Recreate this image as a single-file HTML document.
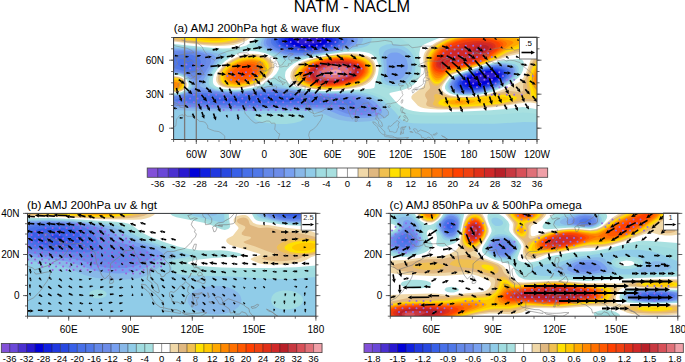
<!DOCTYPE html>
<html><head><meta charset="utf-8"><style>
html,body{margin:0;padding:0;background:#fff;}
svg{display:block;font-family:"Liberation Sans", sans-serif;}
</style></head><body>
<svg width="685" height="362" viewBox="0 0 685 362">
<text x="352" y="11.5" font-size="16.3" text-anchor="middle">NATM - NACLM</text><text x="173.7" y="32" font-size="11.7">(a) AMJ 200hPa hgt &amp; wave flux</text><text x="27" y="208.5" font-size="11.7">(b) AMJ 200hPa uv &amp; hgt</text><text x="389.5" y="208.5" font-size="11.7">(c) AMJ 850hPa uv &amp; 500hPa omega</text><clipPath id="clipa"><rect x="173.6" y="37.5" width="363.4" height="102.0"/></clipPath><g clip-path="url(#clipa)"><rect x="173.6" y="37.5" width="363.4" height="102.0" fill="#8250d8"/><path d="M536.9,139.5L173.6,139.5L173.6,37.5L536.9,37.5L536.9,139.5Z" fill="#6a48d8" fill-rule="evenodd"/><path d="M536.9,139.5L173.6,139.5L173.6,37.5L536.9,37.5L536.9,139.5Z" fill="#4a30d0" fill-rule="evenodd"/><path d="M536.9,139.5L173.6,139.5L173.6,37.5L536.9,37.5L536.9,139.5Z" fill="#2818d0" fill-rule="evenodd"/><path d="M536.9,139.5L173.6,139.5L173.6,37.5L296.5,37.5L294.9,38.8L294.4,40.2L295,41.5L296.2,42.5L301,44.2L307.6,44.8L314.6,44.1L318.2,43.2L320.3,42.2L321.5,41.2L322,39.8L321.3,38.5L320,37.5L536.9,37.5L536.9,139.5ZM476.3,82.5L485.9,80.9L490.9,79.3L494.7,76.8L495.6,75.5L495.5,74.2L493.9,72.9L491.3,72.3L487.6,72.4L483.6,73L478.6,74.5L474.6,76.2L471.4,78.2L470.1,79.8L470,81.2L471.1,82.2L473.3,82.6L476.3,82.5Z" fill="#0000d8" fill-rule="evenodd"/><path d="M536.9,139.5L173.6,139.5L173.6,37.5L289.5,37.5L288.3,39.2L288.1,40.8L289.1,42.5L290.9,43.8L294,45.2L298,46.2L307.3,47L316.7,46.2L321.2,45.2L324.8,43.8L327,42.5L328.3,40.8L328.4,39.2L327.2,37.5L536.9,37.5L536.9,139.5ZM476.3,86.2L485.3,84.2L493.4,80.8L496.3,79L498.3,77.1L499.3,75.2L499.1,73.5L497.2,71.8L493.6,70.9L489.3,70.9L483.7,71.8L476.7,73.8L471.1,76.2L467.4,78.5L465.2,81.2L465.1,83.5L465.8,84.5L467.3,85.5L471.3,86.3L476.3,86.2Z" fill="#1020e0" fill-rule="evenodd"/><path d="M536.9,139.5L173.6,139.5L173.6,37.5L285.3,37.5L284.2,39.5L284.3,41.5L285.4,43.2L287.8,44.8L291.6,46.4L296.3,47.5L306.6,48.4L317.9,47.4L323.6,46.2L327.6,44.8L330.7,43.2L332.2,41.5L332.7,39.5L331.7,37.5L536.9,37.5L536.9,139.5ZM475.4,87.8L480.9,86.9L485.9,85.5L491.2,83.5L495.2,81.5L498.7,79.2L500.9,76.8L501.8,74.8L501.5,72.8L499.3,71L495.3,70L490.3,69.9L484.5,70.8L476.1,73.2L469.5,75.8L465.1,78.5L462.5,81.5L462,83.2L462.2,84.5L463.2,85.8L464.7,86.8L469.3,87.9L475.4,87.8Z" fill="#2038e0" fill-rule="evenodd"/><path d="M536.9,139.5L173.6,139.5L173.6,37.5L282.1,37.5L280.9,39.8L281.1,41.8L282.6,43.8L285.6,45.8L289.6,47.3L294.6,48.5L299.9,49.2L305.9,49.5L312.6,49.2L318.9,48.4L324.9,47.2L330.2,45.5L333.4,43.8L335.5,41.8L336.1,39.8L335.2,37.5L536.9,37.5L536.9,139.5ZM472,89.2L477.9,88.5L483.9,87.2L489.9,85.2L495,82.8L499.4,80.2L502.3,77.5L503.8,74.8L503.6,72.5L501.5,70.5L497.3,69.2L492.3,69L486.3,69.8L478.2,71.8L469.8,74.8L464.7,77.5L461.2,80.5L460.2,82.2L459.8,83.8L460.3,85.5L461.4,86.8L463,87.8L465.6,88.7L472,89.2Z" fill="#2848e0" fill-rule="evenodd"/><path d="M536.9,139.5L173.6,139.5L173.6,37.5L279.3,37.5L278.2,39.8L278.4,42.2L279.9,44.3L282.9,46.3L287.3,48L292.6,49.3L298.6,50.2L304.9,50.5L312,50.2L319.9,49.2L326.5,47.8L332.3,46.1L336.2,44.2L338.4,42.2L339.2,39.8L338.4,37.5L536.9,37.5L536.9,139.5ZM474.8,89.8L480.7,88.8L486.7,87.2L492.9,84.8L498.1,82.2L501.9,79.5L504.5,76.8L505.6,74.2L505.2,71.8L504.3,70.7L502.6,69.7L497.9,68.4L491.9,68.4L484.9,69.5L475.3,72.2L466.8,75.5L461.3,78.8L458.6,82.2L458.1,84.2L458.4,85.8L459.3,87.2L461.3,88.5L463.9,89.4L466.9,89.9L474.8,89.8Z" fill="#3860e8" fill-rule="evenodd"/><path d="M536.9,139.5L173.6,139.5L173.6,37.5L276.8,37.5L275.6,40.2L275.9,42.5L277.7,44.8L280.7,46.8L285.6,48.8L291.3,50.2L297.6,51.1L303.9,51.4L311.6,51L319.9,50L327.9,48.4L334.6,46.5L338.8,44.5L341.1,42.5L342,40.2L341.3,37.5L536.9,37.5L536.9,139.5ZM471.7,90.8L477.9,90.1L484.8,88.5L491.6,86.2L497.9,83.2L502.5,80.2L505.7,77.2L507.2,74.2L506.9,71.5L505.8,70.2L504.2,69.2L499.6,67.8L493.9,67.6L487.1,68.5L476.8,71.2L467.5,74.5L461.2,77.8L457.7,81.2L456.7,83.2L456.5,85.2L457.3,87L458.8,88.5L461.3,89.7L464.3,90.5L471.7,90.8ZM262.8,102.8L291.9,101.8L299.8,100.8L302.2,100.2L302.6,99.5L299.4,98.2L290.2,96.5L279.4,95.5L267.3,95.1L255.4,95.5L230.9,98.3L212.6,98.4L209,98.8L209.8,99.5L213,100.2L229.2,101.8L244.6,102.7L262.8,102.8Z" fill="#4870e8" fill-rule="evenodd"/><path d="M536.9,139.5L173.6,139.5L173.6,37.5L274.4,37.5L273.3,40.2L273.5,42.8L275.3,45.2L278.3,47.2L283.3,49.3L289.3,50.9L295.6,51.9L302.6,52.3L310.9,51.9L320.3,50.7L330,48.8L337,46.8L341.2,44.8L343.9,42.5L344.8,40.2L344.2,37.5L536.9,37.5L536.9,139.5ZM189.7,68.5L192.6,66.8L194.2,64.2L194,61.5L192,59.2L188.6,57.8L184.3,57.6L180.9,58.5L178.5,60.5L177.8,62.2L177.8,63.8L178.3,65.2L179.7,66.5L181.6,67.5L184.9,68.5L187.6,68.8L189.7,68.5ZM471.9,91.5L478.9,90.6L485.9,88.8L493.3,86.2L499.4,83.2L504.3,79.8L507.5,76.5L508.8,73.5L508.3,70.8L507.1,69.5L505.4,68.5L500.3,67.1L494.3,67L486.9,68L475.3,71.2L465.4,74.8L459.5,78.2L457.5,79.8L455.9,81.8L455.1,83.8L455.1,85.8L456.2,87.8L457.9,89.3L460.6,90.5L463.6,91.2L471.9,91.5ZM278.4,104.5L314.8,102.8L326.6,101.7L329.2,101.2L330.3,100.5L328.5,99.5L323.4,98.5L295.8,94.8L283.3,93.7L269.6,93.2L257.9,93.5L230.9,95.8L222.9,95.7L206.9,94.8L198.3,94.9L190.6,96.2L186.9,97.8L185.6,99.2L186,99.8L187.4,100.5L192.1,101.5L213.9,103.5L244.9,104.7L278.4,104.5Z" fill="#5078e8" fill-rule="evenodd"/><path d="M536.9,139.5L173.6,139.5L173.6,67.9L188.9,72.5L192.9,72.8L195.9,71.4L198.8,68.8L200.5,65.8L201.1,62.8L200.5,60.2L198.7,57.8L195.9,56.2L191.6,54.8L186.3,54.2L180.9,54.4L176.6,55.4L173.6,57.1L173.6,37.5L272.2,37.5L270.9,40.5L271.2,43.2L272.9,45.5L275.8,47.5L281.3,49.9L287.6,51.7L294.3,52.8L301.3,53.1L309.9,52.7L320.3,51.4L331.3,49.3L339.2,47.2L343.7,45.2L346.5,42.8L347.7,40.2L347.1,37.5L536.9,37.5L536.9,139.5ZM471.2,92.2L478.3,91.3L485.8,89.5L493.3,86.8L500.2,83.5L505.2,80.2L508.9,76.5L510.3,73.2L509.8,70.5L508.7,69.2L506.9,68L501.9,66.5L495.9,66.3L488.6,67.2L476.1,70.5L464.9,74.5L458.7,77.8L454.9,81.5L453.8,83.8L453.7,85.8L454.6,87.8L456.3,89.5L459,90.8L462.6,91.8L471.2,92.2ZM277.3,105.8L327.9,104.4L337.9,104.7L351.9,105.6L354.5,105.2L355.2,104.2L354.3,102.5L351.2,100.5L347.4,99.2L342.3,98.1L314.6,95.6L289.6,92.8L273.9,92L260.3,92.2L240.3,94.1L231.3,94.6L222.6,94.4L205.3,93L195.9,93.1L190.4,94.2L181.9,97.3L175.7,99.2L174.3,100.2L177,101.5L184,102.8L207.8,104.8L241.3,106L277.3,105.8Z" fill="#6488e8" fill-rule="evenodd"/><path d="M536.9,139.5L173.6,139.5L173.6,103.5L198.6,105.7L234.6,107.1L259.9,107.2L316.6,106.2L329.3,106.3L340.6,107.6L352.9,111.7L359.3,112.6L362.9,112.5L366.3,111.8L368.3,110.7L369.1,109.2L368.8,107.8L367.5,105.8L363.5,102.2L358.3,99.4L351.6,97.4L342.3,96.2L314.9,94.6L281.9,91.1L263.9,90.9L240.3,93.2L230.6,93.6L221.6,93.3L203.9,91.5L196.6,91.4L191.9,92.2L180.9,96.3L173.6,97.3L173.6,70.2L182.6,72L192.6,76.1L195.6,76.2L199.3,74.2L202.7,70.5L205.4,65.8L206.3,61.8L205.7,59.2L204.1,57.2L201.3,55.3L197.1,53.8L190.9,52.6L184.6,52.1L178.6,52.3L173.6,53.2L173.6,37.5L270,37.5L268.7,40.5L268.7,43.2L270.1,45.5L273.3,47.8L279.3,50.5L285.9,52.5L292.3,53.6L299.3,54L308.3,53.6L319.6,52.1L332.5,49.8L341.6,47.5L346.3,45.5L349.3,43.2L350.6,40.5L350.2,37.5L536.9,37.5L536.9,139.5ZM468.8,92.8L476.3,92.2L484.3,90.5L492.4,87.8L499.7,84.5L505.6,80.8L509.9,76.8L511.8,73.2L511.8,71.5L511.4,70.2L510.4,68.8L508.6,67.6L503.6,66L497.6,65.6L490.6,66.4L479.1,69.2L466.1,73.5L459,76.8L454.4,80.5L452.8,83.2L452.4,85.5L452.9,87.5L454.6,89.5L456.9,90.9L460.3,92L464.3,92.7L468.8,92.8Z" fill="#6c8ce8" fill-rule="evenodd"/><path d="M536.9,139.5L173.6,139.5L173.6,105.4L199.9,107.2L232.6,108.2L255.9,108.3L312.3,107.6L324.6,107.8L330.9,108.4L335.9,109.4L345.7,113.2L349.9,114.4L359.3,115.5L365.9,115.2L371.3,114.1L374.8,112.5L375.7,111.5L376.1,110.2L375.7,108.5L374.4,106.5L369.4,101.8L363.3,98.6L356.3,96.4L346.6,95.2L314.9,93.7L281.3,90L265.6,89.8L241.6,92.4L230.6,92.9L220.9,92.3L202.6,89.9L196.6,89.5L192.9,90.4L185.9,93.7L181.6,95.3L177.6,96.1L173.6,96.3L173.6,71.4L178.6,72L182.9,73.1L187.6,75.3L194.3,79.7L195.9,80.2L197.3,80L200.9,77.5L205.3,72.2L209.7,64.8L210.8,62.2L211.1,60.2L210.6,58L208.9,56.2L205.9,54.5L200.7,52.8L194,51.5L186.9,50.7L179.9,50.5L173.6,50.9L173.6,37.5L267.9,37.5L266.3,40.8L266.2,43.5L267.6,45.8L270.3,47.8L276.8,50.8L284.3,53.4L290.6,54.7L297.3,55L306.6,54.5L319.2,52.8L334.4,50.2L344.1,47.8L349.2,45.8L352.4,43.5L354,40.5L353.6,37.5L536.9,37.5L536.9,139.5ZM395.1,63.2L395.4,62.5L394.9,61.8L394.5,62.2L394.4,62.8L394.6,63.2L395.1,63.2ZM472.8,93.2L480.3,92L488.3,89.9L495.9,87L502.8,83.5L508.2,79.8L511.8,76.2L513.4,72.5L513.4,70.8L512.9,69.5L511.6,68L509.8,66.8L503.9,65.2L497.3,65L489.3,66.2L475.6,69.8L462.5,74.5L455.7,78.2L453.5,80.2L451.9,82.5L451.1,85.2L451.5,87.5L453,89.5L455.4,91.2L458.9,92.4L462.9,93.1L472.8,93.2Z" fill="#78a0f0" fill-rule="evenodd"/><path d="M536.9,139.5L173.6,139.5L173.6,107.3L198.6,108.7L229.9,109.6L299.3,109L318.9,109.3L324.9,109.8L329.9,110.8L339.9,115L345.3,116.6L351.6,117.6L358.6,118.1L367.9,117.7L375.6,116.3L378.5,115.2L380.6,113.9L381.8,112.5L382,111.2L381.5,109.2L379.3,106.2L376,102.8L372.8,100.5L364.9,96.8L355.6,94.7L348.3,94.1L327.9,93.7L316.6,93.1L284.3,89.1L274.3,88.4L264.9,88.8L240.6,91.8L227.6,92.1L215.3,90.7L203,87.8L200.3,86.5L199.8,85.8L199.8,84.8L203.9,78.9L214.3,62.2L215.8,58.8L215.6,56.8L213.9,55.2L210.9,53.8L200.2,51.2L186.9,49.5L173.6,49.2L173.6,37.5L265.7,37.5L264,40.8L263.5,43.5L264.3,45.5L266.5,47.5L273.3,50.8L283.3,54.6L288.6,55.8L294.3,56.2L303.3,55.6L316.9,53.8L336.4,50.5L348.1,47.8L353.2,45.8L356.4,43.5L357.8,40.8L357.6,37.5L536.9,37.5L536.9,139.5ZM395.1,80.5L400,79.2L402.3,77.7L404.2,75.8L406.9,70.8L407.6,68.2L407.8,65.2L406.8,60.2L405.6,58L403.9,56.1L399.6,53.3L396.9,52.6L394.3,52.4L391.6,52.8L389.6,53.6L387.9,55L386.9,56.8L386.4,59.8L386.8,67.2L386.7,73.8L387.2,76.8L388.6,78.8L391.3,80.2L395.1,80.5ZM470.9,93.8L478.9,92.8L487.6,90.7L495.9,87.6L503.6,83.8L509.5,79.8L513.4,75.8L515,72.2L515,70.5L514.4,68.8L513.3,67.4L511.3,66.1L505.6,64.5L498.9,64.2L490.9,65.3L476.5,69.2L462.1,74.2L455,77.8L452.7,79.8L451.2,81.8L450,84.5L450.1,87.2L451.3,89.3L453.6,91.2L456.6,92.5L460.9,93.5L465.6,93.9L470.9,93.8ZM175.3,95.5L173.6,95.5L173.6,72.3L180.3,73.1L186.3,75.6L188.9,77.5L191.3,79.8L194.1,83.5L195.1,85.5L194.6,86.8L193.3,88.2L186.6,92.5L180.9,94.7L175.3,95.5Z" fill="#88b8e8" fill-rule="evenodd"/><path d="M536.9,139.5L173.6,139.5L173.6,110L196.6,111.1L224.6,111.6L282.3,110.5L310.6,111.1L317.3,111.8L321.6,112.8L331.6,117.6L338.6,119.8L347.6,121.3L357.3,121.9L369.3,121.3L379.6,119.3L383.6,117.9L386.3,116.4L387.9,114.5L388.3,112.8L387.6,110.5L385.7,107.8L381.2,103.2L377.4,100.2L373.6,98L368.9,96.1L364.3,94.7L359.3,93.7L351.6,93.1L329.3,93L315.9,92.4L304.3,91.1L281.3,87.4L274.9,86.8L267.6,87.2L245.6,90.7L234.9,91.5L221.9,90.9L215.6,89.8L210.6,88.5L207.5,87.2L206,85.8L205.4,84.2L205.9,81.8L207.8,76.8L210.9,71.2L220.4,57.8L221,56.2L220.7,55.2L219.3,54L215.9,52.9L201.9,50.2L187.6,48.4L173.6,47.8L173.6,37.5L263.5,37.5L261.6,40.8L260.7,43.5L260.9,45.5L262.4,47.2L266.8,49.5L283.3,56.3L286.9,57.4L290.9,57.8L297.9,57.3L312.3,55.1L342.2,50.2L353.1,47.8L357.9,46.1L361.2,43.8L362.9,40.8L363,37.5L536.9,37.5L536.9,139.5ZM397.7,83.5L401.3,82.6L404.3,81.1L406.9,79L409.3,76.2L410.9,73L412,69.5L412.3,65.8L411.9,62.2L410.9,58.8L409.3,55.8L407.3,53.4L404.6,51.3L401.3,49.6L397.9,48.6L394.3,48.2L390.6,48.6L387.7,49.5L385.4,50.8L383.9,52.5L383.1,54.5L382.9,57.8L384,67.2L383.8,77.8L385,80.5L387.9,82.6L392.6,83.7L397.7,83.5ZM473,94.2L481.5,92.8L489.9,90.5L498.3,87.3L506.1,83.2L511.6,79.2L515.3,75.2L516.3,73.2L516.8,71.2L516.7,69.5L516,67.8L514.6,66.3L512.6,65.2L506.3,63.6L499.3,63.5L490.6,64.9L473.3,69.8L459.2,74.8L453.3,78.2L451.3,80.2L449.5,82.8L448.7,85.8L449.1,88.2L450.9,90.5L453.6,92.2L457.3,93.4L461.9,94.2L467.3,94.4L473,94.2ZM175.9,94.8L173.6,94.8L173.6,73.1L179.9,73.8L185.6,76.2L187.9,77.9L190,80.2L191.4,82.5L192.1,84.8L192,86.5L191.3,87.8L187.5,91.2L181.9,93.8L175.9,94.8Z" fill="#90cce8" fill-rule="evenodd"/><path d="M494.6,123.8L420.9,123.6L413.3,123.3L407.3,122.4L403.9,121.3L401.3,119.7L395,111.8L385.3,102.4L381.6,99.5L377.5,97.2L372.3,95L366.9,93.4L361.9,92.5L353.6,92.1L327.9,92.4L312.6,91.4L293.8,88.5L286.7,86.8L278.3,84L275.9,83.6L272.9,84L256.3,88.3L241.6,90.5L234.6,90.9L227.9,90.8L221.6,90.1L215.9,88.9L211.3,87.2L209.1,85.2L208.6,82.5L209.3,78.5L211.2,73.8L214.2,68.8L218.6,63.3L225.9,55.8L226.7,54.5L226.6,53.5L225.1,52.5L222.2,51.8L200.5,48.8L186.9,47.3L173.6,46.5L173.6,37.5L261.2,37.5L257.3,44.2L257.1,45.8L258,47.2L261,48.8L274.5,54.2L284.6,59.6L287.9,60.3L291.3,59.9L316.6,55L353.9,49.2L362.6,47.4L366.9,45.9L369.5,44.2L371.2,41.5L372.2,37.5L536.9,37.5L536.9,122.2L524.3,121.9L494.6,123.8ZM396.7,86.2L401.6,85.3L405.9,83.5L409.6,80.8L412.3,77.5L414.3,73.5L415.3,69.2L415.3,64.5L414.4,59.2L413,55.2L410.9,51.9L407.9,49L404.3,46.7L399.9,44.9L395.6,44.1L390.9,43.9L386.6,44.6L383.3,45.7L380.9,47L379.5,48.5L378.8,50.5L379,53.5L381.2,61.8L381.9,66.2L381.9,70.2L381.1,77.5L381.3,80.2L382.8,82.8L386,84.8L390.9,86L396.7,86.2ZM470.5,94.8L479.6,93.7L488.9,91.5L498.3,88L506.6,83.7L512.7,79.5L516.9,75.2L518.2,72.8L518.7,70.8L518.8,68.8L518.1,66.8L516.6,65.2L514.8,64.2L508.6,62.7L501.3,62.6L492.9,63.9L475.2,68.8L458.7,74.5L452.6,77.8L450.6,79.7L448.8,82.2L447.6,85.2L447.5,87.5L448.8,89.8L451.3,91.9L454.6,93.4L458.9,94.4L464.6,94.9L470.5,94.8ZM177.3,94.2L173.6,94.2L173.6,73.8L179.6,74.3L184.8,76.5L187,78.2L188.8,80.2L190,82.2L190.6,84.2L190.7,85.8L190.1,87.5L187.6,90.2L182.6,92.9L177.3,94.2ZM286.3,123.9L274.9,123.9L264.3,122.6L260,121.5L256.8,120.2L254.7,118.5L254.3,117.2L254.9,116.2L256,115.5L260.8,114.2L269.9,113.2L279.9,112.8L290.3,113.1L297.6,113.8L302.5,115.2L304.5,116.8L304.6,118L303.9,119.2L300.6,121.2L294.3,122.9L286.3,123.9Z" fill="#a0dce0" fill-rule="evenodd"/><path d="M447.6,115.5L424.6,115.5L416.9,115L410.3,113.9L404.9,112.3L400.3,110.2L395.3,106.7L388.2,100.2L384.9,97.7L379.6,95L372.6,92.6L367.3,91.5L362.3,91L327.6,91.8L315.9,91.1L304.9,89.8L295.2,87.8L288.1,85.5L284.9,83.5L280.6,78.4L278.9,77.6L275.9,78.4L268.1,83.2L263.9,85.2L257.9,87.1L250.9,88.6L241.6,89.9L232.9,90.3L224.9,89.8L218,88.5L213.3,86.5L211.4,84.2L210.9,82.5L211,80.2L212.5,74.8L215.2,69.8L219.3,64.6L224.6,59.7L233.4,53.2L234.4,51.8L234.2,51.2L230.9,50.4L214.6,49.4L189.6,46.6L173.6,45.3L173.6,37.5L258.8,37.5L252.1,45.8L251.6,46.8L252,47.8L254.2,48.8L266.3,52.2L273.3,55.2L278,58.2L282.9,63.9L284.9,64.9L287.3,64.4L294.6,61.1L300.9,59L321.9,54.7L337.9,52.2L351.9,50.6L363.3,50L369.6,50.5L372.6,51.7L375.3,54L377.6,57.7L379.4,62.2L380.3,68.5L380,72.2L378.5,80.2L378.6,82.2L379.3,83.9L381.2,85.8L384.6,87.3L388.9,88.4L393.6,88.7L398.3,88.4L402.9,87.4L406.9,85.9L410.3,83.9L413.2,81.2L415.6,77.8L417.3,74.2L418.1,70.5L418.1,65.8L416.8,57.2L415.8,52.8L414.6,49.9L412.6,47.1L409.6,44.3L399.5,37.5L536.9,37.5L536.9,113.9L527.6,112.7L522.9,112.6L494.3,114.8L447.6,115.5ZM472.4,95.2L482.3,93.7L491.9,91.1L501.3,87.3L510.2,82.5L515.9,78.2L519.5,73.8L520.5,71.5L521,69.2L521,66.8L520.3,64.8L518.9,63.4L516.9,62.4L509.3,61.3L501.3,61.7L491.6,63.7L470.8,69.8L455.7,75.2L452.9,76.6L450.6,78.5L448.6,81L446.9,83.8L446.2,86.5L446.6,88.8L448.5,91.2L451.7,93.2L455.6,94.4L460.6,95.2L466.3,95.4L472.4,95.2ZM178.3,93.5L173.6,93.7L173.6,74.4L178.9,74.8L183.9,76.7L187.6,79.8L189.4,83.5L189.6,85.2L189.3,86.8L187.4,89.5L183.3,92.1L178.3,93.5Z" fill="#a8e0e0" fill-rule="evenodd"/><path d="M231.6,48.2L222.6,48.4L213.6,48.1L173.6,44.1L173.6,37.5L256.3,37.5L251.6,42.3L246.3,45.4L239.9,47.3L231.6,48.2ZM441.9,112.5L430.3,112.5L420.6,112L413.3,111.1L407.6,109.6L403.1,107.5L398.6,104.4L394.7,100.5L389.4,94.2L389.6,93.2L390.6,92.7L401.9,90.3L408.9,87.8L413.9,84.5L417.6,80.3L419.7,76.5L420.7,72.8L420.8,69.2L419.4,59.2L419.3,53.2L420.2,48.5L421,46.8L422.3,45.5L425.6,43.7L440.4,37.5L536.9,37.5L536.9,109.3L527.6,107.4L522.6,107.1L503.3,109.3L490.9,110.3L441.9,112.5ZM239.6,89.5L230.3,89.6L222.3,88.7L216.6,86.8L214.7,85.5L213.6,84.2L212.9,82.2L212.9,79.5L213.4,76.5L214.6,73.5L218.7,67.2L224.6,61.4L230.6,57.3L237.9,53.6L243.9,51.6L249.6,50.9L257.6,51.4L265.6,53.3L272.3,56.3L276.6,59.8L277.8,61.8L278.7,64.5L279,67.2L278.6,69.8L276.3,73.8L270.6,79.2L264.6,83.3L258.3,86.1L249.6,88.2L239.6,89.5ZM335.3,91.2L323.3,91.1L311.9,90.1L301.6,88.4L293.6,86.2L289.3,83.8L286.4,80.5L285.4,78.2L285,75.8L285.5,71.8L287.1,69.2L290.2,66.2L293.9,63.5L298.3,61.2L308.3,58L323.9,54.9L344.6,52.1L359.3,51.6L364.6,52.1L368.9,53.1L371.9,54.5L374.6,56.9L376.4,59.5L377.8,62.5L378.5,65.5L378.8,68.8L378,74.2L375.3,82.8L374.5,87.2L373.9,88L370.7,88.8L335.3,91.2ZM469,95.8L480.6,94.5L492.3,91.7L502.6,87.6L512.9,82L518.6,77.5L522,72.8L523.1,69.8L523.8,66.2L523.8,62.8L523.1,60.8L521.6,59.6L519.3,59.1L507.9,59.7L499.6,61.1L486.3,64.8L465.4,71.2L454.2,75.2L451.8,76.5L449.9,78.1L446,83.5L444.9,86.5L445.1,88.8L446.8,91.2L449.6,93.2L453.1,94.5L457.3,95.3L469,95.8ZM176.6,93.2L173.6,93.1L173.6,75L178.6,75.3L183.4,77.2L186.9,80.2L188.6,83.8L188.6,85.5L188.2,87.2L185.9,89.8L181.6,92.1L176.6,93.2Z" fill="#ffffff" fill-rule="evenodd"/><path d="M228.6,46.8L219.9,47.2L210.6,46.8L173.6,42.9L173.6,37.5L253.6,37.5L249.5,41.2L244.3,43.8L237.6,45.7L228.6,46.8ZM449.9,110.8L429.3,110.6L421.6,109.9L415.6,108.8L410.8,107.2L406.8,104.8L402.9,101.5L400.8,98.5L400.5,96.5L401.6,94.8L415.3,87.5L419.3,83.9L421.9,80.2L422.9,77.1L423.3,72.8L421.6,60.5L421.6,55.5L423,50.8L426.1,47.2L433.6,42.3L443.9,37.5L536.9,37.5L536.9,105.9L529.7,104.5L524.6,104.3L503.6,107.3L490.6,108.6L469.6,110.1L449.9,110.8ZM240.6,88.8L231.9,89.1L224.3,88.3L218.9,86.6L217.1,85.5L215.8,84.2L214.9,82.5L214.5,80.2L214.7,77.5L215.5,74.8L218.6,69.2L223.6,63.7L229.3,59.5L235.9,56L242.6,53.7L249.3,52.6L256.3,52.6L263.3,53.9L269.6,56.4L273.7,59.5L275.1,61.5L275.9,63.5L276.3,65.8L276,68.5L275.2,70.8L273.9,73.2L269.2,78.2L263.4,82.5L257.3,85.4L249.6,87.6L240.6,88.8ZM337.6,90.5L326.3,90.6L315.3,89.9L305.3,88.5L297.3,86.3L292.4,83.8L289.6,80.8L288,76.8L288,74.5L288.5,72.5L290.1,69.5L292.9,66.5L296.3,63.8L300.3,61.6L310.3,58.2L325.3,55.2L343.3,52.9L350.6,52.5L357.3,52.7L362.9,53.3L367.3,54.4L370.9,56.1L373.6,58.4L375.3,60.8L376.6,63.8L377.3,67.2L377.3,70.5L376.5,74.2L374.9,78.1L372.9,81.6L370.6,84.3L366.9,86.4L360.9,88L349.6,89.6L337.6,90.5ZM471.4,96.2L483.6,94.5L495.6,91.4L506.9,86.6L516.9,81L521.3,77.2L524.3,72.2L527.6,61.2L527.8,58.8L527.3,57.1L525.3,55.8L522.3,55.6L506.9,58.1L455.9,73.8L452.3,75.3L449.6,77.3L446.3,81.5L443.8,85.8L443.4,88.2L444.4,90.5L446.6,92.6L449.9,94.4L453.6,95.4L458.6,96.1L471.4,96.2ZM177.9,92.5L173.6,92.6L173.6,75.6L178.3,75.8L182.6,77.4L185.7,79.8L187.6,83.2L187.6,86.2L185.9,88.9L182.6,91.2L177.9,92.5Z" fill="#ffffff" fill-rule="evenodd"/><path d="M224.3,45.8L215.9,46L206.9,45.5L173.6,41.6L173.6,37.5L250.7,37.5L246.6,40.6L240.9,43.1L233.3,44.9L224.3,45.8ZM460.6,109.5L438.6,109.6L430.6,109.1L424.3,108.2L420.7,107.2L418,105.8L411.6,98.7L411.3,96.8L412.5,94.8L422.9,86.8L424.5,85.2L425.3,83.8L425.6,81.2L425.3,74.8L423.4,61.2L423.3,57.5L423.8,54.8L424.7,52.5L428,48.2L431.3,45.5L435.9,42.6L446.7,37.5L536.9,37.5L536.9,103.4L530.3,102.6L525.6,102.6L495.3,107.1L479.6,108.4L460.6,109.5ZM473.3,96.5L485.6,94.7L497.9,91.6L511.9,86L519.3,82.1L522.9,78.3L525.9,72.9L531.5,57.8L531.9,55.5L531.4,53.8L529.3,52.7L525.6,52.7L509.6,55.7L488.4,63.2L453.6,74L450.9,75.3L448.4,77.5L443.4,84.2L441.8,87.2L441.8,89.5L443.1,91.5L445.9,93.7L449.6,95.3L453.9,96.1L459.9,96.7L473.3,96.5ZM338.9,89.8L327.9,90.1L317.3,89.6L307.3,88.2L299.8,86.2L295.1,83.8L291.8,80.5L290.8,78.5L290.3,76.5L290.8,72.5L292.5,69.5L294.8,66.8L298.2,64.2L302.3,61.8L312.3,58.4L327.3,55.4L343.6,53.5L350.6,53.3L356.6,53.6L361.9,54.4L366.6,55.7L369.9,57.3L372.6,59.6L374.2,61.8L375.4,64.5L376,67.5L375.9,70.5L375.3,73.5L373.9,76.8L372.2,79.5L369.9,82L365.6,84.8L359.3,87L349.9,88.8L338.9,89.8ZM235.3,88.5L227.9,88.1L222.2,86.8L218.5,84.8L216.5,81.8L216.1,79.8L216.2,77.5L217.9,72.5L221.6,67.2L226.6,62.6L232.3,59L238.3,56.4L244.9,54.5L251.3,53.7L257.9,54L263.9,55.3L268.7,57.5L272.2,60.5L273.4,62.5L274,64.8L274.1,67.2L273.5,69.8L272.4,72.2L270.5,74.8L265.1,79.8L259.3,83.5L252.6,86.1L244.3,87.8L235.3,88.5ZM176.3,92.2L173.6,92.1L173.6,76.2L178.3,76.4L182.3,77.9L185.3,80.5L186.9,83.8L186.5,86.8L184.3,89.5L180.6,91.4L176.3,92.2Z" fill="#f0d8a8" fill-rule="evenodd"/><path d="M219.9,44.8L203.9,44.2L177.9,41L173.6,40.2L173.6,37.5L247.4,37.5L242.9,40.4L236.9,42.6L228.9,44.1L219.9,44.8ZM463.6,108.5L448.9,108.7L436.9,108.2L429.3,106.8L427.3,106L426.3,105L426.1,103.8L427.4,100.2L425.2,96.2L425.1,94.2L426.1,92.2L429.6,88.7L430.2,87.2L427,76.5L425.1,62.5L425,58.2L425.4,55.5L426.3,53.2L427.8,50.8L429.9,48.5L433.5,45.5L437.9,42.7L443.3,39.9L449.1,37.5L536.9,37.5L536.9,45.6L534.3,48L531.3,49L508.6,54.4L486.9,63.2L452.3,73.7L449.9,75.1L447.7,77.2L440.1,86.5L438.9,88.8L439.4,90.5L440.9,92.2L443.3,93.9L445.9,95.2L451.6,96.6L460.9,97.2L469.9,97.2L478.3,96.5L507.3,91.1L510.3,91L518.3,91.9L521.9,91.5L523.3,90.2L522.9,86.2L523.4,83.5L530.2,66.5L533.6,59.7L536.9,55.4L536.9,101.6L529.9,100.9L525.6,101L508.3,104.3L496.9,105.9L482.3,107.3L463.6,108.5ZM334.3,89.5L324.6,89.5L315.3,88.8L307.3,87.5L300.8,85.5L296.5,83.2L293.5,79.8L292.3,76.2L292.9,72.2L294.7,69.2L297.6,66.2L301.3,63.6L305.3,61.5L315.9,58.1L331.3,55.3L345.9,54.1L352.3,54.2L357.9,54.8L362.9,55.8L366.9,57.2L369.9,59L372.4,61.5L373.7,63.8L374.5,66.5L374.7,69.2L374.4,71.8L373.4,74.8L371.9,77.4L369.9,79.8L367.6,81.8L362.3,84.7L354.6,87.1L344.9,88.7L334.3,89.5ZM236.9,87.8L229.9,87.6L224.3,86.5L220.3,84.5L218.3,81.8L217.7,77.8L219,73.2L221.9,68.5L226.3,64.2L231.3,60.7L237.3,57.8L243.6,55.9L249.9,54.9L256.3,54.9L262.3,56L267.2,58.2L270.3,60.8L271.5,62.8L272.1,64.8L272.2,67.2L271.7,69.5L269.2,74.2L264.5,78.8L258.9,82.6L252.6,85.3L245.3,87L236.9,87.8ZM177.6,91.5L173.6,91.6L173.6,76.8L177.6,76.9L181.3,78.2L184.3,80.4L185.9,83.2L185.9,86.1L184.4,88.5L181.3,90.5L177.6,91.5Z" fill="#e0b880" fill-rule="evenodd"/><path d="M222.3,43.5L210.3,43.6L195.5,42.2L176.3,39.2L173.6,38.6L173.6,37.5L243.7,37.5L239.9,39.7L234.9,41.5L228.9,42.8L222.3,43.5ZM436.9,85.9L434.6,85.7L432.6,84.4L430.6,82L429,78.8L427.9,74.8L427,68.5L426.4,61.8L426.5,57.8L428,53.2L431.1,49.2L436.4,44.8L443.3,40.9L451.5,37.5L533.3,37.5L533.9,38.5L534.4,40.5L533.9,42.8L532.3,44.8L529.6,46.5L523.3,48.9L507.3,53.4L493.2,60.2L483.6,63.8L466.6,69.2L451.6,73.2L448.2,75.5L440.9,83.6L438.9,85.1L436.9,85.9ZM336.6,88.8L326.9,89L317.6,88.5L309.3,87.2L302.9,85.4L298.3,82.8L295.4,79.8L294.1,76.2L294.1,74.2L294.7,72.2L296.5,69.2L299.1,66.5L302.6,64L306.7,61.8L317.3,58.4L331.6,55.8L345.6,54.7L356.9,55.5L361.9,56.6L365.9,58.1L368.9,59.9L371.2,62.2L372.4,64.2L373.2,66.5L373.4,68.8L373.2,71.5L372.3,74.2L371,76.5L367.2,80.5L361.9,83.6L354.9,86.1L346.3,87.8L336.6,88.8ZM236.6,87.2L230.3,86.9L225.3,85.8L221.8,83.8L219.8,81.2L219.2,77.5L220.4,73.2L223.3,68.6L227.5,64.5L232.3,61.3L237.9,58.6L243.9,56.8L249.9,55.9L255.9,56L261.3,57L265.6,58.8L268.7,61.5L269.9,63.5L270.4,65.5L270.4,67.5L269.9,69.8L267.5,74.2L263.1,78.5L257.6,82.2L251.3,84.8L244.2,86.5L236.6,87.2ZM457.3,107.8L442.3,107.3L437,106.5L434.1,105.5L433.2,104.8L432.8,103.8L434.8,99.2L434.1,96.2L434.3,95L435.3,94.2L436.6,94.1L443.3,96.3L447.3,97L466.9,97.8L477.6,97.1L501.9,93.6L508.9,93.6L521.3,94.8L525.3,94.3L527.1,93.2L528,91.5L526.8,83.2L527.4,79.5L528.8,74.5L532.7,64.8L534.8,61.5L536.9,59.2L536.9,100L528.9,99L525.6,99L510,102.8L497.6,104.9L477.3,106.8L457.3,107.8ZM178.3,90.8L173.6,91L173.6,77.5L177.3,77.6L180.6,78.6L183.3,80.5L185,83.2L185.2,85.5L184.1,87.8L181.6,89.7L178.3,90.8Z" fill="#f0c050" fill-rule="evenodd"/><path d="M221.9,42.2L212.9,42.4L202.9,41.8L186.3,39.5L176.9,37.5L239.5,37.5L236.2,39.2L232.1,40.5L221.9,42.2ZM436.6,83.8L434.6,83.4L432.5,81.8L430.8,79.5L429.5,76.5L428.5,72.2L427.8,66.5L427.6,61.5L428,57.5L429.8,52.8L433.1,48.8L438.3,44.7L444.9,41L453.9,37.5L528.9,37.5L530.2,39.2L530.4,40.8L529.6,42.8L527.9,44.5L525.1,46.2L520.6,47.9L506.9,52.1L492.9,59.5L484.1,63.2L466.2,68.8L451.3,72.5L447.9,74.7L440.9,82.1L438.6,83.5L436.6,83.8ZM331.6,88.5L322.9,88.4L314.6,87.5L307.9,86.1L302.6,84.2L298.7,81.5L296.4,78.5L295.7,75.2L296.6,71.5L298.4,68.8L301.3,66.1L304.9,63.7L309.3,61.6L320.3,58.3L334.3,56L347.3,55.4L357.9,56.6L362.3,57.7L365.9,59.3L368.6,61.2L370.6,63.5L371.6,65.5L372.1,67.8L372.1,70.2L371.5,72.8L368.9,77.2L364.6,80.9L358.3,84L350.6,86.3L341.6,87.8L331.6,88.5ZM240.9,86.2L234.6,86.4L229.3,85.8L225.3,84.5L222.3,82.2L220.8,78.8L221.1,75.2L223,70.8L226.4,66.8L230.6,63.4L235.9,60.5L241.6,58.4L247.6,57.2L253.6,56.9L258.9,57.6L263.4,59.2L266.6,61.5L268.5,64.8L268.6,68.5L267,72.5L263.7,76.5L259,80.2L253.3,83.2L247.3,85.1L240.9,86.2ZM536.9,98.3L532.9,97.3L531.1,95.8L531.1,91.5L529.5,85.8L529.1,82.2L529.8,76.8L531.7,70.5L534.1,65.5L536.9,61.9L536.9,98.3ZM175.9,90.5L173.6,90.4L173.6,78.2L177.3,78.3L180.6,79.4L183.1,81.5L184.3,83.8L184,86.5L182.3,88.5L179.6,89.9L175.9,90.5ZM461.6,106.8L451.9,106.8L443.9,106L439.6,104.8L438.5,103.8L438.3,102.8L439.2,101.2L440.8,99.8L444.9,98.5L473.6,98.1L497.9,95.1L504.3,95L510.6,95.5L515.1,96.5L516.6,97.2L517,97.8L515.9,99.2L512,100.8L499.9,103.5L485.8,105.2L461.6,106.8Z" fill="#ffe000" fill-rule="evenodd"/><path d="M219.3,40.8L212.6,41L205.1,40.5L185.7,37.5L234.2,37.5L227.6,39.7L219.3,40.8ZM438.6,81.9L436.3,82.1L434.3,81.3L432.4,79.5L430.9,76.8L429.6,72.8L428.8,68.2L428.6,63.5L429,59.2L430.6,54.2L433.7,49.8L438.8,45.5L445.6,41.6L456.5,37.5L523.5,37.5L525.1,38.5L526,39.5L526.3,40.8L525.8,42.2L522.8,44.8L519.1,46.5L506.6,50.9L493.2,58.5L487.7,61.2L479.8,64.2L469.2,67.5L460.6,69.8L452.6,71.3L450.3,72.1L447.4,74.2L441.6,80.1L438.6,81.9ZM334.6,87.8L325.9,87.9L317.9,87.4L310.9,86.2L305.3,84.3L301,81.8L298.3,78.8L297.3,75.5L298,71.8L299.7,69.2L302.4,66.5L305.8,64.2L309.8,62.2L320.3,58.9L333.3,56.7L345.6,56L356.3,57.1L360.9,58.3L364.6,59.8L367.3,61.6L369.3,63.8L370.3,65.8L370.8,67.8L370.4,72.2L368.2,76.2L364.3,79.8L358.6,82.9L351.6,85.3L343.6,86.9L334.6,87.8ZM239.6,85.5L233.9,85.5L229.3,84.7L225.7,83.2L223.4,80.8L222.4,77.8L222.9,74.2L224.7,70.5L228,66.8L231.9,63.8L236.8,61.2L242.3,59.3L247.6,58.2L252.9,57.9L257.9,58.6L261.9,60L264.9,62.2L266.7,65.2L266.9,68.8L265.1,72.8L262,76.5L257.3,80L251.6,82.8L245.9,84.6L239.6,85.5ZM536.9,95.9L534.9,94.3L532.2,87.8L531.2,84.5L530.9,81.2L531.3,76.8L532.7,71.8L534.6,67.7L536.9,64.4L536.9,95.9ZM175.9,89.8L173.6,89.7L173.6,79.1L176.6,79.1L179.6,79.9L181.9,81.6L183.2,83.8L183.1,85.8L181.8,87.8L179.3,89.2L175.9,89.8ZM460.9,105.8L453.9,105.8L448.2,105.2L444.6,104.1L443.7,103.5L443.2,102.5L444.1,101.2L446.1,100.2L452.9,99.1L474.3,98.9L491.8,96.8L497.9,96.5L505.6,97L507.9,97.7L508.7,98.5L507.9,99.5L505.6,100.5L496.8,102.5L460.9,105.8Z" fill="#ffc800" fill-rule="evenodd"/><path d="M218.9,38.9L209.6,38.9L198.9,37.5L226.5,37.5L218.9,38.9ZM438.6,80.3L436.6,80.4L434.6,79.5L432.9,77.8L431.5,75.2L430.3,71.5L429.6,67.5L429.5,63.5L430,59.5L431.9,54.2L435.2,49.8L440,45.8L446.6,42L452.6,39.5L459.3,37.5L500.2,37.5L506.6,38.2L516.9,38.5L519.6,39.2L521.1,40.5L521,42.2L518.7,44.2L506.3,49.7L488.4,60.2L480.2,63.5L468.8,67.2L460.9,69.2L450.6,71.1L447.6,72.9L441.3,78.8L438.6,80.3ZM335.9,87.2L327.6,87.4L319.6,87L312.6,85.8L307.2,84.2L302.9,81.8L300,78.8L298.8,75.5L299.4,72.2L301,69.5L303.3,67.1L306.4,64.8L310.6,62.6L320.3,59.5L332.6,57.3L344.6,56.6L354.9,57.6L359.3,58.7L363,60.2L365.9,62L368,64.2L369.5,67.8L369.2,71.8L367.3,75.5L363.6,79L358.3,82L351.6,84.5L344.3,86.2L335.9,87.2ZM240.6,84.5L235.3,84.6L230.9,83.9L227.5,82.5L225.3,80.5L224.2,77.8L224.4,74.5L226.1,70.8L229,67.5L232.8,64.5L237.1,62.2L241.9,60.4L246.9,59.4L251.9,59L256.6,59.6L260.3,60.8L263.2,62.8L264.9,65.5L265.1,68.8L263.6,72.5L260.9,75.8L256.6,79.2L251.6,81.8L246.3,83.5L240.6,84.5ZM536.9,91.6L533.6,86.4L532.8,83.5L532.5,80.5L532.8,76.8L533.7,73.2L535.2,69.5L536.9,66.9L536.9,91.6ZM177.3,88.9L173.6,88.8L173.6,80.2L176.3,80.1L178.6,80.7L180.4,81.8L181.7,83.5L182,85.2L181.2,86.8L179.5,88.2L177.3,88.9ZM462.3,104.5L456.9,104.6L452.3,104.2L449.3,103.4L448.5,102.8L448.2,102.2L449.1,101.2L450.9,100.5L457.3,99.7L470.3,100.2L473.9,100.6L475.4,101.2L473.6,102.2L470.5,103.2L462.3,104.5Z" fill="#ffa800" fill-rule="evenodd"/><path d="M438.9,78.2L436.9,78.3L435.1,77.5L433.5,75.8L432,73.2L431,70.2L430.5,66.8L430.4,63.5L430.9,60.2L432.9,54.9L436.3,50.3L441.1,46.2L447.5,42.5L454.9,39.5L462.8,37.5L493.9,37.5L510,40.5L512.2,41.2L513.4,42.2L513.1,43.2L511.1,44.8L494,56.2L486.8,60.2L478.7,63.5L468.1,66.8L460.9,68.6L450.6,70.2L447.9,71.7L441.6,76.9L438.9,78.2ZM331.6,86.8L324.3,86.8L317.3,86L311.3,84.7L306.6,82.9L303.1,80.5L301,77.8L300.3,74.8L301.2,71.5L303,68.8L305.6,66.5L308.9,64.4L312.8,62.5L322.6,59.5L334.3,57.6L345.6,57.3L355.3,58.5L359.3,59.7L362.7,61.2L365.3,62.9L367.2,65.2L368.3,68.8L367.5,72.8L364.9,76.5L360.6,79.8L354.9,82.5L347.9,84.7L340.2,86.2L331.6,86.8ZM239.6,83.5L234.9,83.4L231.3,82.6L228.6,81.2L226.8,79.2L226.1,76.5L226.6,73.5L228.2,70.5L230.9,67.5L234.5,64.8L238.4,62.8L242.6,61.4L247.3,60.5L251.6,60.3L255.8,60.8L259.3,62.1L261.6,63.9L263,66.5L262.9,69.8L261.3,73.2L258.6,76.1L254.8,78.8L249.9,81.2L244.6,82.8L239.6,83.5ZM536.9,88.2L534.8,84.5L534.1,79.8L534.8,74.5L536.9,69.7L536.9,88.2ZM175.6,87.8L173.6,87.6L173.6,82L175.6,81.9L177.6,82.4L179,83.2L179.9,84.5L179.8,85.8L178.9,86.8L177.6,87.5L175.6,87.8ZM460.3,102.8L456.3,102.7L455.3,102.4L454.9,101.8L456.6,101.2L459.6,101L462.3,101.2L463.6,101.8L462.3,102.5L460.3,102.8Z" fill="#ff8800" fill-rule="evenodd"/><path d="M439.3,75.8L437.3,75.8L435.6,75.1L433.9,73.6L432.6,71.4L431.7,68.8L431.3,66.2L431.9,60.5L434.2,55.2L437.7,50.5L442.4,46.5L448.1,43.2L455.6,40.2L463.5,38.2L467.7,37.5L477.6,37.5L487.7,37.5L494.9,38.6L503.5,40.8L505.6,41.8L506.9,43.2L506.9,44.2L506.2,45.5L501.8,49.5L492.9,55.8L485.2,60.2L477,63.5L467.2,66.5L460.6,68L450.6,69.2L448.3,70.4L442.6,74.6L439.3,75.8ZM333.6,86.2L326.3,86.3L319.3,85.7L313.3,84.5L308.6,82.8L304.9,80.5L302.6,77.8L301.8,74.8L302.5,71.8L304,69.5L306.3,67.2L309.6,64.9L313.3,63.1L322.6,60.1L333.9,58.2L344.9,57.9L354.3,59.1L358.3,60.3L361.6,61.7L364.1,63.5L365.8,65.5L366.9,68.8L366.3,72.5L364,75.8L360.3,78.9L354.9,81.7L348.6,83.8L341.3,85.4L333.6,86.2ZM239.3,82.2L235.6,81.9L232.6,81.1L230.3,79.8L228.8,77.8L228.4,75.5L229,72.8L230.6,70.2L232.9,67.8L236.1,65.5L239.5,63.8L243.6,62.5L247.5,61.8L251.3,61.7L254.6,62.2L257.6,63.4L259.6,65L260.8,67.5L260.6,70.2L259.1,73.2L256.6,75.8L252.7,78.5L248.6,80.3L243.9,81.7L239.3,82.2ZM536.9,84.7L536,82.2L535.7,79.2L536,76.2L536.9,73.1L536.9,84.7Z" fill="#ff7000" fill-rule="evenodd"/><path d="M441.3,73.5L439.3,73.7L436.9,73.1L435.3,72.3L433.9,71L432.9,69.2L432.3,66.8L432.2,64.2L432.6,61.5L434.8,56.5L438.8,51.2L443.3,47.2L449,43.8L455.5,41.2L462.3,39.3L469.4,38.2L476.9,37.7L485.9,38.2L494.3,39.5L500.3,41.3L502.3,42.5L503.2,43.5L503.4,44.8L502.9,46.2L499.5,49.8L491.7,55.5L484.1,59.8L476.1,63.2L467.3,65.8L460.6,67.2L450.6,68.2L448.3,69.4L443.6,72.6L441.3,73.5ZM334.6,85.5L327.3,85.7L320.6,85.2L314.9,84.1L310.1,82.5L306.6,80.4L304.2,77.8L303.3,74.8L303.9,71.8L305.4,69.5L307.6,67.4L310.6,65.3L314.2,63.5L323.3,60.6L333.9,58.8L344.3,58.5L353.3,59.7L360.3,62.2L362.7,63.8L364.5,65.8L365.5,68.8L365,72.2L362.8,75.5L359.3,78.4L354.3,81.1L348.3,83.2L341.6,84.7L334.6,85.5ZM241.9,80.2L238.9,80.3L236,79.8L233.7,78.8L232.3,77.5L231.5,75.5L231.7,73.5L232.6,71.4L234.5,69.2L239.4,65.8L242.6,64.6L245.9,63.8L249.3,63.6L252.3,63.9L254.9,64.8L256.6,66.1L257.6,67.8L257.7,70.2L256.9,72.2L255,74.5L252.5,76.5L249.3,78.2L245.7,79.5L241.9,80.2Z" fill="#ff5800" fill-rule="evenodd"/><path d="M442.3,71.9L440.3,72L437.9,71.5L435.9,70.7L434.6,69.5L433.7,67.8L433.2,65.8L433.7,61.5L435.9,57L441,50.8L445.4,47.2L450.6,44.2L456.7,41.8L463,40.2L469.9,39.1L477.6,38.7L485.6,39.1L492.9,40.2L498.3,42.1L500.5,44.2L500.6,45.5L500.1,46.8L496.8,50.5L489.9,55.5L482.2,59.8L473.8,63.2L465.6,65.5L459.9,66.5L450.6,67.2L442.3,71.9ZM334.9,84.8L328.3,85.1L321.9,84.7L316.3,83.7L311.6,82.1L307.9,80L305.7,77.5L304.8,74.8L305.4,71.8L307,69.5L309.1,67.5L315.4,63.8L323.6,61.1L333.6,59.5L343.6,59.2L352.3,60.3L356.3,61.5L359.2,62.8L361.6,64.5L363.1,66.2L364.1,69.2L363.5,72.2L361.5,75.2L358.3,77.9L353.5,80.5L348,82.5L341.6,84L334.9,84.8ZM242.6,76.5L239.6,75.9L238.2,74.5L238.3,72.2L240.2,69.8L243,68.2L246.3,67.4L249.3,67.5L251.5,68.8L252,69.8L251.9,71.2L249.9,73.8L246.3,75.8L242.6,76.5Z" fill="#ff4000" fill-rule="evenodd"/><path d="M442.3,70.5L440.6,70.6L438.5,70.2L436.6,69.3L435.3,68.2L434.2,65.2L434.8,61.5L436.9,57.8L443.2,50.8L446.9,47.8L451.7,45.2L457.6,42.8L464.1,41.2L470.6,40.2L477.6,39.8L484.9,40L491.3,41L495.6,42.5L497.9,44.5L498.2,45.8L497.7,47.2L494.5,50.8L488,55.5L480.6,59.5L473.1,62.5L465.9,64.5L459.9,65.5L450.3,66L448.3,66.9L444.3,69.8L442.3,70.5ZM334.9,84.2L328.6,84.4L322.6,84L317.3,83.1L312.6,81.5L309.3,79.5L307.2,77.2L306.4,74.5L307,71.8L308.3,69.8L310.3,67.8L316.6,64.2L324.6,61.6L333.6,60.1L342.9,59.8L351.3,60.9L357.6,63.2L360.1,64.8L361.6,66.5L362.5,69.2L362,72.2L360.2,74.8L356.9,77.6L352.6,80L347.3,81.9L341.3,83.4L334.9,84.2Z" fill="#f04010" fill-rule="evenodd"/><path d="M442.3,69.2L438.9,68.8L436.3,67L435.5,64.2L436.2,61.2L438.3,58.4L446.6,50.5L449.8,48.2L453.7,46.2L459,44.2L465.5,42.5L471.7,41.5L478.3,41L484.6,41.2L489.9,42L493.6,43.4L495.4,45.2L495.6,46.5L495.1,47.8L492.1,51.2L486.3,55.1L479.2,58.8L472.4,61.5L464.9,63.5L459.6,64.2L450.3,64.3L448.3,65.2L444.3,68.4L442.3,69.2ZM334.6,83.5L328.6,83.7L322.9,83.3L317.9,82.3L313.9,81L310.9,79.2L308.7,76.8L308,74.5L308.6,71.8L309.9,69.8L311.6,68.2L317.3,64.8L324.9,62.2L333.6,60.8L342.3,60.5L349.9,61.5L356.3,63.7L358.4,65.2L360,66.8L360.9,69.5L360.4,72.2L358.5,74.8L355.6,77.2L351.5,79.5L346.3,81.4L340.6,82.7L334.6,83.5Z" fill="#e03018" fill-rule="evenodd"/><path d="M442.6,67.6L439.9,67.5L437.6,66L437,63.8L437.9,61.2L440.3,59L445.5,56.5L450.2,51.8L454.9,49.1L468.4,44.5L477.9,42.7L483.3,42.6L487.9,43.2L490.9,44.2L492.6,45.8L492.8,46.8L492.4,48.2L489.9,50.8L485.5,53.8L478.8,57.2L470.8,60.2L463.7,61.8L458.6,62.2L451.6,61.5L449.6,61.6L447.9,62.6L444.5,66.5L442.6,67.6ZM333.3,82.8L327.9,82.9L322.9,82.4L318.4,81.5L314.9,80.2L312.2,78.5L310.5,76.5L309.8,74.2L310.3,71.8L311.7,69.8L313.5,68.2L318.6,65.2L325.7,62.8L333.9,61.5L342.3,61.3L349.6,62.4L355.1,64.5L357,65.8L358.4,67.5L359.1,69.8L358.5,72.5L356.4,75.2L353.3,77.5L349.1,79.5L344.3,81.1L338.9,82.2L333.3,82.8Z" fill="#d02828" fill-rule="evenodd"/><path d="M477.6,54.2L474.3,54.3L473.3,53.8L472.8,52.8L473.2,49.5L474,48.2L475.4,46.8L478.4,45.5L482.6,44.8L486.3,45.2L488.6,46.5L488.9,47.5L488.6,48.4L486.6,50.5L482.3,52.8L477.6,54.2ZM441.6,65.5L439.8,64.8L439.5,63.2L440.6,61.8L442.6,61.5L443.6,62.2L443.8,63.5L443,64.8L441.6,65.5ZM335.3,81.9L325.3,81.8L320.9,81.1L317,79.8L314.3,78.3L312.5,76.5L311.8,74.5L312.1,72.2L313,70.5L314.7,68.8L319.6,65.8L325.9,63.7L333.3,62.4L340.9,62.1L347.6,63L353,64.8L356.3,67.5L357.1,69.5L356.9,71.8L355.4,74.2L352.6,76.5L348.9,78.5L344.9,80L340.2,81.2L335.3,81.9Z" fill="#b82028" fill-rule="evenodd"/><path d="M335.9,80.9L326.6,80.9L322.3,80.2L318.9,79.2L316.4,77.8L314.7,76.2L313.9,74.2L314.2,72.2L316.6,69.2L320.9,66.5L326.6,64.5L333.3,63.3L339.9,63.1L346.2,63.8L351.1,65.5L354.1,67.8L354.9,69.8L354.7,71.8L353.5,73.8L351.2,75.8L348.3,77.5L344.3,79.1L335.9,80.9Z" fill="#c83840" fill-rule="evenodd"/><path d="M334.6,79.8L326.9,79.7L320.7,78.2L318.4,76.8L317,75.2L316.6,73.5L317,71.8L318.9,69.5L322.8,67.2L327.6,65.5L333.6,64.4L339.3,64.2L344.6,64.9L348.9,66.4L351.6,68.5L352.3,70.2L352.1,71.8L350.8,73.8L348.8,75.5L345.8,77.2L342.6,78.3L334.6,79.8Z" fill="#d85058" fill-rule="evenodd"/><path d="M335.9,78.2L329.3,78.3L323.9,77.2L322,76.2L320.6,74.8L320.2,73.5L320.4,72.2L321.9,70.2L325.1,68.2L328.9,66.8L333.6,66L338.3,65.8L342.6,66.3L346,67.5L348.2,69.2L348.7,70.5L348.6,71.8L347.9,73.2L346.5,74.5L341.9,76.8L335.9,78.2Z" fill="#e07078" fill-rule="evenodd"/><path d="M336.3,74.9L333.3,75.1L330.6,74.7L328.8,73.8L328.4,72.5L329,71.5L330.5,70.5L334.3,69.5L338.3,69.6L340.9,70.8L341.3,71.8L340.4,73.2L338.7,74.2L336.3,74.9Z" fill="#f0a0a8" fill-rule="evenodd"/></g><clipPath id="clipb"><rect x="27.5" y="213.4" width="288.4" height="102.79999999999998"/></clipPath><g clip-path="url(#clipb)"><rect x="27.5" y="213.4" width="288.4" height="102.79999999999998" fill="#8250d8"/><path d="M315.8,316.1L27.5,316.1L27.5,213.4L315.8,213.4L315.8,316.1Z" fill="#6a48d8" fill-rule="evenodd"/><path d="M315.8,316.1L27.5,316.1L27.5,213.4L315.8,213.4L315.8,316.1Z" fill="#4a30d0" fill-rule="evenodd"/><path d="M315.8,316.1L27.5,316.1L27.5,213.4L315.8,213.4L315.8,316.1Z" fill="#2818d0" fill-rule="evenodd"/><path d="M315.8,316.1L27.5,316.1L27.5,213.4L315.8,213.4L315.8,316.1Z" fill="#0000d8" fill-rule="evenodd"/><path d="M315.8,316.1L27.5,316.1L27.5,213.4L315.8,213.4L315.8,316.1Z" fill="#1020e0" fill-rule="evenodd"/><path d="M315.8,316.1L27.5,316.1L27.5,213.4L315.8,213.4L315.8,316.1Z" fill="#2038e0" fill-rule="evenodd"/><path d="M315.8,316.1L27.5,316.1L27.5,213.4L315.8,213.4L315.8,316.1Z" fill="#2848e0" fill-rule="evenodd"/><path d="M315.8,316.1L27.5,316.1L27.5,213.4L315.8,213.4L315.8,316.1ZM60.6,238.7L62.5,237.8L62.8,236.7L61.8,235.7L59.5,234.7L56.8,234.4L53.8,234.5L51.7,235.1L50.6,236.1L51.1,237.4L53.5,238.5L57.2,239L60.6,238.7Z" fill="#3860e8" fill-rule="evenodd"/><path d="M315.8,316.1L27.5,316.1L27.5,213.4L280,213.4L282.1,214.7L285,215.7L291.8,216.6L298.2,215.7L300.4,214.7L301.9,213.4L315.8,213.4L315.8,316.1ZM65.9,246.1L74.5,244.7L77.5,243.6L79.7,242.1L81,240.1L81.3,238.1L80.7,235.7L79.3,233.7L75.6,231.1L69.9,229.1L61.8,227.8L52.5,227.5L44.5,228.1L37.8,229.5L33.4,231.7L31.9,233.1L30.9,234.7L30.8,237.1L32.5,239.6L35.5,241.7L39.8,243.6L45.5,245L51.8,245.9L58.8,246.2L65.9,246.1Z" fill="#4870e8" fill-rule="evenodd"/><path d="M315.8,316.1L27.5,316.1L27.5,242.5L34.4,245.7L43.8,248L55.2,249.2L68.5,249.4L78.5,248.6L85,247.1L87.2,245.9L88.8,244.4L89.6,242.7L89.9,240.7L89.5,238.1L88.6,235.7L87.3,233.7L85.3,231.7L82.8,230.1L79.8,228.8L72.5,226.9L59.5,225.6L45.2,225.7L34.8,227.1L30.8,228.2L27.5,229.7L27.5,213.4L275.5,213.4L278.2,215.3L281.8,216.7L286.8,217.8L292.5,218.1L297.8,217.8L301.8,216.8L304.6,215.4L306.3,213.4L315.8,213.4L315.8,316.1Z" fill="#5078e8" fill-rule="evenodd"/><path d="M315.8,316.1L27.5,316.1L27.5,246.5L35.5,249.1L45.2,250.8L56.8,251.8L72.5,252.3L86.5,252.4L94.3,251.7L96.8,251.1L98.5,250.3L99.5,249.1L99.7,247.7L98.4,242.7L95,235.4L92,231.7L88,229.1L83.2,227.3L76.8,225.8L68.8,224.8L60.5,224.2L50.5,224L41.2,224.4L33.5,225.2L27.5,226.5L27.5,213.4L272,213.4L275.1,215.7L280.2,217.7L286.2,218.8L293.2,219.3L299.5,218.9L304.6,217.7L308.2,215.8L309.9,213.4L315.8,213.4L315.8,316.1Z" fill="#6488e8" fill-rule="evenodd"/><path d="M315.8,316.1L27.5,316.1L27.5,249.7L35.2,251.6L44.2,253.1L81.5,256.4L88.8,257.8L103.8,261.6L112.8,262.8L121.5,262.7L129.8,261.3L136.7,258.7L138.2,257.4L138.7,256.1L137.5,254.1L133.8,252L116.2,247L109.8,244.2L105.5,240.7L100.1,233.7L97.5,231.1L93.9,228.7L88.6,226.7L76.7,224.4L59.8,223.1L42.2,223.1L27.5,224.5L27.5,213.4L268.8,213.4L272.3,216.1L278.5,218.4L285.8,219.8L293.8,220.3L300.8,219.9L306.6,218.7L309.2,217.7L311.2,216.4L312.5,215.1L313.3,213.4L315.8,213.4L315.8,316.1Z" fill="#6c8ce8" fill-rule="evenodd"/><path d="M315.8,316.1L27.5,316.1L27.5,252.7L41.2,255.2L72.9,258.7L80.8,260.6L100.2,266.5L107.5,267.8L115.2,268.4L126.8,267.8L132.6,266.7L137.8,265.3L142.3,263.4L149.8,259.1L151.8,257.4L152.4,255.7L151.8,254.1L150.3,252.4L147.9,250.7L144.3,249.1L137.2,246.8L121.5,243.1L115.1,240.7L110.6,237.7L103.2,230.4L100.5,228.7L96.6,227.1L90.4,225.4L83.5,224.1L66.2,222.4L45.5,222L27.5,223L27.5,213.4L265.6,213.4L269.7,216.4L276.2,218.8L284.5,220.5L293.8,221.1L301.8,220.8L308.6,219.7L313,218.1L315.8,215.6L315.8,316.1Z" fill="#78a0f0" fill-rule="evenodd"/><path d="M315.8,316.1L27.5,316.1L27.5,256L38.2,257.9L66.2,261.3L74.4,263.4L89.5,268.8L97.8,271.2L107.8,272.9L118.2,273.4L125.5,273L132.2,272L138.2,270.5L144.8,268.1L149.7,265.7L154.9,261.4L161.9,257.4L163,256.4L163.4,255.1L162.9,253.7L161.7,252.4L156.8,249.4L145.6,245.1L122.2,238.2L117.5,235.7L109.3,229.4L103,226.7L96.3,225.1L88.6,223.7L69.5,221.8L48.2,221.1L27.5,221.8L27.5,213.4L262,213.4L265.6,216.1L271.1,218.4L278.2,220.3L285.8,221.5L294.2,222L303,221.7L310.8,220.8L315.8,219.3L315.8,316.1Z" fill="#88b8e8" fill-rule="evenodd"/><path d="M315.8,316.1L27.5,316.1L27.5,261L52,264.1L60.8,265.7L68.2,268.1L84.5,274.9L95.5,277.8L108.8,279.6L123.2,279.8L136.5,278.5L141.8,277.2L146.2,275.6L149.8,273.6L158.8,267.4L159.9,266.1L160.9,263.1L162.6,261.4L166.2,259.6L174,256.7L175.7,255.4L175.2,254.4L173.7,253.4L166.6,250.1L129.9,236.4L124.8,233.8L117.1,228.7L111.2,226.4L94.4,223.4L71.8,221.1L49.8,220.3L27.5,220.7L27.5,213.4L199.4,213.4L206.1,215.1L212.8,215.8L216.4,215.1L216.9,214.4L216.7,213.4L258.4,213.4L260.9,215.7L266.3,218.1L274.4,220.4L282.5,221.9L289.8,222.7L297.5,222.9L307.2,222.5L315.8,221.7L315.8,316.1ZM217.5,314.4L224.2,313.7L229.8,312.2L234.8,309.8L238.6,306.7L240.9,303.1L241.5,299.4L240.4,295.7L237.8,292.4L233.2,289.3L227.2,287.1L219.8,286L211.8,285.9L204.5,286.9L197.8,288.9L192.6,291.7L188.9,295.4L187.5,298.7L187.8,302.4L189.8,305.7L193.2,308.7L198.2,311.3L204.2,313.2L210.8,314.2L217.5,314.4Z" fill="#90cce8" fill-rule="evenodd"/><path d="M289.5,279.1L275.5,279.1L229.5,276.5L191.2,275.5L183.2,274.9L177.5,273.9L174.2,272.8L172.3,271.4L171.9,270.4L172.1,267.7L169,264.4L168.6,263.4L169,262.4L170.8,261.1L174.5,259.6L189.1,256.4L190.5,255.7L190.1,255.1L167.8,247.9L141.8,238.4L132.6,234.1L122.2,227.3L116.8,225.3L104.4,223.4L71.5,220.3L50.5,219.6L27.5,219.8L27.5,213.4L186.1,213.4L192.2,215.4L222.5,222.7L223.8,222.3L224.5,221.1L224.1,213.4L255.8,213.4L257.5,216.1L260.2,217.7L270.2,220.4L279.2,222.3L292.8,223.7L315.8,223.6L315.8,277L289.5,279.1ZM99.2,298.4L94.8,298.2L91.2,296.8L89.2,294.7L89.5,292.7L90.8,291.4L92.5,290.5L97.5,289.6L102.8,290.3L104.8,291.2L106.2,292.4L106.8,294.4L105.5,296.4L102.8,297.7L99.2,298.4ZM288.2,309.4L283.5,309.4L279.4,308.7L275.8,307.4L273.2,305.4L271.6,302.7L271.1,299.7L271.8,296.7L273.5,294.3L275.8,292.6L279.2,291.3L282.8,290.6L287.2,290.4L291.5,291L295.3,292.1L298.8,293.7L301.2,295.7L302.6,297.7L303.1,300.1L302.5,302.4L301.1,304.4L298.8,306.2L295.8,307.7L292.2,308.8L288.2,309.4Z" fill="#a0dce0" fill-rule="evenodd"/><path d="M268.2,270.4L242.8,270.2L213.5,269.2L195.2,267.9L183.2,266.1L178.3,264.4L177.2,263.4L177.3,262.4L178.7,261.4L181.4,260.4L191.2,258.5L209.5,256.3L226.7,255.4L230.2,254.7L229.1,254.1L225.2,253.6L209.8,253.8L198.8,253L188.2,251.3L177.5,248.7L160.9,243.4L145.3,237.4L136.7,233.1L126.6,226.1L123.5,224.7L119.7,223.7L112,222.7L68.8,219.5L49.8,218.8L27.5,218.8L27.5,213.4L177.5,213.4L183.5,215.8L206.5,221L221.5,226.1L224.2,226.6L226.5,225.8L227.5,224.1L226.5,213.4L253.8,213.4L255.2,216.3L256.5,218L258.2,219L260.5,219.6L277.8,223L285.8,224.1L315.8,225.5L315.8,267.9L292.2,269.6L268.2,270.4Z" fill="#a8e0e0" fill-rule="evenodd"/><path d="M270.5,268.1L245.5,268.1L221.2,267.5L202.5,266.3L191.2,264.7L188.3,263.7L187.7,263.1L187.9,262.4L191.2,261L199.2,259.5L212.8,258.1L234.8,256.8L240.8,255.7L242.4,254.7L241,253.7L237.8,252.8L227.2,250.7L220.5,250.2L206.8,250.6L198.5,250.2L188.2,248.8L177.9,246.4L164,242.1L150.2,236.7L141.9,232.4L132.4,225.4L128.8,223.8L124.5,222.7L116.2,221.7L67.5,218.7L50.2,218.1L27.5,218L27.5,213.4L169.8,213.4L172.5,215.7L176.5,217.3L203.6,222.7L211,225.1L221.2,229.3L224.8,229.9L228.2,229L229.6,227.7L230.2,226.4L229,218.1L228.8,213.4L251.8,213.4L253.5,217.1L254.8,219L256.5,220.3L258.5,221L284.8,225L308.2,226.3L315.8,227.4L315.8,265.5L295.8,267.2L270.5,268.1Z" fill="#ffffff" fill-rule="evenodd"/><path d="M269.5,266.7L248.8,266.7L229.8,266.2L216.1,265.4L206.8,264.1L205.3,263.4L205.4,262.7L208.3,261.7L213.5,260.9L237.8,258.6L247.5,256.4L250.1,255.4L250.7,254.7L249.2,253.6L243.5,251.8L220.2,246.3L214.5,245.8L203.2,246.3L195.9,246.1L186.8,244.8L178.3,242.7L165.9,238.7L155.2,234.4L149,230.7L142.8,225.1L139.9,223.7L136.3,222.7L128.4,221.4L119.5,220.6L98.5,220L61.8,217.8L27.5,217.1L27.5,213.4L162.5,213.4L162.3,218.7L163.3,220.1L165.5,221.2L171.5,222.3L189,223.7L197.8,225.1L205.9,227.4L217.5,232.7L220.8,233.5L224.2,233.7L227.2,233.4L229.2,232.6L232.1,230.1L233.6,228.1L233.6,226.4L231.9,222.7L231.3,220.4L231.3,217.7L232.2,213.4L249.2,213.4L253.7,220.4L255.2,221.6L257.2,222.4L267.5,223.4L285.8,226.3L307.5,227.9L315.8,229.7L315.8,258.9L313.8,261.7L312.2,262.7L309.2,263.7L301.2,265.1L287.5,266.2L269.5,266.7Z" fill="#ffffff" fill-rule="evenodd"/><path d="M141.2,219.4L133.5,219.7L101.8,219.3L62.8,217.1L27.5,216.2L27.5,213.4L155.5,213.4L153.2,215.6L149.8,217.3L145.8,218.6L141.2,219.4ZM282.2,264.4L266.5,264.4L262.2,264L258.8,263.2L251.8,260.2L250.8,259.4L250.7,258.7L252.9,257.4L260.1,255.1L260.5,254.7L260.1,254.1L250.5,250.9L233.4,246.1L229.4,244.4L227.1,242.7L226.1,241.1L226.5,239.4L227.8,238.3L232.8,235.7L238.5,228.4L238.2,227.1L235,223.7L233.8,221.7L233.6,219.4L234.8,217.4L236.5,216.2L239.2,215.4L242.5,214.9L245.2,215L247.2,215.7L248.8,217L253.2,222.7L256.5,224.2L259.5,224.7L268.2,225.1L285.2,227.8L304.8,229.7L310.8,231.1L315.8,233.1L315.8,255.7L311.3,257.1L306.3,260.1L300.8,261.9L292.5,263.5L282.2,264.4Z" fill="#f0d8a8" fill-rule="evenodd"/><path d="M115.5,218.4L98.2,218.4L62.8,216.4L27.5,215.3L27.5,213.4L148.9,213.4L144.2,215.7L137.5,217.3L129.8,218L115.5,218.4ZM285.2,261.1L278.2,261.2L271.5,260.8L265.2,259.8L262.2,258.7L262.2,258.1L263.8,257.4L276.5,255.5L277.7,255.1L277.8,254.7L266.1,250.7L253.8,245.9L245.7,243.4L243.8,242.4L243.7,241.7L244,241.4L249.5,239.2L250.6,238.4L251.1,237.4L250.1,236.7L244.2,235.8L241.8,234.4L241.7,232.7L245,228.7L245.4,227.1L244.5,226.1L239.9,224.1L237.8,222.7L236.9,221.1L237.4,219.4L239,218.4L241.5,217.7L243.8,217.6L246,218.1L247.2,218.7L248.4,220.1L249.7,224.1L250.5,225L258.2,227.7L260.2,227.9L266.2,227.4L269.9,227.7L284.8,231L302.5,233.7L315.8,236.9L315.8,254.3L303.4,256.7L298.9,258.7L295.5,259.8L285.2,261.1Z" fill="#e0b880" fill-rule="evenodd"/><path d="M116.2,217.4L104.5,217.7L94.2,217.4L63.8,215.6L27.5,214.3L27.5,213.4L142.4,213.4L138.2,215L132.8,216.1L116.2,217.4ZM301.5,254.7L291.8,254.3L283.1,252.4L279.9,251.1L277.9,249.7L277,248.4L276.9,246.7L278.4,244.7L281.5,242.7L286.2,240.9L291.8,239.5L298.2,238.5L304.2,238.2L310.2,238.4L315.8,239.2L315.8,252.9L309.2,254.1L301.5,254.7Z" fill="#f0c050" fill-rule="evenodd"/><path d="M109.5,216.7L94.5,216.7L64.8,214.9L29.9,213.4L135.8,213.4L131.5,214.6L126.2,215.5L109.5,216.7ZM305.2,253.1L296.8,253L289.8,251.7L285.7,249.7L284.7,248.4L284.6,247.1L285.9,245.4L288.5,243.8L292.1,242.4L296.5,241.4L306.8,240.4L315.8,241.2L315.8,251.2L310.9,252.4L305.2,253.1Z" fill="#ffe000" fill-rule="evenodd"/><path d="M111.2,215.7L94.5,215.9L53,213.4L129,213.4L121.8,214.7L111.2,215.7ZM305.2,251.1L299.8,251.1L295.5,250.4L292.5,248.8L292,248.1L292,247.1L293.2,245.7L295.8,244.4L302.8,242.8L310.5,242.7L313.8,243.4L315.8,244.2L315.8,247.3L314.8,248.1L310.6,250.1L305.2,251.1Z" fill="#ffc800" fill-rule="evenodd"/><path d="M105.2,215.1L92.5,214.9L71.9,213.4L121.5,213.4L114.2,214.5L105.2,215.1Z" fill="#ffa800" fill-rule="evenodd"/><path d="M104.5,214.1L95.5,214.1L85.1,213.4L112.8,213.4L104.5,214.1Z" fill="#ff8800" fill-rule="evenodd"/></g><clipPath id="clipc"><rect x="390.3" y="213.4" width="287.49999999999994" height="102.79999999999998"/></clipPath><g clip-path="url(#clipc)"><rect x="390.3" y="213.4" width="287.49999999999994" height="102.79999999999998" fill="#8250d8"/><path d="M677.6,316.1L390.3,316.1L390.3,213.4L677.6,213.4L677.6,316.1Z" fill="#6a48d8" fill-rule="evenodd"/><path d="M677.6,316.1L390.3,316.1L390.3,213.4L677.6,213.4L677.6,316.1Z" fill="#4a30d0" fill-rule="evenodd"/><path d="M677.6,316.1L390.3,316.1L390.3,213.4L677.6,213.4L677.6,316.1Z" fill="#2818d0" fill-rule="evenodd"/><path d="M677.6,316.1L390.3,316.1L390.3,213.4L677.6,213.4L677.6,316.1Z" fill="#0000d8" fill-rule="evenodd"/><path d="M677.6,316.1L390.3,316.1L390.3,213.4L677.6,213.4L677.6,316.1Z" fill="#1020e0" fill-rule="evenodd"/><path d="M677.6,316.1L390.3,316.1L390.3,213.4L677.6,213.4L677.6,316.1Z" fill="#2038e0" fill-rule="evenodd"/><path d="M677.6,316.1L390.3,316.1L390.3,213.4L677.6,213.4L677.6,316.1Z" fill="#2848e0" fill-rule="evenodd"/><path d="M677.6,316.1L390.3,316.1L390.3,213.4L677.6,213.4L677.6,316.1Z" fill="#3860e8" fill-rule="evenodd"/><path d="M677.6,316.1L390.3,316.1L390.3,213.4L677.6,213.4L677.6,316.1ZM450.3,229.4L451.6,229.1L452.6,228.2L453.3,226.9L453.4,225.4L452.3,223.1L451,222.3L449.6,222.2L447.4,223.4L446.6,225.7L447,227.1L447.9,228.4L450.3,229.4ZM660.2,298.4L665.5,297.4L666.8,296.7L667.1,296.1L665.7,295.1L663,294.4L654.3,293.8L646.3,294.4L643.9,295.1L642.7,296.1L643.1,296.7L644.4,297.4L648,298.2L654,298.6L660.2,298.4Z" fill="#4870e8" fill-rule="evenodd"/><path d="M677.6,316.1L390.3,316.1L390.3,213.4L677.6,213.4L677.6,316.1ZM451,231.4L453,230.6L454.2,229.1L455,227.1L455.1,224.7L454.5,222.7L453.3,221.3L451.6,220.4L449.6,220.3L447.6,220.9L446,222.2L444.9,223.7L444.6,225.7L445.4,228.1L447,230L449,231.2L451,231.4ZM586.7,221.7L586.3,221.1L584.7,221.4L585.3,222L586.7,221.7ZM406.6,242.4L408,241.5L408.5,240.4L408.4,239.1L407.4,237.7L406,237.1L404.6,237L402.1,238.4L401.4,240.1L402,241.4L404.3,242.5L406.6,242.4ZM661.1,299.4L669.3,298.1L671.4,297.1L671.9,296.1L670.4,294.7L666.7,293.7L661.1,293.1L654.3,292.8L647.5,293.1L642.4,293.7L639.2,294.7L638,296.1L638.6,297.1L639.8,297.7L645.3,299L653,299.6L661.1,299.4Z" fill="#5078e8" fill-rule="evenodd"/><path d="M677.6,316.1L390.3,316.1L390.3,213.4L677.6,213.4L677.6,316.1ZM587.6,224.1L590.3,223.3L591.6,221.7L591,220.1L589,218.9L586.3,218.4L583.3,218.6L580.5,219.7L579.2,221.1L579.4,222.4L581.1,223.4L584.2,224.1L587.6,224.1ZM450.9,233.1L453.3,232.2L455,230.4L456.1,227.7L456.4,224.4L455.8,222.1L454.3,220.1L452.3,219L450,218.7L447.6,219.3L445.2,221.1L443.5,223.4L443.1,225.7L443.9,228.4L446,231.1L448.3,232.7L450.9,233.1ZM406.5,247.1L409.3,246.1L411.3,244.7L412.6,242.7L413.1,240.4L412.4,237.7L410.7,235.4L408.3,233.8L406,233.4L402.4,234.4L398.6,236.7L396.7,239.1L396.2,241.4L397.2,244.1L399.5,246.1L403,247.2L406.5,247.1ZM504.6,249.7L506.3,248.4L506.3,247.4L505.6,246.5L503,245.5L501.6,245.6L500.6,246.2L500.3,247.5L501.3,249.1L502.7,249.7L504.6,249.7ZM662.5,300.1L668.3,299.4L672.5,298.4L675,297.1L675.4,295.7L673.3,294.3L668.4,293.1L661.6,292.4L653,292.1L645.6,292.4L639.6,293.2L636,294.4L635,295.1L634.5,296.1L635,297.1L636.6,298.1L643,299.6L652.3,300.3L662.5,300.1Z" fill="#6488e8" fill-rule="evenodd"/><path d="M677.6,316.1L390.3,316.1L390.3,213.4L677.6,213.4L677.6,294.7L674,293.3L667.6,292.2L659,291.7L649.3,291.6L642,292.1L636.1,293.1L632.8,294.4L631.6,296.1L632.7,297.7L636.6,299.3L643,300.3L650.6,300.9L660,300.8L668,300.2L674.1,299.1L677.6,297.6L677.6,316.1ZM588.2,225.1L592.3,223.9L593.4,223.1L594.1,221.7L594,220.6L593.2,219.4L590,217.5L586,216.9L581.6,217.4L577.5,219.1L575.5,221.1L575.5,222.1L576,222.7L578.6,224.1L583.6,225L588.2,225.1ZM451.9,234.4L454.3,233.1L456.1,230.7L457.2,227.1L457.4,223.4L456.7,220.7L455,218.7L452.6,217.5L450,217.2L447,218.3L444,220.7L442.2,223.4L441.7,226.1L443.3,229.7L446,232.9L449,234.4L451.9,234.4ZM407.2,249.1L410.6,247.9L413.3,246.1L415,243.7L415.7,240.7L414.9,237.4L412.9,234.1L410.3,231.7L407.3,230.7L403.6,231.7L396.5,236.1L394.3,238.4L393.5,241.4L393.8,243.4L394.6,245L397.8,247.7L402.3,249.2L407.2,249.1ZM505.6,253.4L508.9,251.7L511.4,249.1L511.6,246.7L510.1,244.4L506.6,242.4L502.6,241.7L498.6,242.1L495.7,243.7L494.6,245.4L494.4,247.4L495,249.4L496.3,251L498.3,252.4L500.6,253.3L503.3,253.6L505.6,253.4ZM588.5,269.4L591.8,268.4L592.5,267.7L592.4,266.7L590,265.4L586,264.9L582.3,265.6L580.3,267.1L580.5,268.1L582.3,269.1L585.3,269.6L588.5,269.4Z" fill="#6c8ce8" fill-rule="evenodd"/><path d="M677.6,316.1L390.3,316.1L390.3,213.4L677.6,213.4L677.6,293.3L672,292.1L664.3,291.4L654,291.1L644.3,291.3L637.6,291.9L633,293L630,294.4L629.1,296.1L629.3,297.1L630.3,298L633.5,299.4L638.6,300.5L646,301.2L655.3,301.5L664.6,301.1L672,300.4L677.6,299.1L677.6,316.1ZM452.3,235.7L455,234.1L456.8,231.4L458.1,227.1L458.3,222.4L457.5,219.4L455.7,217.4L453,216L450,215.8L447,216.9L443.4,220.1L440.9,223.4L440.4,226.1L442.3,230.5L445.6,234.4L449,235.9L452.3,235.7ZM589.7,225.7L592.3,225.1L594.3,224.1L595.7,222.7L596.2,221.4L595.8,219.7L594.6,218.3L592.6,217L590,216L585,215.6L579.3,216.5L574.1,218.7L572.4,220.1L571.6,221.4L571.8,222.4L572.9,223.4L576.8,224.7L584,225.8L589.7,225.7ZM407,250.7L411.3,249.5L414.7,247.4L416.9,244.7L417.8,241.4L417.1,237.4L414.6,232.5L411.3,228.6L409.6,227.5L408.3,227.1L406,227.7L400.7,231.7L394,236.1L392,238.4L391.3,241.1L391.5,243.4L392.4,245.4L394,247.3L395.9,248.7L398.3,249.9L401,250.6L407,250.7ZM505.6,255.4L507.6,254.8L509.4,253.7L513.6,249.4L514.2,248.1L514.2,246.7L512.5,243.7L508.9,241.1L503.6,239.7L498,240L495.6,240.9L493.8,242.1L492.3,244.1L491.5,246.7L491.9,249.1L493.4,251.4L495.9,253.4L498.9,254.7L502.3,255.4L505.6,255.4ZM589.8,272.1L595,271.3L598.9,270.1L600.7,268.7L600.7,267.1L599,265.1L595.9,263.4L592,262.4L587,262L582.3,262.5L578,263.7L574.8,265.4L573.4,267.4L573.4,268.4L574.1,269.4L577.6,271.2L583.3,272.1L589.8,272.1Z" fill="#78a0f0" fill-rule="evenodd"/><path d="M677.6,316.1L390.3,316.1L390.3,245.6L392.9,248.7L397,251.1L402,252.2L407.3,252.1L412.3,250.8L416.3,248.4L418.9,245.1L419.8,241.4L418.9,236.7L413.9,224.4L411.3,221.4L408,220.1L405.6,220.2L403.8,221.1L403.2,222.4L402.9,226.7L401.4,229.4L398.3,232L392.1,235.7L390.3,237.6L390.3,213.4L677.6,213.4L677.6,292.4L670.9,291.4L661.3,290.8L650.3,290.6L641,291L634.6,291.7L630.5,292.7L628,294.1L626.8,296.1L627,297.1L627.8,298.1L630.3,299.4L635.3,300.6L642.3,301.5L652,301.9L662.3,301.8L671,301.2L677.6,300.1L677.6,316.1ZM451.4,237.4L454.6,236L457,233.1L458.6,228.2L459.3,222.4L458.7,219.1L457.3,216.7L454.3,214.9L451,214.2L448,214.9L445.3,217L440.4,222.4L439.4,224.1L439,225.7L439.4,227.4L440.7,230.1L444.6,235.4L447.6,237.2L451.4,237.4ZM590.2,226.4L593.3,225.7L595.9,224.4L597.5,222.7L598.1,220.7L597.4,218.7L595.7,217.1L593.3,215.7L590.3,214.8L584.3,214.3L577.6,215.5L570.1,218.4L567.6,220.1L566.6,221.4L566.6,222.4L567.7,223.4L571.8,224.7L583.2,226.4L590.2,226.4ZM507.3,256.7L509,256L511,254.5L514.2,251.1L515.7,248.7L516.1,247.4L515.9,246.1L513.6,242.4L511.6,240.7L509.3,239.4L506.6,238.5L503.3,238L497,238.4L494.3,239.4L492.3,240.9L490.2,243.7L489.4,246.7L489.7,249.4L491.4,252.1L494.4,254.4L498.6,256.1L503.3,257L507.3,256.7ZM589.3,274.1L596.6,273.3L603.3,271.9L606.6,270.4L607.2,269.7L607.2,268.7L606.3,267.1L604.3,264.7L600.5,261.7L596.3,260.3L590.3,259.7L582.3,260.3L575.6,261.9L570.1,264.7L568.2,266.4L567.2,268.1L567.3,269.4L568.5,270.7L573.4,272.7L581,274L589.3,274.1Z" fill="#88b8e8" fill-rule="evenodd"/><path d="M677.6,316.1L390.3,316.1L390.3,248.7L394,251.4L398.6,253L404.3,253.6L410,252.9L414.6,251.4L418.5,248.7L421,245.4L421.8,241.7L421.4,238.7L419.3,231.4L418.7,226.4L418.1,224.7L416.4,222.4L413,219L411,217.6L408.6,216.7L406,216.5L403,216.8L400.6,217.5L399,218.6L398.4,220.4L400.7,225.7L400.3,228.4L397.4,231.4L390.3,235.3L390.3,213.4L447.9,213.4L445.6,215.3L439.3,222.4L437.9,224.4L437.6,226.1L438.7,229.1L443.5,236.4L446,238.3L449.3,239.1L453,238.4L455.6,236.7L457.6,233.8L459.1,229.1L460.1,222.7L459.9,218.4L458.3,215.4L455.2,213.4L580.8,213.4L573,215.2L563.8,218.4L560.6,220.5L559.9,221.7L560,222.7L561.5,224.1L565,225L587.6,227.2L592,226.8L595.6,225.6L598.4,223.7L599.9,221.1L599.6,218.7L597.6,216.4L594.3,214.5L590.4,213.4L677.6,213.4L677.6,291.6L669.2,290.7L658.3,290.2L646.6,290.2L637.3,290.7L631.9,291.4L628,292.6L625.5,294.4L624.8,296.4L625.8,298.4L628.3,299.8L633,301L639.6,301.8L649.6,302.3L660.3,302.3L670,301.8L677.6,300.9L677.6,316.1ZM507.1,258.4L509.3,257.8L511,256.7L516.7,249.7L517.4,248.1L517.5,246.7L515.9,243.1L513.8,240.7L511.3,238.8L508.6,237.4L505.6,236.6L502,236.2L498.3,236.4L495.3,237.1L492.6,238.5L489.8,241.4L487.8,245.4L487.5,248.7L488.8,251.7L491.7,254.4L496.4,256.7L502,258.1L507.1,258.4ZM591.6,275.7L600.3,274.8L609.9,273.1L614.3,271.8L615.2,270.7L608.9,265.1L605.6,259.9L604.4,258.7L601.3,257.6L596.3,257.2L584.3,257.9L575,259.8L568.2,262.4L554.9,268.7L553.1,270.1L553.5,270.7L556.2,271.7L572.3,275L582,275.9L591.6,275.7ZM654,272.1L661.6,271.2L667.3,269.9L670.6,268.2L671.3,267.4L671.4,266.4L669.3,264.4L664.6,262.5L658.6,261.2L654,261.2L650.3,262.4L645,266.2L637.6,270.7L637.6,271.1L638.6,271.6L642,272.1L654,272.1Z" fill="#90cce8" fill-rule="evenodd"/><path d="M677.6,316.1L390.3,316.1L390.3,251.1L394.3,253.3L399.6,254.5L406,254.7L412,253.7L417,251.9L420.6,249.4L423.1,246.1L424,242.4L421.8,232.7L422.1,227.1L421.8,225.7L412.6,216.1L411,214.8L409.3,214.1L405.6,213.7L400.6,214.3L396.6,215.6L394,217.4L393.3,218.7L393.6,219.7L398.2,224.4L399,226.1L399,227.7L398.1,229.4L396.3,231L390.3,233.8L390.3,213.4L445.9,213.4L442.2,218.1L436.8,224.1L435.9,226.4L436.5,228.1L442.8,238.4L445.3,240.2L448.6,240.8L452,240.4L454.6,239.2L456.8,237.1L458.4,234.1L460.1,227.4L461.1,219.7L460.7,216.1L459,213.4L573,213.4L563,215.9L558,217.9L554.4,220.7L553.7,222.4L553.8,223.7L555.6,225.3L559,226L572,226.5L588,227.7L592.4,227.4L596.3,226.2L599.2,224.4L601.4,221.7L601.9,219.4L601.3,217.4L599,215.1L595.8,213.4L677.6,213.4L677.6,261.3L660.3,253.9L652.3,251.5L639.3,249.8L625.3,249.7L619,250.4L600.3,253.8L575.3,257.2L557.6,262.7L542,265L537.1,266.1L532.3,268.2L531,269.4L530.6,270.7L531.3,272.4L533.2,273.7L536.3,274.9L540.3,275.7L584,277.8L594.6,277.3L619.6,274.6L644,274.6L658.3,274L669.6,272.8L677.6,271.1L677.6,291L668,290.2L655.6,289.8L643.6,289.8L634.6,290.3L629.6,291.1L626,292.3L623.8,294.1L622.9,296.4L623.6,298.5L626,300.1L630,301.2L636.3,302.1L646.3,302.7L658,302.8L669,302.5L677.6,301.7L677.6,316.1ZM498.9,226.1L501.3,225.4L502.9,224.1L503.1,222.4L502.2,220.7L500,219L497,217.7L494.3,217.5L492.3,218.2L491.5,219.4L491.4,220.7L491.8,222.4L492.9,224.1L495.6,225.9L498.9,226.1ZM509.7,259.7L511.3,259.1L512.3,258.1L516.6,252L518.5,248.7L518.8,246.1L516.9,242.4L514.6,239.9L512,237.6L509,235.9L506,234.8L502.3,234.2L498.3,234.3L495.3,235.1L492.6,236.5L489,240.3L486.2,245.4L485.7,249.1L486.9,252.1L490.6,255.3L496.3,257.9L504,259.7L509.7,259.7ZM630,269.1L622.6,269.1L616.3,267.5L613.8,266.1L612.1,264.4L611.3,262.7L611.5,261.1L613.3,259.1L616.3,257.6L620.3,256.8L625.6,256.4L631.3,256.6L637,257.6L640.6,259L642.8,260.7L643.1,261.7L643,263.1L642.1,264.4L640.5,265.7L635.6,267.9L630,269.1Z" fill="#a0dce0" fill-rule="evenodd"/><path d="M390.6,214.8L390.3,215L390.3,213.4L393.2,213.4L390.6,214.8ZM677.6,316.1L614,316.1L614.7,314.7L613.3,313.3L610,312.1L606.3,311.8L602.6,312.3L600.3,313.4L599.9,314.7L601.1,316.1L390.3,316.1L390.3,253.4L394.3,254.9L399.3,255.7L405,255.9L410.6,255.3L416,254L420.5,252.1L423.7,249.7L425.7,247.1L426.5,245.1L426.7,242.7L424.5,235.4L424.1,232.7L424.4,230.7L425.6,227.4L425.5,226.4L417.7,219.7L412.7,213.4L444.5,213.4L441,218.5L434.3,225.1L433.6,226.7L437.7,232.7L441.4,240.7L443.6,242.4L447,243L450.6,242.6L454,241.3L456.3,239.6L458,237.1L459.7,232.1L461.8,221.7L462.3,216.7L461.9,213.4L562.5,213.4L556.6,215.4L551.8,218.7L548.7,222.7L548.3,224.4L549,225.9L550.6,226.9L553.6,227.4L571.3,227.1L588.6,228.3L593,227.9L596.6,226.9L599.8,225.1L602.5,222.4L604,219.7L604,217.4L602.8,215.4L600.3,213.4L677.6,213.4L677.6,250.4L668.6,247.8L656.3,246L639.6,244.9L629.3,245.3L623,246.4L597.3,252.1L570.6,254.9L537,262.9L525.6,265L523.6,265.7L522.4,266.7L521.6,268.4L521.3,270.1L521.6,271.7L522.6,273.4L526.2,276.1L531.6,277.8L539,278.5L560.6,278.5L587.6,279.6L618.3,277L658.3,275.7L677.6,274.4L677.6,290.4L652,289.3L640,289.4L631.6,289.9L627.1,290.7L624.1,292.1L622,294.1L621.1,296.7L621.9,299.1L624,300.6L627.6,301.7L633,302.4L643.3,303.1L655.3,303.3L667.4,303.1L677.6,302.4L677.6,316.1ZM512.7,261.7L514.2,260.7L515.3,257.1L519.6,249.1L520.1,246.7L519.5,244.7L517.6,241.6L514.6,238.4L504.1,230.4L504.2,229.4L506.5,226.1L506.9,224.4L506.4,222.4L504.7,220.1L501.6,217.5L498,215.7L494.3,214.9L491.3,215.3L490.2,216.1L489.4,217.4L489.2,219.1L489.5,221.1L491,224.7L494.9,229.7L495.3,231.1L489.6,237.5L485.8,243.4L484,248.1L483.9,249.7L484.3,251.4L485.7,253.4L487.7,255.1L494.4,258.4L505,261.2L509.6,261.8L512.7,261.7ZM390.6,232.4L390.3,232.5L390.3,221.5L395.6,224L397,225.4L397.5,227.1L397,228.7L395.8,230.1L393.6,231.4L390.6,232.4ZM630,267.4L624.3,267.6L619.3,266.6L615.9,264.7L615.2,263.7L615.2,262.4L616.2,261.1L618.6,259.9L622,259.1L626,258.8L630.3,259L634,259.7L636.8,260.7L638.4,262.1L638.4,263.7L636.7,265.4L633.6,266.7L630,267.4Z" fill="#a8e0e0" fill-rule="evenodd"/><path d="M430.3,225.1L428.3,225L426.3,224.3L421,221.3L417.2,217.7L414.7,213.4L443.5,213.4L441.3,217.1L438,220.6L433.6,223.8L430.3,225.1ZM677.6,316.1L620,316.1L619.9,315.1L619.1,314.1L615.3,311.8L610.6,310.5L605.3,310L600,310.5L596,311.7L594.5,312.7L593.9,313.7L593.8,315.1L594.4,316.1L390.3,316.1L390.3,255.6L394.6,256.5L399.3,257L409.3,256.7L420,254.3L424.9,252.4L428,250.7L431.1,248.1L432.7,245.4L432.4,244.1L428.1,238.1L426.8,234.7L426.8,233.1L427.3,231.3L428.4,230.1L430,229.4L431.6,229.5L433.4,230.4L435.1,232.1L436.3,234.1L437.1,238.1L436.1,244.1L437.3,245.7L440,246.6L443,246.7L447.6,245.8L452.6,244.1L455,242.9L456.6,241.4L458.9,237.4L460.3,232.4L464.3,213.4L488.3,213.4L487.4,215.7L487.6,219.1L488.6,222.6L491.4,229.1L491.6,231.4L490.7,233.7L482.7,247.1L482,250.1L482.6,252.4L485.1,255.1L490,257.8L495.6,259.9L508.2,263.7L511.9,265.4L513.7,267.4L515.2,271.7L516.6,274.2L518.6,276.4L521.1,278.1L524.8,279.4L530.3,280L559.3,279.7L587.6,281.1L637.6,277.9L677.6,276.5L677.6,289.8L648,288.9L636.3,288.9L629.1,289.4L625,290.3L622.3,291.7L620.2,294.1L619.4,297.1L619.9,299.4L621.6,301L624.6,302.1L629.3,302.8L652.6,303.8L677.6,303.1L677.6,316.1ZM530.3,262.4L526,262.6L522,262.1L519.3,261.1L517.8,259.7L517.5,257.4L521.2,247.7L521.3,246.4L520.8,244.7L518,240.4L511.4,233.7L509.6,231.4L509,229.4L509.4,224.4L508.1,221.4L503.6,216.9L498.3,213.4L554.2,213.4L547.6,219.4L544.3,223.1L542.8,225.4L542.5,227.1L543.3,228.4L545,229L547.6,229.2L568.6,227.7L575.3,227.8L588.3,228.8L592,228.7L595.2,228.1L598,227.1L600.8,225.4L603.1,223.4L605.3,220.7L606.7,218.4L607.2,216.4L606.8,214.7L605.7,213.4L677.6,213.4L677.6,243L648.6,240.7L638.6,241L631.2,242.4L610,247.9L600,250L590.3,251.2L575,251.7L551.5,256.1L548,257.1L539,260.7L530.3,262.4ZM391.3,231.1L390.3,231.3L390.3,223.6L394.1,224.7L395.3,225.8L395.9,227.1L395.6,228.4L394.8,229.4L391.3,231.1ZM628,266.1L624.6,266L621.5,265.4L619.7,264.4L619.1,263.1L619.9,262.1L621.3,261.4L626.3,260.6L631.3,261.1L633,261.7L634.2,262.7L634.2,263.7L633.2,264.7L631,265.6L628,266.1ZM420.4,288.4L425.3,287.7L429,286.5L431,285.1L431.2,283.4L429.6,282L426.1,280.7L421,280L414.6,279.7L409.1,280.1L405,280.9L402.1,282.1L400.7,283.7L400.9,284.7L402,285.9L406.3,287.6L413,288.5L420.4,288.4ZM454,292.4L458.1,291.1L458.9,290.1L458.7,289.1L456,287.4L451.3,286.8L446.6,287.6L445.3,288.4L444.6,289.4L445.1,290.7L447.3,291.9L450.6,292.5L454,292.4Z" fill="#ffffff" fill-rule="evenodd"/><path d="M431.6,223.4L429.6,223.7L427.3,223.4L422.3,221.2L418.4,217.7L416.1,213.4L442.5,213.4L440.7,216.7L438,219.7L434.6,222.2L431.6,223.4ZM677.6,316.1L627.5,316.1L621,312.4L615,309.9L609.6,308.6L603.6,308.2L593,308.9L583.9,310.4L576.8,312.7L570.6,316.1L502.1,316.1L495.6,315.2L489.3,314.9L482.3,315.2L475.3,316.1L390.3,316.1L390.3,290.1L400.6,291.1L411,291.5L435,290.9L446.3,293.4L453,293.8L458.5,293.1L464.7,291.1L468.9,288.7L469.8,287.7L470.1,286.7L469,284.8L466,282.6L463.3,281.4L460,280.8L419,277.6L406,277.5L390.3,278.2L390.3,257.8L399.3,258.5L407.3,258.2L414,257.2L427.3,254.5L439.6,253.6L444.1,252.4L455.3,245.5L458,242.5L459.8,237.4L463.5,220.7L466.5,213.4L484.8,213.4L486.6,220.1L489.6,228.1L490,231.4L488.5,235.4L480.4,248.7L479.8,251.1L480.2,253.1L482,255.1L486.1,257.4L502.4,263.4L506.9,265.7L508.9,267.7L511.3,272.4L513.4,275.4L516.1,278.4L518.4,280.1L521.3,281.1L525,281.4L558,280.5L590.3,282.2L616,281.4L633.6,279.5L648.3,278.5L677.6,278.1L677.6,289.2L641.3,288.3L626.6,288.7L623,289.7L620.3,291.5L618.2,294.7L617.6,298.1L618,300.1L619.3,301.7L622,302.8L626,303.4L650,304.2L677.6,303.8L677.6,316.1ZM530.6,261.1L527,261.2L524,260.8L521.6,259.8L520.5,258.7L520.3,256.7L522.5,247.1L522.1,244.7L519.9,241.1L513.8,234.7L511.9,232.1L511.2,229.4L511.4,224.4L510.5,222.1L508.3,219.4L502.2,213.4L549.9,213.4L544,220.1L534.4,227.7L533.8,229.4L534,231.4L534.6,232.5L536.3,232.9L553,229.9L565.6,228.4L574.3,228.2L589,229.4L595.3,228.7L599.5,227.1L603.4,224.4L607.1,220.7L613.4,213.4L677.6,213.4L677.6,237.9L665.6,238.1L649.6,236.2L645.3,236.4L641,237.4L619.3,244.2L606.3,247.5L595,249.3L581.3,249.6L574.3,250.4L548.7,255.1L538,259.5L530.6,261.1ZM391,229.8L390.3,229.9L390.3,225.3L393,226.1L393.9,227.4L393.2,228.7L391,229.8Z" fill="#ffffff" fill-rule="evenodd"/><path d="M432,222.4L427.6,222.5L423,220.7L419.2,217.4L417.9,215.4L417.2,213.4L441.6,213.4L440.4,216.1L438,218.9L435,221.2L432,222.4ZM470.3,316.1L390.3,316.1L390.3,295.1L403.3,294.3L432.3,293.6L438,293.8L448.3,294.9L454,294.9L466.6,293.2L482.3,292.1L486.3,290.6L489.2,288.1L490.4,286.1L490.9,284.1L490.7,282.4L489.6,281L478.4,276.1L473,274.6L466.3,274.3L445.6,275.8L432.3,276L404.6,274.8L390.3,273L390.3,260.4L404.6,260L426,256.9L442.3,256.2L449,254.3L455.3,250.7L457.6,248.5L458.9,246.1L463.6,222.7L465.9,217.1L468.7,213.4L482.2,213.4L484.6,217.7L488.6,228.4L488.8,231.4L487.8,234.7L484.1,241.1L477.5,250.4L476.8,252.4L477.2,254.1L479,255.7L482.2,257.4L497.8,263.1L502.6,265.4L505.1,267.7L507.5,272.1L509.6,274.7L514.9,280.4L517.8,282.1L524,282.6L545.6,281.3L558.3,281.1L568.3,281.5L587,283.1L604.3,283.1L617.3,283.6L621,283.3L633.3,280.8L645.3,279.6L661.6,279L677.6,279.3L677.6,288.5L628.3,287.3L622.6,287.9L620,289.5L617.6,292.4L616.1,296.1L615.5,300.1L615.8,302.1L616.6,303.3L618.2,304.1L620.6,304.4L677.6,304.6L677.6,314.4L657.3,315.4L637.6,314.8L632,314L627.3,312.8L615,307.4L612.3,306.7L608,306.3L589.6,306.3L561.6,308.3L534,308.1L530,308.8L522,312.4L515.6,313.8L509.3,314.2L496.3,313.5L489.6,313.5L480,314.4L470.3,316.1ZM532,259.4L526.6,259.4L524.8,258.7L523.8,257.7L522.8,252.1L523.8,246.7L523.2,244.1L521.1,240.7L515.6,235.3L513.6,232.7L512.7,230.1L513,224.7L512.5,222.7L504.7,213.4L546.8,213.4L544.8,216.7L541.6,219.9L538,222.4L532.5,225.1L531,226.4L530.5,228.4L530.7,234.4L531.3,235.7L532.6,236.3L534.6,236L542.3,233.3L548.3,231.6L562.3,229.2L573.3,228.6L590,229.9L596,229.2L599.3,227.9L602.3,226.2L612.6,217.5L619,213.4L672.9,213.4L670.1,217.1L664.3,222.4L663.6,224.1L664.3,224.7L665.4,225.1L677.6,226.7L677.4,234.7L671.6,235.5L665.3,235.5L659.3,234.7L652.3,232.8L648.6,232.9L643.6,234.3L624.3,241.6L609,245.9L597.3,247.8L584.3,248L578,248.7L560.6,252.2L547.3,254.2L536.6,258.2L532,259.4Z" fill="#f0d8a8" fill-rule="evenodd"/><path d="M431.3,221.8L427.3,221.6L423,219.8L419.7,216.7L418.3,213.4L440.7,213.4L439.5,216.1L437.2,218.7L434.3,220.7L431.3,221.8ZM469.6,252.5L467.3,252.3L465,250.9L463,248.5L461.7,245.4L461.3,242.1L461.3,238.1L463.2,226.1L465.8,219.1L467.3,216.7L469.3,214.7L471.4,213.4L479.4,213.4L481,214.5L482.6,216.4L485.7,222.4L487.7,228.4L487.5,232.7L484.8,238.7L480,245.2L474.3,250.3L471.6,251.8L469.6,252.5ZM533.6,256.8L530.6,257L528.6,256.7L527,255.7L525.3,253.7L524.3,251.1L525.4,246.1L524.5,242.7L523.2,240.7L517.3,235.7L514.8,232.7L513.8,229.7L514.5,224.7L514.1,222.7L508.5,216.1L506.8,213.4L544.4,213.4L542.9,216.4L540,219.3L536.3,221.6L530.3,224.1L528.8,225.4L528.4,226.7L528.8,231.4L528.5,236.7L529,238.1L530.6,238.8L533.3,238.3L541,234.9L546.6,232.9L553.3,231.2L561,229.9L573,229.1L590.3,230.5L596.6,229.6L602.4,227.1L614,218.2L622.6,213.4L669.4,213.4L665.9,217.7L653,228.6L633,237.3L621.3,241.6L613,244L605,245.7L597.6,246.6L587.3,246.6L582,247.2L560.6,251.5L546.6,253.4L533.6,256.8ZM670.6,233.1L667,233.2L663.6,232.7L661.1,231.7L660.3,230.4L660.8,229.7L662.3,229L667.6,228.4L672.6,228.9L674.3,229.6L675.3,230.4L675.3,231.4L674.4,232.1L670.6,233.1ZM467,316.1L390.3,316.1L390.3,301.8L409,297.7L416.3,296.7L434.6,295.8L451.6,296.2L465.6,294.8L480,294.4L485.3,293.7L490.3,291.7L492.2,290.1L493.6,288.1L494.7,285.1L495.3,281.4L494.9,279.1L493.8,277.7L477,272.4L470.3,271.2L459,271.4L442.3,273L433.3,273.4L421.3,273.2L410,272.3L402.3,271.1L396.5,269.4L393.3,267.4L392.9,266.4L393.1,265.7L394.4,264.7L397.6,263.7L418.9,260.1L427.6,259.2L442.3,259.1L456.3,255.7L467.6,254.6L492.2,262.4L498.6,265.1L501.7,267.7L503.5,272.1L504.8,273.7L509.3,277.3L514,282L517.1,283.4L523,283.6L548.6,281.8L563.3,281.8L586,283.8L608.3,284.7L615,286L616.5,286.7L617.2,287.7L616.9,289.4L612.4,301.1L610.6,302.9L607.3,304L601.6,304.6L586.1,305.1L561.3,307.3L530.3,306.8L526.3,307.5L518.3,310.5L513.3,311.6L508,312L496,311.8L489.3,312.1L477.3,313.8L467,316.1ZM677.6,287.9L658.6,287.7L640.7,287.1L631.5,286.1L629.3,285.4L628.6,284.7L629.4,283.7L633,282.4L643.6,280.7L659,279.9L674.3,280.2L677.6,280.5L677.6,287.9ZM666,313.4L649.6,313.6L635.6,312.7L627.3,310.7L623.8,309.1L622.8,307.7L623.3,306.9L625.3,306.2L633.3,305.5L677.6,305.5L677.6,312.4L666,313.4Z" fill="#e0b880" fill-rule="evenodd"/><path d="M430.6,221.1L427,220.8L423.3,219.1L420.5,216.4L419.3,213.4L439.9,213.4L438.6,216.1L436.3,218.6L433.6,220.3L430.6,221.1ZM524.6,238.2L523,238.2L520.6,237.1L518,235.2L516.1,233.1L515.2,231.4L514.9,229.7L516,224.7L515.9,223.1L514.9,221.4L510,216.1L508.5,213.4L542.4,213.4L541,216.4L538.2,219.1L534.6,221L528.3,223.3L526.8,224.4L526.5,225.7L527.4,230.1L527.3,232.7L526.2,236.4L524.6,238.2ZM536.6,254.4L530.3,254.2L528.3,253.5L526.7,252.1L526,249.7L527.2,246.4L527.8,243.1L529,241.9L539,236.7L547,233.5L557.3,231L567.6,229.7L575.6,229.6L590,231L596.6,230.3L602.3,228L615,218.8L625.4,213.4L666.9,213.4L665.4,215.7L662.7,218.4L649,228.4L633.6,236L620.3,241L612.6,243.1L605.3,244.6L599.3,245.3L585.3,245.8L561.3,250.8L546.3,252.7L536.6,254.4ZM472.6,248.8L470.3,249L468,248.6L466,247.6L464.1,245.7L463,243.7L462.4,241.4L462.3,234.7L464,225.4L466.6,219.1L468.6,216.7L470.6,215.2L473.3,214.1L476,213.9L479.6,215.1L482.7,218.4L486.2,225.7L486.9,228.4L487,231.1L485.5,236.1L481.4,242.4L477,246.6L472.6,248.8ZM493.3,273.7L486.6,272.9L476.6,269.2L472.6,268.2L459.3,266.9L453.9,266.1L450.6,265.1L449.9,264.4L449.9,263.7L451.2,262.1L453.6,260.4L456.6,259.4L460,259L468.3,259.4L485.6,262.1L494.1,264.7L496.5,266.1L498.2,267.7L498.8,270.1L498,272.3L496.3,273.3L493.3,273.7ZM432.6,269.7L425.6,269.9L419,269.2L414.5,268.1L413.3,267.4L412.7,266.4L413.8,265.1L417.5,263.7L422.3,262.9L427.3,262.5L433,262.7L438.3,263.4L443.6,264.7L444.8,265.7L443.6,267.1L440.6,268.4L432.6,269.7ZM464,316.1L390.3,316.1L390.3,303.2L410.3,300.7L436.3,299.6L463.3,296.4L481,296L486.6,295.3L491.3,293.5L494.6,290.8L496.5,287.4L499.2,278.7L500.6,277.1L502.3,276.6L504.3,276.8L506.6,277.8L509,279.4L513,283.2L514.7,284.1L517,284.6L522.3,284.5L547,282.4L564.3,282.4L585.3,284.4L606.3,285.8L612.1,287.4L613.4,288.4L613.9,289.7L613,294.1L610.6,299.4L608,301.6L603.6,302.9L561.3,306.5L551.6,306.6L533.3,305.8L527.3,305.9L523.3,306.6L516.6,308.8L512.6,309.8L507.6,310.2L496,310.2L489.6,310.6L476,313.1L464,316.1ZM677.6,287.1L663.3,287.3L646.3,286.7L637.9,285.7L635.9,285.1L635.3,284.4L636.3,283.5L638.4,282.7L647.3,281.3L659,280.7L671,280.9L677.6,281.6L677.6,287.1ZM665,312.1L652.6,312.4L640.8,311.7L633,310.4L630.4,309.4L629.5,308.4L630.5,307.4L633,306.8L642.3,306L665,306L677.6,306.8L677.6,310.4L672.3,311.4L665,312.1Z" fill="#f0c050" fill-rule="evenodd"/><path d="M431.6,220.1L428,220.2L424.3,218.8L421.6,216.4L420.3,213.4L438.9,213.4L438,215.6L436.3,217.6L434,219.3L431.6,220.1ZM523.6,236.1L522,236.3L520.3,235.7L518.3,234.3L516.7,232.4L516.1,230.7L516,229.1L517.9,224.4L517.9,223.1L517,221.7L511.9,216.7L510.1,213.4L540.5,213.4L539.5,216.1L536.5,218.7L533,220.5L526,222.7L524.4,223.7L524.2,224.7L525.9,228.7L526.2,231.4L525.4,234.4L523.6,236.1ZM540,252.8L535,253L531,252.4L528.6,251.1L528.1,250.1L528.2,249.1L530.8,243.7L533.3,241.4L540.3,237L548.6,233.6L558.3,231.3L568.3,230.1L576,230.1L590.3,231.6L597,231L602.6,228.6L615.6,219.6L627.9,213.4L664.8,213.4L663.3,215.7L660.6,218.4L646.3,228.5L633,235.3L620,240.2L606.6,243.4L601,244.1L587.6,244.5L561.3,250.2L540,252.8ZM473.3,247.1L471,247.4L468.6,247L466.6,246L465,244.4L463.9,242.7L463.2,240.4L462.9,234.4L464.3,226.1L465.5,222.7L467,219.9L468.8,217.7L471,216.1L473.3,215.2L475.6,215L479.3,216.2L481,217.6L482.6,219.7L485.6,226.1L486.2,228.7L486.2,231.1L484.7,236.1L481.3,241.4L477.3,245.2L473.3,247.1ZM492,270.4L488.6,270.4L485.3,269.4L482.2,267.4L481.3,265.7L482.6,264.8L485,264.6L488.3,265L491.3,266L493.1,267.1L493.9,268.4L493.4,269.7L492,270.4ZM461.3,316.1L390.3,316.1L390.3,304.2L400.6,302.7L411,301.8L444.9,301.1L465.6,297.8L481.6,297.8L486.3,297.3L491.3,295.5L495.7,292.4L498,289.1L500.8,281.4L502.3,279.9L504,279.4L507,280.2L512.3,284.4L516,285.5L521,285.4L546,282.9L564,282.9L603.6,286.7L609.3,288.4L610.6,289.4L611.2,290.7L611.3,292.4L610.7,294.7L608.4,298.7L605.4,300.7L600.6,302L561.3,305.9L551,306L532,305L525.3,305.1L510.3,308.4L495,308.5L489,309.2L475.3,312.3L461.3,316.1ZM668,286.7L648.6,286.2L643.3,285.4L641.4,284.4L642.6,283.4L645,282.7L656,281.6L668.3,281.7L677.6,282.9L677.6,286L668,286.7ZM659,311.1L650.9,311.1L643.6,310.5L638.6,309.5L637.6,309.1L637.3,308.4L638.5,307.7L642.8,307.1L655,306.7L667.2,307.1L671.5,307.7L672.9,308.4L671.9,309.4L669.4,310.1L659,311.1Z" fill="#ffe000" fill-rule="evenodd"/><path d="M430.6,219.4L427.6,219.2L424.6,218L422.3,215.7L421.4,213.4L437.9,213.4L437,215.4L435.2,217.4L433,218.8L430.6,219.4ZM523.3,221.8L520.3,221.7L516.6,219.7L513.1,216.4L511.6,213.4L538.8,213.4L537.7,216.1L534.6,218.6L530.6,220.2L523.3,221.8ZM542.6,251.4L536,251.6L533.3,251.1L531.9,250.4L531.3,249.1L532.9,244.4L534.9,241.7L538.8,238.7L543.9,236.1L549.6,233.9L559.3,231.6L569.3,230.5L577,230.7L590,232.3L596,232L599.3,231L602.6,229.5L616.6,220.1L630.3,213.4L662.9,213.4L661.5,215.7L659.1,218.1L644.2,228.4L632,234.7L620,239.4L613,241.3L606.6,242.4L601.6,242.9L593.3,242.9L588.3,243.4L568,248.4L559.6,250L542.6,251.4ZM472.3,246.1L470,246L468,245.3L466.3,244.1L465,242.4L463.6,238.1L463.7,231.7L465.3,224.7L468,219.7L469.6,218.1L471.6,216.8L473.6,216.2L476,216.1L478,216.7L479.6,217.7L482.6,221.1L485.1,226.7L485.5,231.4L483.8,236.4L480.4,241.4L476.3,244.8L472.3,246.1ZM522.3,234.8L520.6,234.5L519.2,233.7L517.9,232.4L517.1,230.7L517.1,229.1L517.6,227.7L519,226.1L520.3,225.5L521.6,225.6L523,226.4L524.3,228.1L524.9,229.7L525,231.4L524.5,233.1L523.6,234.2L522.3,234.8ZM459,316.1L390.3,316.1L390.3,305.1L400.3,303.5L412,302.5L448.3,302.1L468,299.4L474,299.4L484.3,300.1L487.6,299.8L491,298.2L497.3,293.1L499.7,289.7L502.3,283.7L503.3,282.6L504.6,282.1L506.6,282.6L511.6,285.6L516,286.4L547.3,283.3L558.3,283.1L569.3,283.8L601.3,287.4L606.4,289.1L608,290.3L608.6,291.7L608.6,293.4L608,295.4L605.9,298.4L602.6,300.2L597.3,301.5L562.3,305.3L550,305.4L527,304.2L521,304.7L508.6,307.1L492.6,306.8L484.6,308.6L459,316.1ZM670,285.7L663,286L655.3,285.8L650,285.2L647.9,284.4L648.5,283.7L651.2,283.1L661,282.4L670.5,283.1L673.3,283.7L674.3,284.4L673.6,285.1L670,285.7ZM658.6,309.1L653.6,309.3L650.2,308.7L651,308.4L655,308.1L659,308.4L659.8,308.7L658.6,309.1Z" fill="#ffc800" fill-rule="evenodd"/><path d="M430.6,218.4L428,218.3L425.6,217.4L423.6,215.6L422.6,213.4L436.7,213.4L436,215.1L434.4,216.7L432.6,217.8L430.6,218.4ZM523.6,220.4L520.3,220.1L517,218.6L514.3,216.1L513.1,213.4L537.1,213.4L536.8,214.7L536,216.1L533.4,218.1L529.3,219.5L523.6,220.4ZM549,250.4L540,250.4L536.3,249.7L535.4,249.1L534.9,248.1L534.7,245.4L535.1,243.7L538,240.4L543.6,236.9L551,234.1L559.3,232.1L565.6,231.2L571.6,230.9L577.6,231.2L591,233.1L595,233L598.6,232.2L604.3,229.6L618.5,220.1L632.7,213.4L661.1,213.4L659.7,215.7L657.3,218L642.7,228.1L632.1,233.7L621.2,238.1L614.1,240.1L608,241.2L603.3,241.5L595.3,241.5L591.3,241.9L564.3,248.6L556.3,249.9L549,250.4ZM474,244.8L471.6,245.1L469.6,244.7L468,244L466.3,242.6L464.5,239.1L464.1,233.7L465.2,226.7L467.6,221.4L469.3,219.4L471,218.1L473,217.3L475.3,217L478.6,218.1L481.7,221.1L484.2,226.1L484.9,230.7L483.8,235.1L481,239.7L477.6,243L474,244.8ZM522.3,233.1L521.3,233.3L520,232.8L518.5,231.1L518.5,229.1L520,227.5L522,227.7L523.5,229.4L523.6,231.7L522.3,233.1ZM510.6,305.4L505.6,305.6L500.5,305.1L495.8,303.7L494.3,302.4L494.5,299.7L495.5,297.4L500.1,292.1L503.6,286.7L505.3,285.5L507,285.6L512,287L516,287.2L545,283.9L555.3,283.6L565.6,284L592,286.8L598.3,287.8L603.8,289.7L605.3,291.1L606,292.7L605.8,294.4L605.2,296.1L602.9,298.4L599,300.1L592.3,301.4L570,304.1L562,304.8L549.3,304.9L526,303.5L520,303.9L510.6,305.4ZM456.3,316.1L390.3,316.1L390.3,305.9L399.6,304.3L410.3,303.3L421.6,303L448,303.1L470,301.1L475.3,301.3L480.9,302.1L485.3,303.3L486.7,304.4L485.8,305.7L481.6,307.7L456.3,316.1Z" fill="#ffa800" fill-rule="evenodd"/><path d="M431.3,216.8L429.3,217.1L427,216.5L425.1,215.1L424.2,213.4L435.1,213.4L433.6,215.5L431.3,216.8ZM526.6,219.1L522.3,219.3L518.9,218.4L515.8,216.1L515,214.7L514.7,213.4L535.4,213.4L534.8,215.4L533,217L530.3,218.3L526.6,219.1ZM551.3,249.7L543.6,249.6L539.2,248.7L537.7,247.7L536.9,246.4L536.6,244.7L536.9,243.4L538.1,241.7L539.8,240.1L545.5,236.7L552.9,234.1L561,232.3L567,231.5L572.6,231.4L578.3,231.9L591.6,234L595.6,234L599,233.3L604.6,230.6L614.3,223.7L619.3,220.7L635.1,213.4L659.2,213.4L658.2,215.4L655.8,217.7L641.2,227.7L632,232.7L622.3,236.7L615.4,238.7L609.6,239.8L605,240.1L597.3,239.8L593.6,240.2L567,247.5L558.6,249.1L551.3,249.7ZM472.6,244.1L470.6,244L469,243.4L467.3,242.2L466.1,240.7L464.8,236.7L464.8,231.4L466.1,225.7L468.4,221.4L471.6,218.7L473.6,218L475.6,218L479,219.3L481.8,222.4L483.9,227.1L484.2,231.4L482.8,235.7L479.9,240.1L476.3,242.9L472.6,244.1ZM558.3,304.4L547.6,304.3L526,302.8L520,303L510.3,304.1L506,304L502.6,303.4L500,302.2L498.4,300.4L498,298.4L498.5,296.7L499.9,294.7L504,289.8L506.3,288.1L517.3,287.9L536.6,285.2L547.3,284.3L556.3,284.1L565.1,284.4L592.3,287.5L596.7,288.4L600.3,289.6L602.4,291.1L603.3,292.7L603.1,295.1L601.8,297.1L599.3,298.7L596,299.9L570.6,303.5L558.3,304.4ZM454,316.1L390.3,316.1L390.3,306.8L403,304.6L418.3,303.7L448.6,304L470.3,302.7L476.4,303.4L478.4,304.1L479.5,305.1L478.8,306.4L476.4,307.7L454,316.1Z" fill="#ff8800" fill-rule="evenodd"/><path d="M429.6,213.7L427.8,213.4L431.2,213.4L429.6,213.7ZM526.6,218.1L522.6,218.2L519.5,217.4L517.2,215.7L516.4,213.4L533.6,213.4L533.1,215.1L531.7,216.4L529.6,217.4L526.6,218.1ZM552.6,249.1L546,248.9L541.3,248L539.7,247.1L538.8,246.1L538.3,244.7L538.5,243.4L539.6,241.7L541.3,240.1L547.1,236.7L554.9,234.1L564,232.3L570.3,231.9L576.3,232.2L596,236.3L597.6,236.3L604.6,232.2L614.3,225.1L619.1,222.1L624.9,219.1L637.8,213.4L657.2,213.4L656.3,215.4L654.2,217.4L639.5,227.4L631.7,231.7L623,235.4L616,237.4L609.3,238.4L604.6,238.2L597,236.8L585.8,241.4L573.2,245.4L562,248L552.6,249.1ZM473.3,243.1L471.3,243.1L469.6,242.6L467,240.5L465.5,237.1L465.3,232.1L466.4,226.4L468.6,222.2L471.6,219.6L473.3,219L475.3,218.8L478.6,220.1L481.3,222.9L483.2,227.1L483.6,231.1L482.4,235.1L479.9,239.1L476.6,241.9L473.3,243.1ZM562,303.7L548.6,303.8L526,302.2L508,302.7L504.6,302L502.3,300.7L500.9,299.1L500.6,297.4L501.4,295.4L504,292.2L506,290.5L508,289.6L518.3,288.6L538,285.6L548.6,284.7L557,284.5L565.3,284.9L590.3,287.9L597.5,289.7L599.7,291.1L600.8,292.7L600.8,294.7L599.7,296.7L597.6,298.2L594.5,299.4L589.3,300.4L572,302.8L562,303.7ZM451.6,316.1L390.3,316.1L390.3,307.7L402.3,305.3L417.3,304.3L449.3,304.9L467,304.5L470.6,304.9L472.5,305.7L472.5,306.4L471.4,307.4L465.7,310.4L459.9,313.1L451.6,316.1Z" fill="#ff7000" fill-rule="evenodd"/><path d="M526.3,217.1L523,217.1L520.5,216.4L518.8,215.1L518.3,213.4L531.5,213.4L531.2,214.7L530.2,215.7L526.3,217.1ZM614.3,236.1L611,236.3L608.6,235.9L607.1,235.1L606.9,234.1L608.3,232.1L612,228.7L616.4,225.4L620.6,222.7L640.8,213.4L654.8,213.4L654.4,215.1L652.4,217.1L634,229.1L623.8,233.7L618.6,235.3L614.3,236.1ZM474,242.1L470.6,242L469,241.2L467.7,240.1L466.2,237.1L465.8,232.7L466.7,227.4L468.6,223.3L471.6,220.5L475,219.7L478,220.6L480.5,223.1L482.4,226.7L482.9,230.4L482.2,234.1L480,238L477.1,240.7L474,242.1ZM553.3,248.4L547.3,248.3L543,247.3L541.3,246.4L540.5,245.4L540.1,244.4L540.3,243.1L541.4,241.4L543.3,239.7L548.8,236.7L555.8,234.4L564,232.9L571,232.5L577.7,233.1L585.8,235.1L588.3,236.1L589.5,237.1L588.9,238.4L586.2,240.1L575.5,244.1L563.9,247.1L553.3,248.4ZM563.6,303.1L551,303.3L527.6,301.6L510,301.5L507.3,301L505,300.1L503.4,298.7L502.9,297.1L503.7,295.1L505.4,293.1L507.3,291.6L509.6,290.7L536.1,286.4L549.6,285.2L565,285.4L589.3,288.4L596,290.3L597.7,291.4L598.7,293.1L598.7,294.7L597.8,296.4L596,297.7L593,298.9L587.3,300.1L563.6,303.1ZM449,316.1L390.3,316.1L390.3,308.7L395.6,307.2L402.3,306L418.6,304.9L458,306.1L462.3,306.5L464.3,307.4L464.3,308.1L463.6,309.1L459.8,311.7L454.7,314.1L449,316.1Z" fill="#ff5800" fill-rule="evenodd"/><path d="M525.6,215.8L523.6,215.7L522,215.2L521.1,214.4L521,213.4L528.8,213.4L528.3,214.8L525.6,215.8ZM620,232.4L616,232.4L615.1,231.7L615,231.1L617.2,228.1L622.1,224.4L644.2,213.7L645.2,213.4L648.3,213.4L651.1,213.4L651.4,213.7L651.3,215.1L649.6,216.7L641.3,221.3L632.7,227.4L625.9,230.7L620,232.4ZM473,241.4L470,240.8L467.8,238.7L466.6,235.4L466.6,231.1L467.6,226.6L469.6,223.1L472.3,221.1L475.3,220.6L478,221.6L480.4,224.1L481.9,227.4L482.2,231.1L481.2,234.7L479,238.2L476,240.6L473,241.4ZM557.3,247.4L550.6,247.7L545.6,247L542.7,245.4L542.1,244.4L542.1,243.1L542.8,241.7L544.5,240.1L549,237.4L555.7,235.1L563.3,233.5L570.3,233.1L576.6,233.7L583,235.4L585,236.4L585.9,237.4L585.7,238.4L584.1,239.7L577.3,242.7L567,245.7L557.3,247.4ZM559.6,302.7L549,302.7L528.3,301L511.6,300.5L509,299.9L506.9,299.1L505.5,297.7L505.3,296.4L506.1,294.7L507.6,293.2L509.6,292.1L512.3,291.3L536,287.1L551,285.7L565.3,286L588,288.9L591.9,289.7L594.4,290.7L596.1,292.1L596.7,293.4L596.6,295.1L595.6,296.4L593.5,297.7L590.6,298.7L569.3,301.9L559.6,302.7ZM446.6,316.1L390.3,316.1L390.3,309.9L395.5,308.1L402,306.8L410,305.9L419,305.5L432.3,305.7L449.9,306.7L456,307.5L458.5,308.7L458.4,310.1L456.1,312.1L446.6,316.1Z" fill="#ff4000" fill-rule="evenodd"/><path d="M474,240.4L471.3,240.3L468.9,238.7L467.5,236.1L467.1,232.1L467.9,227.7L469.6,224.3L472,222.2L475,221.5L477.5,222.4L479.6,224.4L481.2,227.4L481.6,230.7L480.8,234.1L479,237.1L476.6,239.3L474,240.4ZM556,246.8L550.6,246.7L546.6,245.9L544.5,244.4L544.2,243.4L544.4,242.4L546.8,239.7L551.1,237.4L557.2,235.4L563.6,234.2L569.6,233.9L575.2,234.4L580.7,236.1L582,236.8L582.6,237.7L582.3,238.7L580.7,240.1L573.7,243.1L565,245.4L556,246.8ZM560.3,302.1L548.6,302.1L529.3,300.3L514,299.6L509.3,298.4L508.1,297.4L507.8,296.1L508.5,294.7L510.3,293.4L516.3,291.5L538.3,287.4L551.6,286.3L565,286.7L586.7,289.4L592.5,291.1L593.9,292.1L594.7,293.4L594.6,295.1L593.4,296.4L589,298.3L568,301.4L560.3,302.1ZM443.6,316.1L393,316.1L390.4,314.1L390.3,312.2L391.3,311.1L393,310.1L398.3,308.3L406,307L415.6,306.2L428,306.2L442.8,307.1L451,308.2L453,308.8L454.1,309.7L453.9,311.1L451.8,312.7L443.6,316.1Z" fill="#f04010" fill-rule="evenodd"/><path d="M474.3,239.4L471.6,239.4L469.5,238.1L468.3,235.7L467.8,232.4L468.5,228.4L470,225.2L472,223.3L474.6,222.5L477,223.2L479,224.9L480.3,227.4L480.8,230.4L480.2,233.4L478.8,236.1L476.6,238.3L474.3,239.4ZM559.3,245.4L554,245.7L550,245.2L547.5,244.1L547,242.4L548.8,240.1L552.2,238.1L556.9,236.4L562.3,235.3L568,234.9L573,235.3L576.9,236.4L578.1,237.1L578.9,238.1L578.6,239.1L577.5,240.1L573.3,242.1L566.7,244.1L559.3,245.4ZM559,301.4L548,301.3L530.3,299.6L516.6,298.8L512,297.7L511.1,297.1L510.7,296.1L511.5,294.7L513.1,293.7L519.7,291.7L539.8,288.1L552,287L564.3,287.4L585.8,290.1L590.6,291.5L591.9,292.4L592.7,293.7L592.4,295.1L591.5,296.1L587.3,297.8L566.8,300.7L559,301.4ZM440,316.1L395.7,316.1L393.6,314.4L393,313.1L393.4,312.1L394.4,311.1L399.3,309.1L406,307.7L415,306.9L427,306.9L439.6,307.7L446.6,308.7L448.7,309.4L449.9,310.4L449.6,311.7L447.9,313.1L440,316.1Z" fill="#e03018" fill-rule="evenodd"/><path d="M474,238.5L472,238.4L470,237.1L469,234.9L468.7,232.1L469.2,228.7L470.5,226.1L472.3,224.3L474.6,223.7L476.9,224.4L478.6,226.1L479.6,228.2L479.9,230.7L479.3,233.4L478,235.8L476,237.7L474,238.5ZM559.3,243.7L555.6,243.8L553,243.4L551.6,242.6L551.5,241.4L552.6,240.1L554.9,238.7L558.9,237.4L562.3,236.8L566.3,236.6L569.6,236.9L572.2,237.7L573.2,238.7L572.3,240.1L569.6,241.4L565.2,242.7L559.3,243.7ZM560,300.4L548.5,300.4L520.3,298L515.6,297.1L514.6,296.4L514.5,295.7L515.3,294.7L517.3,293.7L523.7,292.1L540.5,289.1L552.6,288L563,288.3L584,290.8L588.3,291.9L589.6,292.7L590.2,293.7L590.1,294.7L589.2,295.7L585.6,297.1L560,300.4ZM436,316.1L398.2,316.1L396.4,314.4L396.1,313.1L396.6,312.1L397.9,311.1L402,309.5L408,308.4L416.1,307.7L426.6,307.7L436.5,308.4L443,309.5L444.6,310.2L445.5,311.1L445.2,312.1L443.4,313.4L436,316.1Z" fill="#d02828" fill-rule="evenodd"/><path d="M474.3,237.2L472.3,237.1L471,236.2L470,234.4L469.7,232.1L470.1,229.4L471.2,227.1L472.6,225.7L474.6,225.1L476.3,225.6L477.6,226.8L478.6,228.7L478.9,230.7L478.5,232.7L477.5,234.7L476,236.4L474.3,237.2ZM557.3,299.1L548,299L525.6,297L521.6,296.4L520.7,296.1L520.3,295.4L522.7,294.1L528.8,292.7L544.3,290.4L553.3,289.8L560.6,290L572.3,291.5L582.6,292L585.6,292.7L586.6,293.4L586.9,294.1L586,295.2L583.2,296.1L573,296.9L564,298.4L557.3,299.1ZM429,316.1L400.5,316.1L399.4,315.1L398.9,313.7L399.9,312.1L403,310.6L407.6,309.5L414,308.9L422.9,308.7L431,309.1L437.1,310.1L439.8,311.4L439.6,312.4L437.5,313.7L433.6,315.1L429,316.1Z" fill="#b82028" fill-rule="evenodd"/><path d="M474.3,235.5L473,235.4L472,234.8L471.3,233.4L471.2,232.1L471.6,230.1L472.3,228.6L473.3,227.7L474.6,227.3L475.6,227.6L476.6,228.4L477.4,231.1L476.3,234.1L474.3,235.5ZM418.6,316.1L402.8,316.1L401.8,315.1L401.6,314.1L402.3,312.9L404,311.9L410,310.7L418.3,310.8L424,311.4L426.3,312.1L426,312.7L418.6,316.1Z" fill="#c83840" fill-rule="evenodd"/><path d="M413.6,316.1L405.5,316.1L404.6,315.4L404.4,314.4L405.3,313.4L407,312.8L411.6,312.6L413.6,313.2L414.7,314.1L414.9,315.1L413.6,316.1Z" fill="#d85058" fill-rule="evenodd"/></g><g clip-path="url(#clipb)"><path d="M27.5,265.8L29.6,266.9L32.6,267.9L34.3,269.7L35.7,269.7L37.8,268.9L44.0,266.9L50.2,264.8L52.2,262.7L58.4,259.7L62.5,257.0L65.6,253.5L68.3,249.4L66.0,247.1L62.5,246.3L61.1,241.8L60.5,244.7L56.3,246.3L52.2,246.3L51.2,244.2L49.7,244.9L48.1,242.2L47.1,240.1L45.0,238.1L44.0,234.0L46.0,233.3L48.1,234.0L50.2,237.0L52.2,238.5L56.3,240.7L60.9,240.1L62.5,242.6L65.6,243.2L70.8,243.8L74.9,243.6L82.1,243.4L84.1,246.3L86.2,247.3L89.3,249.4L95.1,252.5L95.5,256.6L96.5,262.7L98.6,267.9L101.7,275.1L104.7,279.0L106.8,277.1L109.5,274.5L110.3,268.9L110.5,263.8L114.0,260.7L118.1,257.6L123.3,253.5L124.3,251.0L127.4,250.4L130.5,250.4L133.6,249.4L134.6,252.5L135.6,254.5L138.7,258.6L139.8,262.7L145.9,261.7L147.0,266.9L148.0,275.1L147.0,279.2L152.1,283.3L152.1,287.4L154.2,290.5L158.3,293.0L159.3,291.5L158.3,287.4L157.3,284.3L155.2,282.9L152.1,279.2L150.1,275.1L149.5,269.9L151.1,267.9L153.2,269.5L156.2,271.0L157.3,273.0L160.4,274.1L161.4,277.1L164.5,276.1L165.5,274.1L169.6,272.0L170.3,268.9L169.6,264.8L167.6,262.7L164.5,259.7L163.0,256.6L164.5,253.5L167.6,251.4L171.3,251.4L173.8,251.4L177.9,250.0L181.0,249.4L185.1,248.4L188.2,245.3L191.3,242.2L192.3,240.1L195.4,237.0L196.4,234.0L194.4,231.9L195.4,229.8L193.3,227.8L191.3,224.7L192.3,221.6L194.4,219.6L197.4,218.5L194.4,217.9L190.2,219.2L189.2,217.5L187.8,215.5L190.2,215.0L194.4,212.4M27.5,263.8L27.5,264.8L26.5,263.8M34.1,271.8L35.7,274.1L39.9,273.6L44.0,272.6L50.6,271.4L50.2,274.1L49.1,277.1L47.1,281.2L44.0,285.4L39.9,291.5L33.7,297.7L29.6,299.8L27.5,301.0L26.1,305.1L25.4,309.0L26.5,312.1L27.5,316.2M109.5,283.3L109.9,280.2L109.9,275.7L112.0,278.2L113.6,281.2L113.0,282.9L110.9,283.5L109.5,283.3M141.4,284.1L145.9,284.9L148.4,288.0L152.1,291.5L154.2,292.6L158.9,297.7L160.4,299.8L163.5,301.8L163.5,307.6L160.4,307.4L155.8,303.9L153.2,300.2L151.7,297.3L149.0,292.6L147.0,290.5L142.9,287.4L141.4,284.1M162.4,309.6L164.5,308.0L168.6,309.0L172.7,309.6L176.8,309.8L181.0,311.7L180.6,313.5L175.8,312.7L169.6,311.5L164.5,310.9L162.4,309.6M169.6,292.6L170.9,291.5L173.8,292.4L177.9,289.1L179.9,286.2L183.0,284.7L185.7,281.5L187.6,283.3L190.2,285.4L188.2,286.8L187.6,291.5L189.2,293.6L187.2,295.6L186.1,298.1L184.7,302.8L181.0,303.9L177.9,302.2L174.8,302.0L172.1,301.6L171.7,298.7L169.6,296.7L169.6,292.6M191.3,306.9L193.3,300.8L192.3,295.6L193.9,293.6L197.4,293.6L202.2,292.6L199.1,294.6L194.4,295.0L194.8,297.7L199.1,297.3L196.4,299.8L197.4,304.9L195.4,305.5L193.3,301.8L192.9,306.9L191.3,306.9M193.3,257.6L196.4,257.6L196.8,260.7L195.4,263.8L195.8,266.9L199.5,267.9L200.5,269.7L198.9,268.9L196.4,267.3L194.4,267.9L193.3,265.8L192.3,262.7L193.3,257.6M196.4,281.2L200.1,279.8L203.6,276.1L205.7,280.2L204.7,283.3L202.6,283.7L200.5,282.3L196.4,281.2M197.4,274.1L199.5,272.0L201.6,273.0L202.6,275.1L200.5,275.5L198.5,276.1L197.4,274.1M188.2,278.2L190.2,275.1L191.3,273.0L190.2,276.1L188.2,278.2M192.7,248.4L194.4,244.2L196.4,244.2L195.4,249.4L193.9,250.6L192.7,248.4M169.0,256.6L171.7,254.3L173.8,255.3L172.1,258.0L169.2,257.6L169.0,256.6M201.6,213.4L202.6,214.4L203.2,216.5L205.7,218.1L205.1,221.6L205.5,224.7L207.8,224.5L210.8,223.5L211.7,221.6L211.7,218.5L209.8,216.3L207.8,213.8L209.8,212.4M212.5,227.2L213.9,231.9L215.6,231.3L217.0,227.8L215.0,225.7L212.5,227.2M218.0,225.7L222.2,226.8L222.4,225.3L219.1,225.1L218.0,225.7M215.0,225.1L218.0,222.9L223.2,222.2L225.3,220.6L227.3,219.6L230.4,217.9L233.5,214.4L233.5,212.4M215.0,225.7L219.1,225.3L223.2,224.7L226.9,224.7L229.4,224.3L233.1,223.7L235.1,222.2L235.4,219.6L235.6,216.9L236.6,214.4L237.6,212.4M215.0,297.7L218.0,296.7L221.1,297.7L223.2,302.2L228.3,298.7L233.5,300.6L238.6,302.4L243.8,304.9L245.9,306.9L248.9,308.6L249.6,312.1L252.0,315.2L255.1,317.2M215.0,297.7L217.6,300.8L219.1,303.9L223.2,304.7L229.4,309.0L230.4,313.1L233.5,312.5L235.6,314.1L239.7,314.1L241.7,311.7L245.9,313.1L247.9,316.2L248.9,317.2M251.0,306.9L254.1,306.3L257.2,304.3L258.8,304.9L256.2,307.6L252.0,308.4L251.0,306.9M266.5,309.0L268.5,311.1L272.6,312.1L275.7,315.2L277.8,316.2L274.7,314.1L270.6,311.1L266.5,309.0M207.8,292.6L208.8,295.6L209.8,296.7L208.4,297.7L207.8,292.6M208.8,301.8L212.9,301.8L214.5,303.5L210.8,303.0L208.8,301.8M182.0,312.5L186.1,313.1L190.2,313.3L194.4,313.3L198.5,313.1L202.6,312.5L206.7,312.7L202.6,315.2L200.5,316.2L196.4,316.2L190.2,315.2L184.1,314.1L182.0,312.5M212.9,318.7L216.0,318.7L218.0,319.3L221.1,320.1L225.3,319.3L226.9,320.7M236.6,317.2L238.6,317.6L239.7,319.3" fill="none" stroke="#7a7a7a" stroke-width="0.6" stroke-linejoin="round"/></g><g clip-path="url(#clipc)"><path d="M390.3,265.8L392.4,266.9L395.4,267.9L397.1,269.7L398.5,269.7L400.6,268.9L406.7,266.9L412.9,264.8L414.9,262.7L421.1,259.7L425.2,257.0L428.3,253.5L431.0,249.4L428.7,247.1L425.2,246.3L423.8,241.8L423.2,244.7L419.1,246.3L414.9,246.3L413.9,244.2L412.5,244.9L410.8,242.2L409.8,240.1L407.8,238.1L406.7,234.0L408.8,233.3L410.8,234.0L412.9,237.0L414.9,238.5L419.1,240.7L423.6,240.1L425.2,242.6L428.3,243.2L433.4,243.8L437.5,243.6L444.7,243.4L446.8,246.3L448.8,247.3L451.9,249.4L457.7,252.5L458.1,256.6L459.1,262.7L461.1,267.9L464.2,275.1L467.3,279.0L469.4,277.1L472.0,274.5L472.9,268.9L473.1,263.8L476.6,260.7L480.7,257.6L485.8,253.5L486.8,251.0L489.9,250.4L493.0,250.4L496.1,249.4L497.1,252.5L498.1,254.5L501.2,258.6L502.2,262.7L508.4,261.7L509.4,266.9L510.4,275.1L509.4,279.2L514.5,283.3L514.5,287.4L516.6,290.5L520.7,293.0L521.7,291.5L520.7,287.4L519.7,284.3L517.6,282.9L514.5,279.2L512.5,275.1L511.9,269.9L513.5,267.9L515.6,269.5L518.6,271.0L519.7,273.0L522.8,274.1L523.8,277.1L526.9,276.1L527.9,274.1L532.0,272.0L532.6,268.9L532.0,264.8L529.9,262.7L526.9,259.7L525.4,256.6L526.9,253.5L529.9,251.4L533.6,251.4L536.1,251.4L540.2,250.0L543.3,249.4L547.4,248.4L550.5,245.3L553.6,242.2L554.6,240.1L557.7,237.0L558.7,234.0L556.6,231.9L557.7,229.8L555.6,227.8L553.6,224.7L554.6,221.6L556.6,219.6L559.7,218.5L556.6,217.9L552.5,219.2L551.5,217.5L550.1,215.5L552.5,215.0L556.6,212.4M390.3,263.8L390.3,264.8L389.3,263.8M396.9,271.8L398.5,274.1L402.6,273.6L406.7,272.6L413.3,271.4L412.9,274.1L411.9,277.1L409.8,281.2L406.7,285.4L402.6,291.5L396.5,297.7L392.4,299.8L390.3,301.0L388.9,305.1L388.2,309.0L389.3,312.1L390.3,316.2M472.0,283.3L472.4,280.2L472.4,275.7L474.5,278.2L476.1,281.2L475.5,282.9L473.5,283.5L472.0,283.3M503.9,284.1L508.4,284.9L510.8,288.0L514.5,291.5L516.6,292.6L521.3,297.7L522.8,299.8L525.8,301.8L525.8,307.6L522.8,307.4L518.2,303.9L515.6,300.2L514.1,297.3L511.5,292.6L509.4,290.5L505.3,287.4L503.9,284.1M524.8,309.6L526.9,308.0L531.0,309.0L535.1,309.6L539.2,309.8L543.3,311.7L542.9,313.5L538.2,312.7L532.0,311.5L526.9,310.9L524.8,309.6M532.0,292.6L533.2,291.5L536.1,292.4L540.2,289.1L542.3,286.2L545.3,284.7L548.0,281.5L549.9,283.3L552.5,285.4L550.5,286.8L549.9,291.5L551.5,293.6L549.5,295.6L548.4,298.1L547.0,302.8L543.3,303.9L540.2,302.2L537.1,302.0L534.5,301.6L534.0,298.7L532.0,296.7L532.0,292.6M553.6,306.9L555.6,300.8L554.6,295.6L556.2,293.6L559.7,293.6L564.4,292.6L561.4,294.6L556.6,295.0L557.0,297.7L561.4,297.3L558.7,299.8L559.7,304.9L557.7,305.5L555.6,301.8L555.2,306.9L553.6,306.9M555.6,257.6L558.7,257.6L559.1,260.7L557.7,263.8L558.1,266.9L561.8,267.9L562.8,269.7L561.2,268.9L558.7,267.3L556.6,267.9L555.6,265.8L554.6,262.7L555.6,257.6M558.7,281.2L562.4,279.8L565.9,276.1L567.9,280.2L566.9,283.3L564.9,283.7L562.8,282.3L558.7,281.2M559.7,274.1L561.8,272.0L563.8,273.0L564.9,275.1L562.8,275.5L560.7,276.1L559.7,274.1M550.5,278.2L552.5,275.1L553.6,273.0L552.5,276.1L550.5,278.2M555.0,248.4L556.6,244.2L558.7,244.2L557.7,249.4L556.2,250.6L555.0,248.4M531.4,256.6L534.0,254.3L536.1,255.3L534.5,258.0L531.6,257.6L531.4,256.6M563.8,213.4L564.9,214.4L565.5,216.5L567.9,218.1L567.3,221.6L567.7,224.7L570.0,224.5L573.1,223.5L573.9,221.6L573.9,218.5L572.0,216.3L570.0,213.8L572.0,212.4M574.7,227.2L576.1,231.9L577.8,231.3L579.2,227.8L577.2,225.7L574.7,227.2M580.3,225.7L584.4,226.8L584.6,225.3L581.3,225.1L580.3,225.7M577.2,225.1L580.3,222.9L585.4,222.2L587.4,220.6L589.5,219.6L592.6,217.9L595.7,214.4L595.7,212.4M577.2,225.7L581.3,225.3L585.4,224.7L589.1,224.7L591.5,224.3L595.2,223.7L597.3,222.2L597.5,219.6L597.7,216.9L598.7,214.4L599.8,212.4M577.2,297.7L580.3,296.7L583.3,297.7L585.4,302.2L590.5,298.7L595.7,300.6L600.8,302.4L605.9,304.9L608.0,306.9L611.1,308.6L611.7,312.1L614.1,315.2L617.2,317.2M577.2,297.7L579.8,300.8L581.3,303.9L585.4,304.7L591.5,309.0L592.6,313.1L595.7,312.5L597.7,314.1L601.8,314.1L603.9,311.7L608.0,313.1L610.0,316.2L611.1,317.2M613.1,306.9L616.2,306.3L619.3,304.3L620.9,304.9L618.2,307.6L614.1,308.4L613.1,306.9M628.5,309.0L630.6,311.1L634.7,312.1L637.8,315.2L639.8,316.2L636.7,314.1L632.6,311.1L628.5,309.0M570.0,292.6L571.0,295.6L572.0,296.7L570.6,297.7L570.0,292.6M571.0,301.8L575.1,301.8L576.8,303.5L573.1,303.0L571.0,301.8M544.3,312.5L548.4,313.1L552.5,313.3L556.6,313.3L560.7,313.1L564.9,312.5L569.0,312.7L564.9,315.2L562.8,316.2L558.7,316.2L552.5,315.2L546.4,314.1L544.3,312.5M575.1,318.7L578.2,318.7L580.3,319.3L583.3,320.1L587.4,319.3L589.1,320.7M598.7,317.2L600.8,317.6L601.8,319.3" fill="none" stroke="#7a7a7a" stroke-width="0.6" stroke-linejoin="round"/></g><g clip-path="url(#clipa)"><path d="M173.6,130.4L173.6,127.0L175.9,125.9L176.4,120.2L177.0,118.5L178.1,117.4L179.3,115.7L182.7,114.6L183.3,116.3L185.0,114.6L187.2,116.3L191.8,116.3L194.0,116.3L196.3,118.5L199.7,121.4L203.1,121.6L205.4,122.5L207.7,125.9L207.7,128.2L209.9,129.3L214.5,131.0L219.0,131.6L222.4,133.8L224.7,136.1L224.7,139.5M173.6,118.0L170.2,116.8L169.1,115.1L169.6,111.2L166.8,110.0L163.9,110.3L164.5,107.2L165.7,103.8L161.7,104.4L161.1,106.6L157.1,107.2M173.0,99.6L173.6,97.6L172.5,94.2L172.5,92.5L174.7,90.2L178.1,88.5L178.1,86.2L178.1,84.0L180.4,82.3L182.7,81.7L185.0,81.1L185.0,78.9L188.4,77.7L190.6,78.9L195.2,76.6L191.8,76.0L190.6,73.2L187.2,72.6L183.8,74.9L188.4,72.1L196.3,71.5L199.7,69.8L200.9,68.1L196.3,65.3L194.0,63.0L191.8,60.2L187.2,61.9L185.0,59.0L175.9,57.3L176.4,60.2L177.6,64.1L174.7,66.4L173.6,69.8M173.6,56.2L179.3,55.1L187.2,53.4L194.0,52.6L191.8,50.5L187.2,48.3L183.8,47.7L175.9,46.0L173.6,44.9M167.9,103.2L171.3,102.1L173.6,102.1L177.0,103.8L179.8,105.5L176.4,105.5L173.6,103.8L171.3,103.2L167.9,103.2M179.8,105.7L182.7,105.5L186.1,106.6L186.7,107.2L183.8,107.8L179.8,107.3L179.8,105.7M197.4,74.3L200.9,72.1L201.4,69.8L204.3,74.9L197.4,74.3M181.5,39.8L187.2,42.0L196.3,42.0L202.0,46.6L204.3,51.1L207.7,55.6L214.5,60.2L216.8,59.0L219.0,54.5L228.1,51.1L239.5,48.8L239.5,45.4L244.0,43.2L244.0,37.5M237.2,53.9L239.5,52.8L247.4,52.8L249.1,54.5L244.0,56.2L239.5,55.9L237.2,53.9M258.0,71.5L261.0,70.8L265.9,70.3L266.4,68.4L264.8,67.6L264.3,66.4L262.7,65.3L262.2,64.1L262.4,62.9L259.9,62.9L261.0,61.8L258.8,61.8L257.6,63.0L258.2,64.7L259.0,65.8L261.0,66.4L261.0,67.6L259.2,67.9L259.6,69.0L258.8,69.7L261.0,69.8L258.0,71.5M257.6,69.2L257.6,67.0L256.2,65.5L254.8,66.4L253.1,67.5L253.1,69.5L254.8,69.7L257.6,69.2M278.1,139.5L279.8,133.8L278.1,133.3L274.7,129.3L275.2,125.9L275.2,123.6L274.1,123.1L271.3,123.3L269.6,121.1L266.7,121.0L262.2,122.5L259.3,122.3L255.9,123.2L254.2,122.5L251.4,120.3L249.7,118.5L247.4,115.7L245.4,114.0L244.6,111.5L245.7,109.5L246.3,106.6L245.1,104.4L246.3,101.5L248.0,98.7L249.7,96.7L253.1,95.3L253.3,93.0L254.8,90.4L256.7,89.6L257.6,87.6L262.2,88.4L264.4,87.6L267.9,86.5L273.5,86.3L275.8,85.9L276.9,86.8L275.8,89.1L276.4,90.2L278.1,91.0L281.5,91.4L282.6,92.8L286.0,93.8L287.2,93.0L287.2,91.9L289.4,91.0L292.8,92.1L297.4,93.1L299.7,92.5L301.4,92.9L303.3,92.7L304.2,91.0L304.8,89.6L305.3,87.6L305.3,86.5L303.6,86.5L300.8,87.1L298.5,87.1L296.2,86.6L295.1,85.1L294.5,83.4L294.2,82.6L296.2,81.7L297.4,81.5L299.7,81.6L303.1,80.6L305.3,80.9L307.6,81.7L311.6,81.1L311.9,79.2L309.6,77.8L307.0,77.5L307.6,74.9L305.3,75.5L303.1,76.0L302.5,77.7L301.4,76.6L299.3,75.5L298.0,76.9L296.9,78.3L296.2,80.6L294.0,81.9L291.7,81.9L290.6,82.8L291.7,85.1L290.0,86.8L288.3,85.1L287.2,83.2L286.6,80.8L285.5,80.0L282.6,78.9L281.5,77.7L279.9,76.8L278.4,76.7L278.6,78.3L280.3,80.6L282.6,81.7L285.5,82.6L283.2,84.0L282.6,85.1L282.3,82.8L280.9,82.0L278.3,80.8L276.4,79.4L274.7,78.0L272.4,78.6L270.1,79.0L268.2,79.2L267.9,80.7L265.6,81.7L264.4,83.2L263.9,84.5L262.2,86.6L259.3,86.6L257.6,87.0L256.5,86.0L254.5,86.2L254.3,84.3L253.8,83.4L254.5,81.7L254.3,80.0L254.0,79.2L255.4,78.6L259.9,79.0L262.4,79.0L263.1,77.2L263.1,75.8L261.6,74.6L259.3,73.9L259.3,73.1L262.7,73.0L263.0,71.8L264.7,71.8L266.2,71.3L266.4,70.4L268.4,69.9L269.6,68.9L269.9,68.1L272.4,67.5L274.1,67.4L274.2,65.8L273.8,64.1L275.8,62.9L276.4,64.5L275.8,65.8L276.9,67.0L279.2,66.6L280.9,67.1L284.9,66.1L286.6,66.5L288.5,65.6L288.3,63.8L291.1,63.6L292.2,62.1L291.1,61.1L296.2,60.7L298.0,60.2L295.1,59.6L290.3,60.2L288.8,59.3L288.8,56.8L292.8,54.5L293.2,53.8L289.7,53.6L288.5,54.8L286.6,56.2L284.7,57.3L284.2,59.0L285.7,60.2L284.7,61.3L283.2,63.0L282.6,64.6L280.6,65.4L279.0,65.0L278.6,64.1L277.9,62.4L277.2,61.3L276.4,60.3L274.1,62.2L271.3,62.4L270.7,61.3L270.1,59.0L270.4,57.3L273.0,56.8L275.8,55.6L278.6,53.4L280.9,51.3L282.6,50.5L286.0,49.2L291.1,48.3L294.0,47.7L296.2,47.7L299.7,48.5L298.5,49.3L301.9,49.6L305.9,50.0L311.0,51.7L309.9,53.1L305.3,52.5L303.6,53.4L304.2,55.1L306.5,55.9L307.6,54.7L309.9,55.1L313.3,53.1L314.4,50.5L316.7,51.3L321.2,51.1L325.8,50.5L330.3,50.2L332.6,50.5L333.7,49.1L339.4,49.6L342.2,50.9L342.8,45.8L346.8,45.7L346.2,47.7L347.9,50.5L353.0,46.2L357.6,46.0L355.9,44.8L363.2,44.3L370.1,42.1L378.0,41.5L384.8,40.4L391.6,41.5L392.8,44.9L400.7,45.4L408.7,44.9L412.1,47.7L417.8,47.1L423.4,46.0L431.4,46.2L437.1,47.9L446.1,48.8L455.2,48.9L457.5,48.8L464.3,49.1L468.9,50.1L472.3,51.7L475.7,52.2L480.2,53.9M301.4,94.2L301.9,95.9L303.1,97.0L304.2,98.7L305.9,103.2L307.0,107.8L308.7,110.6L309.9,111.7M303.6,96.4L304.2,95.9L305.3,98.1L307.0,101.0L308.7,103.8L309.9,105.5L311.0,107.8L312.7,111.2L313.6,113.9M317.8,77.7L321.2,75.5L324.6,74.9L324.6,77.2L322.4,77.7L321.8,80.6L320.1,81.7L321.2,82.8L320.1,85.1L321.2,86.2L324.6,86.2L325.8,85.7L325.2,83.4L324.6,81.7L324.1,80.0L322.9,78.9L321.8,77.7L319.0,80.0L317.8,77.7M401.9,82.3L403.0,82.3L405.3,82.8L405.8,82.8M410.4,82.3L412.6,79.9L415.5,79.7L418.3,78.3L421.2,75.5L424.0,73.4L424.3,70.9L425.1,68.1L420.6,67.0L418.3,66.1L420.0,64.1L423.4,62.7L426.8,61.0L432.5,61.0L437.1,61.3L440.5,61.0L442.7,58.5L446.1,58.1L450.7,57.3L449.6,59.0L446.1,59.6L442.7,62.7L441.6,63.6L441.6,65.8L442.2,70.1L444.4,68.7L446.1,67.0L448.4,66.1L449.6,64.5L448.4,63.0L449.6,61.9L453.0,60.2L457.5,60.2L460.9,58.5L466.6,57.3L467.7,56.8L468.9,54.8L473.4,54.5L476.8,53.0L480.2,53.9M425.7,76.0L427.4,75.5L426.8,72.6L428.0,72.6L426.8,69.8L426.8,67.0L426.3,66.6L425.7,68.1L425.7,71.5L425.7,76.0M423.4,81.1L423.4,79.4L425.1,76.7L426.8,78.1L429.7,79.1L427.4,80.6L424.6,81.0L423.4,81.1M423.4,82.3L423.4,81.1M425.7,82.3L425.1,81.1M482.5,53.8L485.9,53.4L488.2,50.5L495.0,48.5L500.7,47.7L506.3,49.4L513.2,49.3L514.3,50.2L520.0,49.4L525.6,49.4L529.1,48.8L537.0,50.0M482.5,53.8L485.9,55.1L489.3,55.3L487.0,56.8L485.9,59.0L489.3,61.3L488.2,61.9L491.6,61.5L495.0,63.6L498.4,63.0L497.3,60.7L500.7,60.2L504.1,59.8L506.3,61.1L509.7,60.2L514.3,60.7L517.7,61.9L520.0,62.4L521.1,64.7L523.4,66.4L525.6,68.1L528.5,70.4L531.3,72.6L532.5,73.8L532.5,76.0L532.5,79.4L532.1,81.7L532.8,84.0L533.6,85.1L534.7,86.8L536.4,89.1L537.0,89.6M496.1,106.6L497.3,105.5L497.3,106.3L496.1,106.6M309.9,111.7L311.0,112.3L312.7,112.9L313.6,113.9L314.4,113.9L315.6,113.4L319.0,112.3L322.4,111.2L323.5,110.0L326.9,108.3L329.2,106.9L330.9,104.9L332.4,102.7L331.1,101.4L329.2,101.0L328.4,98.5L328.0,100.1L325.8,101.0L323.5,101.0L322.9,99.8L322.1,100.2L321.2,98.7L320.7,97.6L319.5,96.4L319.0,94.2L320.1,93.8L321.2,94.2L322.4,95.9L323.5,96.7L325.8,97.9L328.3,97.6L329.2,98.9L330.9,99.3L333.7,99.6L336.0,99.5L340.0,99.4L341.1,101.0L342.2,101.5L343.9,102.7L347.1,104.4L347.4,106.6L347.9,110.0L349.1,112.9L350.8,116.8L352.5,119.0L353.6,118.0L355.1,116.5L355.5,113.4L355.6,110.6L357.6,108.9L359.8,107.2L362.7,104.9L363.2,103.6L365.0,103.2L366.7,103.2L368.4,102.7L368.9,104.4L369.5,105.5L371.2,107.8L371.8,110.0L375.2,109.5L375.7,112.3L376.3,116.8L375.7,119.1L378.6,121.4L378.6,123.6L379.7,125.3L382.0,126.7L382.6,125.9L382.0,123.6L381.4,121.9L380.3,121.1L378.6,119.1L377.4,116.8L377.1,114.0L378.0,112.9L379.1,113.8L380.9,114.6L381.4,115.7L383.1,116.3L383.7,118.0L385.4,117.4L386.0,116.3L388.2,115.1L388.6,113.4L388.2,111.2L387.1,110.0L385.4,108.3L384.6,106.6L385.4,104.9L387.1,103.8L389.1,103.8L390.5,103.8L392.8,103.0L394.5,102.7L396.8,102.1L398.5,100.4L400.2,98.7L400.7,97.6L402.4,95.9L403.0,94.2L401.9,93.0L402.4,91.9L401.3,90.8L400.2,89.1L400.7,87.4L401.9,86.2L403.6,85.7L401.9,85.3L399.6,86.0L399.0,85.1L398.2,84.0L399.6,83.7L401.9,82.3M309.9,110.6L309.9,111.2L309.3,110.6M313.5,115.0L314.4,116.3L316.7,116.0L319.0,115.5L322.6,114.8L322.4,116.3L321.8,118.0L320.7,120.2L319.0,122.5L316.7,125.9L313.3,129.3L311.0,130.4L309.9,131.1L309.1,133.4L308.7,135.5L309.3,137.2L309.9,139.5M355.1,121.4L355.3,119.7L355.3,117.2L356.4,118.5L357.3,120.2L357.0,121.1L355.9,121.5L355.1,121.4M372.7,121.8L375.2,122.3L376.5,124.0L378.6,125.9L379.7,126.5L382.3,129.3L383.1,130.4L384.8,131.6L384.8,134.7L383.1,134.6L380.6,132.7L379.1,130.7L378.4,129.1L376.9,126.5L375.7,125.3L373.5,123.6L372.7,121.8M384.3,135.9L385.4,135.0L387.7,135.5L389.9,135.9L392.2,136.0L394.5,137.0L394.3,138.0L391.6,137.6L388.2,136.9L385.4,136.6L384.3,135.9M388.2,126.5L388.9,125.9L390.5,126.4L392.8,124.5L393.9,123.0L395.6,122.2L397.1,120.3L398.1,121.4L399.6,122.5L398.5,123.3L398.1,125.9L399.0,127.0L397.9,128.2L397.3,129.5L396.5,132.1L394.5,132.7L392.8,131.8L391.1,131.7L389.6,131.5L389.4,129.9L388.2,128.7L388.2,126.5M400.2,134.4L401.3,131.0L400.7,128.2L401.6,127.0L403.6,127.0L406.2,126.5L404.5,127.6L401.9,127.8L402.1,129.3L404.5,129.1L403.0,130.4L403.6,133.3L402.4,133.6L401.3,131.6L401.1,134.4L400.2,134.4M401.3,107.2L403.0,107.2L403.2,108.9L402.4,110.6L402.7,112.3L404.7,112.9L405.3,113.9L404.4,113.4L403.0,112.5L401.9,112.9L401.3,111.7L400.7,110.0L401.3,107.2M403.0,120.2L405.0,119.4L407.0,117.4L408.1,119.7L407.5,121.4L406.4,121.6L405.3,120.8L403.0,120.2M403.6,116.3L404.7,115.1L405.8,115.7L406.4,116.8L405.3,117.1L404.1,117.4L403.6,116.3M398.5,118.5L399.6,116.8L400.2,115.7L399.6,117.4L398.5,118.5M401.0,102.1L401.9,99.8L403.0,99.8L402.4,102.7L401.6,103.3L401.0,102.1M387.9,106.6L389.4,105.4L390.5,106.0L389.6,107.4L388.0,107.2L387.9,106.6M405.8,82.8L406.4,83.4L406.7,84.5L408.1,85.4L407.8,87.4L408.0,89.1L409.2,89.0L410.9,88.4L411.4,87.4L411.4,85.7L410.4,84.4L409.2,83.1L410.4,82.3M411.9,90.4L412.6,93.0L413.6,92.7L414.4,90.8L413.2,89.6L411.9,90.4M414.9,89.6L417.2,90.2L417.3,89.4L415.5,89.3L414.9,89.6M413.2,89.3L414.9,88.0L417.8,87.7L418.9,86.8L420.0,86.2L421.7,85.3L423.4,83.4L423.4,82.3M413.2,89.6L415.5,89.4L417.8,89.1L419.8,89.1L421.2,88.8L423.2,88.5L424.3,87.7L424.5,86.2L424.6,84.8L425.1,83.4L425.7,82.3M413.2,129.3L414.9,128.7L416.6,129.3L417.8,131.8L420.6,129.9L423.4,130.9L426.3,131.9L429.1,133.3L430.3,134.4L432.0,135.3L432.3,137.2L433.7,138.9L435.4,140.1M413.2,129.3L414.7,131.0L415.5,132.7L417.8,133.2L421.2,135.5L421.7,137.8L423.4,137.5L424.6,138.4L426.8,138.4L428.0,137.0L430.3,137.8L431.4,139.5L432.0,140.1M433.1,134.4L434.8,134.1L436.5,132.9L437.4,133.3L435.9,134.7L433.7,135.2L433.1,134.4M441.6,135.5L442.7,136.7L445.0,137.2L446.7,138.9L447.9,139.5L446.1,138.4L443.9,136.7L441.6,135.5M409.2,126.5L409.8,128.2L410.4,128.7L409.6,129.3L409.2,126.5M409.8,131.6L412.1,131.6L413.0,132.5L410.9,132.2L409.8,131.6M395.0,137.5L397.3,137.8L399.6,137.9L401.9,137.9L404.1,137.8L406.4,137.5L408.7,137.6L406.4,138.9L405.3,139.5L403.0,139.5L399.6,138.9L396.2,138.4L395.0,137.5M412.1,140.9L413.8,140.9L414.9,141.2L416.6,141.7L418.9,141.2L419.8,142.0M425.1,140.1L426.3,140.3L426.8,141.2" fill="none" stroke="#808080" stroke-width="0.5" stroke-linejoin="round"/></g><g stroke="#7a7a7a" stroke-width="1.3"><line x1="184.6" y1="37" x2="184.6" y2="139"/><line x1="196.3" y1="37" x2="196.3" y2="139"/></g><g fill="#9870e8"><circle cx="294.4" cy="38.2" r="1.0"/><circle cx="301.9" cy="38.2" r="1.0"/><circle cx="309.3" cy="38.2" r="1.0"/><circle cx="316.8" cy="38.2" r="1.0"/><circle cx="324.2" cy="38.2" r="1.0"/><circle cx="283.2" cy="42.0" r="1.0"/><circle cx="290.7" cy="42.0" r="1.0"/><circle cx="298.2" cy="42.0" r="1.0"/><circle cx="305.6" cy="42.0" r="1.0"/><circle cx="313.1" cy="42.0" r="1.0"/><circle cx="320.5" cy="42.0" r="1.0"/><circle cx="328.0" cy="42.0" r="1.0"/><circle cx="335.4" cy="42.0" r="1.0"/><circle cx="342.9" cy="42.0" r="1.0"/><circle cx="279.5" cy="45.8" r="1.0"/><circle cx="287.0" cy="45.8" r="1.0"/><circle cx="294.4" cy="45.8" r="1.0"/><circle cx="301.9" cy="45.8" r="1.0"/><circle cx="309.3" cy="45.8" r="1.0"/><circle cx="316.8" cy="45.8" r="1.0"/><circle cx="324.2" cy="45.8" r="1.0"/><circle cx="331.7" cy="45.8" r="1.0"/><circle cx="339.1" cy="45.8" r="1.0"/><circle cx="450.9" cy="45.8" r="1.0"/><circle cx="458.3" cy="45.8" r="1.0"/><circle cx="465.8" cy="45.8" r="1.0"/><circle cx="473.2" cy="45.8" r="1.0"/><circle cx="480.7" cy="45.8" r="1.0"/><circle cx="283.2" cy="49.6" r="1.0"/><circle cx="290.7" cy="49.6" r="1.0"/><circle cx="298.2" cy="49.6" r="1.0"/><circle cx="305.6" cy="49.6" r="1.0"/><circle cx="313.1" cy="49.6" r="1.0"/><circle cx="320.5" cy="49.6" r="1.0"/><circle cx="328.0" cy="49.6" r="1.0"/><circle cx="335.4" cy="49.6" r="1.0"/><circle cx="447.1" cy="49.6" r="1.0"/><circle cx="454.6" cy="49.6" r="1.0"/><circle cx="462.1" cy="49.6" r="1.0"/><circle cx="469.5" cy="49.6" r="1.0"/><circle cx="477.0" cy="49.6" r="1.0"/><circle cx="484.4" cy="49.6" r="1.0"/><circle cx="443.4" cy="53.3" r="1.0"/><circle cx="450.9" cy="53.3" r="1.0"/><circle cx="458.3" cy="53.3" r="1.0"/><circle cx="465.8" cy="53.3" r="1.0"/><circle cx="473.2" cy="53.3" r="1.0"/><circle cx="480.7" cy="53.3" r="1.0"/><circle cx="488.1" cy="53.3" r="1.0"/><circle cx="447.1" cy="57.1" r="1.0"/><circle cx="454.6" cy="57.1" r="1.0"/><circle cx="462.1" cy="57.1" r="1.0"/><circle cx="469.5" cy="57.1" r="1.0"/><circle cx="477.0" cy="57.1" r="1.0"/><circle cx="484.4" cy="57.1" r="1.0"/><circle cx="491.9" cy="57.1" r="1.0"/><circle cx="450.9" cy="60.9" r="1.0"/><circle cx="458.3" cy="60.9" r="1.0"/><circle cx="465.8" cy="60.9" r="1.0"/><circle cx="473.2" cy="60.9" r="1.0"/><circle cx="480.7" cy="60.9" r="1.0"/><circle cx="186.4" cy="64.6" r="1.0"/><circle cx="193.9" cy="64.6" r="1.0"/><circle cx="201.3" cy="64.6" r="1.0"/><circle cx="313.1" cy="64.6" r="1.0"/><circle cx="320.5" cy="64.6" r="1.0"/><circle cx="328.0" cy="64.6" r="1.0"/><circle cx="335.4" cy="64.6" r="1.0"/><circle cx="342.9" cy="64.6" r="1.0"/><circle cx="350.3" cy="64.6" r="1.0"/><circle cx="357.8" cy="64.6" r="1.0"/><circle cx="462.1" cy="64.6" r="1.0"/><circle cx="469.5" cy="64.6" r="1.0"/><circle cx="190.1" cy="68.4" r="1.0"/><circle cx="197.6" cy="68.4" r="1.0"/><circle cx="309.3" cy="68.4" r="1.0"/><circle cx="316.8" cy="68.4" r="1.0"/><circle cx="324.2" cy="68.4" r="1.0"/><circle cx="331.7" cy="68.4" r="1.0"/><circle cx="339.1" cy="68.4" r="1.0"/><circle cx="346.6" cy="68.4" r="1.0"/><circle cx="354.0" cy="68.4" r="1.0"/><circle cx="361.5" cy="68.4" r="1.0"/><circle cx="231.1" cy="72.2" r="1.0"/><circle cx="238.6" cy="72.2" r="1.0"/><circle cx="246.0" cy="72.2" r="1.0"/><circle cx="253.5" cy="72.2" r="1.0"/><circle cx="305.6" cy="72.2" r="1.0"/><circle cx="313.1" cy="72.2" r="1.0"/><circle cx="320.5" cy="72.2" r="1.0"/><circle cx="328.0" cy="72.2" r="1.0"/><circle cx="335.4" cy="72.2" r="1.0"/><circle cx="342.9" cy="72.2" r="1.0"/><circle cx="350.3" cy="72.2" r="1.0"/><circle cx="357.8" cy="72.2" r="1.0"/><circle cx="477.0" cy="72.2" r="1.0"/><circle cx="484.4" cy="72.2" r="1.0"/><circle cx="491.9" cy="72.2" r="1.0"/><circle cx="499.3" cy="72.2" r="1.0"/><circle cx="227.4" cy="75.9" r="1.0"/><circle cx="234.8" cy="75.9" r="1.0"/><circle cx="242.3" cy="75.9" r="1.0"/><circle cx="249.7" cy="75.9" r="1.0"/><circle cx="257.2" cy="75.9" r="1.0"/><circle cx="309.3" cy="75.9" r="1.0"/><circle cx="316.8" cy="75.9" r="1.0"/><circle cx="324.2" cy="75.9" r="1.0"/><circle cx="331.7" cy="75.9" r="1.0"/><circle cx="339.1" cy="75.9" r="1.0"/><circle cx="346.6" cy="75.9" r="1.0"/><circle cx="354.0" cy="75.9" r="1.0"/><circle cx="465.8" cy="75.9" r="1.0"/><circle cx="473.2" cy="75.9" r="1.0"/><circle cx="480.7" cy="75.9" r="1.0"/><circle cx="488.1" cy="75.9" r="1.0"/><circle cx="495.6" cy="75.9" r="1.0"/><circle cx="503.0" cy="75.9" r="1.0"/><circle cx="510.5" cy="75.9" r="1.0"/><circle cx="532.8" cy="75.9" r="1.0"/><circle cx="231.1" cy="79.7" r="1.0"/><circle cx="238.6" cy="79.7" r="1.0"/><circle cx="246.0" cy="79.7" r="1.0"/><circle cx="253.5" cy="79.7" r="1.0"/><circle cx="320.5" cy="79.7" r="1.0"/><circle cx="328.0" cy="79.7" r="1.0"/><circle cx="335.4" cy="79.7" r="1.0"/><circle cx="342.9" cy="79.7" r="1.0"/><circle cx="462.1" cy="79.7" r="1.0"/><circle cx="469.5" cy="79.7" r="1.0"/><circle cx="477.0" cy="79.7" r="1.0"/><circle cx="484.4" cy="79.7" r="1.0"/><circle cx="491.9" cy="79.7" r="1.0"/><circle cx="499.3" cy="79.7" r="1.0"/><circle cx="506.8" cy="79.7" r="1.0"/><circle cx="514.2" cy="79.7" r="1.0"/><circle cx="465.8" cy="83.5" r="1.0"/><circle cx="473.2" cy="83.5" r="1.0"/><circle cx="480.7" cy="83.5" r="1.0"/><circle cx="488.1" cy="83.5" r="1.0"/><circle cx="495.6" cy="83.5" r="1.0"/><circle cx="503.0" cy="83.5" r="1.0"/><circle cx="510.5" cy="83.5" r="1.0"/><circle cx="469.5" cy="87.3" r="1.0"/><circle cx="477.0" cy="87.3" r="1.0"/><circle cx="484.4" cy="87.3" r="1.0"/><circle cx="491.9" cy="87.3" r="1.0"/><circle cx="499.3" cy="87.3" r="1.0"/><circle cx="506.8" cy="87.3" r="1.0"/><circle cx="264.6" cy="91.0" r="1.0"/><circle cx="272.1" cy="91.0" r="1.0"/><circle cx="193.9" cy="94.8" r="1.0"/><circle cx="201.3" cy="94.8" r="1.0"/><circle cx="208.8" cy="94.8" r="1.0"/><circle cx="216.2" cy="94.8" r="1.0"/><circle cx="223.7" cy="94.8" r="1.0"/><circle cx="231.1" cy="94.8" r="1.0"/><circle cx="238.6" cy="94.8" r="1.0"/><circle cx="246.0" cy="94.8" r="1.0"/><circle cx="253.5" cy="94.8" r="1.0"/><circle cx="260.9" cy="94.8" r="1.0"/><circle cx="268.4" cy="94.8" r="1.0"/><circle cx="275.8" cy="94.8" r="1.0"/><circle cx="283.2" cy="94.8" r="1.0"/><circle cx="290.7" cy="94.8" r="1.0"/><circle cx="298.2" cy="94.8" r="1.0"/><circle cx="305.6" cy="94.8" r="1.0"/><circle cx="313.1" cy="94.8" r="1.0"/><circle cx="320.5" cy="94.8" r="1.0"/><circle cx="328.0" cy="94.8" r="1.0"/><circle cx="335.4" cy="94.8" r="1.0"/><circle cx="491.9" cy="94.8" r="1.0"/><circle cx="499.3" cy="94.8" r="1.0"/><circle cx="506.8" cy="94.8" r="1.0"/><circle cx="514.2" cy="94.8" r="1.0"/><circle cx="521.7" cy="94.8" r="1.0"/><circle cx="182.7" cy="98.6" r="1.0"/><circle cx="190.1" cy="98.6" r="1.0"/><circle cx="197.6" cy="98.6" r="1.0"/><circle cx="205.0" cy="98.6" r="1.0"/><circle cx="212.5" cy="98.6" r="1.0"/><circle cx="219.9" cy="98.6" r="1.0"/><circle cx="227.4" cy="98.6" r="1.0"/><circle cx="234.8" cy="98.6" r="1.0"/><circle cx="242.3" cy="98.6" r="1.0"/><circle cx="249.7" cy="98.6" r="1.0"/><circle cx="257.2" cy="98.6" r="1.0"/><circle cx="264.6" cy="98.6" r="1.0"/><circle cx="272.1" cy="98.6" r="1.0"/><circle cx="279.5" cy="98.6" r="1.0"/><circle cx="287.0" cy="98.6" r="1.0"/><circle cx="294.4" cy="98.6" r="1.0"/><circle cx="301.9" cy="98.6" r="1.0"/><circle cx="309.3" cy="98.6" r="1.0"/><circle cx="316.8" cy="98.6" r="1.0"/><circle cx="324.2" cy="98.6" r="1.0"/><circle cx="331.7" cy="98.6" r="1.0"/><circle cx="339.1" cy="98.6" r="1.0"/><circle cx="346.6" cy="98.6" r="1.0"/><circle cx="354.0" cy="98.6" r="1.0"/><circle cx="179.0" cy="102.3" r="1.0"/><circle cx="186.4" cy="102.3" r="1.0"/><circle cx="193.9" cy="102.3" r="1.0"/><circle cx="201.3" cy="102.3" r="1.0"/><circle cx="208.8" cy="102.3" r="1.0"/><circle cx="216.2" cy="102.3" r="1.0"/><circle cx="223.7" cy="102.3" r="1.0"/><circle cx="231.1" cy="102.3" r="1.0"/><circle cx="238.6" cy="102.3" r="1.0"/><circle cx="246.0" cy="102.3" r="1.0"/><circle cx="253.5" cy="102.3" r="1.0"/><circle cx="260.9" cy="102.3" r="1.0"/><circle cx="268.4" cy="102.3" r="1.0"/><circle cx="275.8" cy="102.3" r="1.0"/><circle cx="283.2" cy="102.3" r="1.0"/><circle cx="290.7" cy="102.3" r="1.0"/><circle cx="298.2" cy="102.3" r="1.0"/><circle cx="305.6" cy="102.3" r="1.0"/><circle cx="313.1" cy="102.3" r="1.0"/><circle cx="320.5" cy="102.3" r="1.0"/><circle cx="328.0" cy="102.3" r="1.0"/><circle cx="335.4" cy="102.3" r="1.0"/><circle cx="342.9" cy="102.3" r="1.0"/><circle cx="350.3" cy="102.3" r="1.0"/><circle cx="190.1" cy="106.1" r="1.0"/><circle cx="197.6" cy="106.1" r="1.0"/><circle cx="205.0" cy="106.1" r="1.0"/><circle cx="212.5" cy="106.1" r="1.0"/><circle cx="219.9" cy="106.1" r="1.0"/><circle cx="227.4" cy="106.1" r="1.0"/><circle cx="234.8" cy="106.1" r="1.0"/><circle cx="242.3" cy="106.1" r="1.0"/><circle cx="249.7" cy="106.1" r="1.0"/><circle cx="257.2" cy="106.1" r="1.0"/><circle cx="264.6" cy="106.1" r="1.0"/><circle cx="272.1" cy="106.1" r="1.0"/><circle cx="279.5" cy="106.1" r="1.0"/><circle cx="287.0" cy="106.1" r="1.0"/><circle cx="294.4" cy="106.1" r="1.0"/><circle cx="301.9" cy="106.1" r="1.0"/><circle cx="309.3" cy="106.1" r="1.0"/><circle cx="316.8" cy="106.1" r="1.0"/><circle cx="324.2" cy="106.1" r="1.0"/><circle cx="331.7" cy="106.1" r="1.0"/><circle cx="339.1" cy="106.1" r="1.0"/><circle cx="354.0" cy="106.1" r="1.0"/><circle cx="361.5" cy="106.1" r="1.0"/><circle cx="368.9" cy="106.1" r="1.0"/><circle cx="376.4" cy="106.1" r="1.0"/><circle cx="223.7" cy="109.9" r="1.0"/><circle cx="231.1" cy="109.9" r="1.0"/><circle cx="238.6" cy="109.9" r="1.0"/><circle cx="246.0" cy="109.9" r="1.0"/><circle cx="253.5" cy="109.9" r="1.0"/><circle cx="260.9" cy="109.9" r="1.0"/><circle cx="268.4" cy="109.9" r="1.0"/><circle cx="275.8" cy="109.9" r="1.0"/><circle cx="283.2" cy="109.9" r="1.0"/><circle cx="290.7" cy="109.9" r="1.0"/><circle cx="298.2" cy="109.9" r="1.0"/><circle cx="305.6" cy="109.9" r="1.0"/><circle cx="350.3" cy="109.9" r="1.0"/><circle cx="357.8" cy="109.9" r="1.0"/><circle cx="365.2" cy="109.9" r="1.0"/><circle cx="372.6" cy="109.9" r="1.0"/><circle cx="380.1" cy="109.9" r="1.0"/><circle cx="354.0" cy="113.7" r="1.0"/><circle cx="361.5" cy="113.7" r="1.0"/><circle cx="368.9" cy="113.7" r="1.0"/><circle cx="376.4" cy="113.7" r="1.0"/></g><g clip-path="url(#clipa)"><path d="M249.7,42.1L254.8,41.3" stroke="#000" stroke-width="1.6"/><path d="M258.7,40.6L255.1,43.2L254.5,39.4Z" fill="#000"/><path d="M274.2,39.4L276.1,39.4" stroke="#000" stroke-width="1.6"/><path d="M278.0,39.4L276.1,40.3L276.1,38.5Z" fill="#000"/><path d="M282.2,41.4L285.0,41.4" stroke="#000" stroke-width="1.6"/><path d="M287.8,41.5L285.0,42.8L285.0,40.1Z" fill="#000"/><path d="M293.9,39.3L296.9,39.4" stroke="#000" stroke-width="1.6"/><path d="M299.9,39.6L296.8,40.9L297.0,38.0Z" fill="#000"/><path d="M306.7,40.1L309.7,40.3" stroke="#000" stroke-width="1.6"/><path d="M312.7,40.4L309.6,41.7L309.8,38.8Z" fill="#000"/><path d="M317.0,40.8L319.4,40.8" stroke="#000" stroke-width="1.6"/><path d="M321.8,40.8L319.4,42.0L319.4,39.7Z" fill="#000"/><path d="M326.5,39.9L329.1,40.6" stroke="#000" stroke-width="1.6"/><path d="M331.7,41.4L328.7,41.9L329.5,39.4Z" fill="#000"/><path d="M338.8,37.9L341.1,38.8" stroke="#000" stroke-width="1.6"/><path d="M343.5,39.7L340.7,39.9L341.5,37.6Z" fill="#000"/><path d="M351.5,40.5L353.0,41.3" stroke="#000" stroke-width="1.6"/><path d="M354.5,42.1L352.6,42.0L353.4,40.6Z" fill="#000"/><path d="M483.1,38.5L484.7,39.7" stroke="#000" stroke-width="1.6"/><path d="M486.2,40.9L484.1,40.4L485.3,39.0Z" fill="#000"/><path d="M494.8,38.2L495.6,38.9" stroke="#000" stroke-width="1.6"/><path d="M496.9,40.0L495.1,39.5L496.2,38.3Z" fill="#000"/><path d="M517.5,39.5L517.9,39.8" stroke="#000" stroke-width="1.6"/><path d="M519.0,40.9L517.3,40.4L518.4,39.3Z" fill="#000"/><path d="M212.7,49.9L215.9,49.4" stroke="#000" stroke-width="1.6"/><path d="M219.1,48.8L216.1,50.9L215.6,47.8Z" fill="#000"/><path d="M231.8,48.1L235.8,47.6" stroke="#000" stroke-width="1.6"/><path d="M239.7,47.1L236.0,49.5L235.5,45.7Z" fill="#000"/><path d="M242.9,50.5L247.4,49.5" stroke="#000" stroke-width="1.6"/><path d="M251.3,48.7L247.8,51.4L247.0,47.6Z" fill="#000"/><path d="M253.2,48.7L258.7,47.8" stroke="#000" stroke-width="1.6"/><path d="M262.6,47.0L259.0,49.6L258.3,45.9Z" fill="#000"/><path d="M267.2,49.6L270.0,49.5" stroke="#000" stroke-width="1.6"/><path d="M272.7,49.4L270.0,50.9L269.9,48.2Z" fill="#000"/><path d="M280.5,49.1L282.4,49.1" stroke="#000" stroke-width="1.6"/><path d="M284.3,49.1L282.4,50.0L282.4,48.2Z" fill="#000"/><path d="M288.2,48.5L291.1,48.6" stroke="#000" stroke-width="1.6"/><path d="M294.1,48.8L291.1,50.0L291.2,47.2Z" fill="#000"/><path d="M300.6,46.7L303.6,47.2" stroke="#000" stroke-width="1.6"/><path d="M306.6,47.6L303.4,48.6L303.9,45.7Z" fill="#000"/><path d="M311.3,46.2L314.5,48.1" stroke="#000" stroke-width="1.6"/><path d="M317.8,50.0L313.6,49.7L315.4,46.6Z" fill="#000"/><path d="M322.0,47.2L325.3,49.0" stroke="#000" stroke-width="1.6"/><path d="M328.6,50.9L324.4,50.6L326.2,47.4Z" fill="#000"/><path d="M333.9,47.2L336.5,48.6" stroke="#000" stroke-width="1.6"/><path d="M339.2,50.0L335.8,49.8L337.2,47.3Z" fill="#000"/><path d="M345.3,46.4L347.2,47.6" stroke="#000" stroke-width="1.6"/><path d="M349.0,48.8L346.6,48.5L347.7,46.7Z" fill="#000"/><path d="M422.2,47.9L425.2,48.2" stroke="#000" stroke-width="1.6"/><path d="M428.3,48.4L425.1,49.6L425.3,46.7Z" fill="#000"/><path d="M431.2,47.7L434.5,48.0" stroke="#000" stroke-width="1.6"/><path d="M437.9,48.3L434.4,49.6L434.7,46.5Z" fill="#000"/><path d="M442.1,46.1L445.9,47.3" stroke="#000" stroke-width="1.6"/><path d="M449.7,48.4L445.4,49.1L446.5,45.5Z" fill="#000"/><path d="M464.5,46.6L468.7,49.6" stroke="#000" stroke-width="1.6"/><path d="M471.9,51.9L467.5,51.1L469.8,48.0Z" fill="#000"/><path d="M477.6,47.5L480.3,49.5" stroke="#000" stroke-width="1.6"/><path d="M483.1,51.6L479.4,50.9L481.3,48.2Z" fill="#000"/><path d="M489.8,48.8L490.3,49.2" stroke="#000" stroke-width="1.6"/><path d="M491.6,50.0L489.9,49.8L490.7,48.5Z" fill="#000"/><path d="M501.1,46.9L501.7,47.5" stroke="#000" stroke-width="1.6"/><path d="M502.8,48.6L501.1,48.0L502.2,46.9Z" fill="#000"/><path d="M511.1,47.3L511.6,47.7" stroke="#000" stroke-width="1.6"/><path d="M512.8,48.8L511.1,48.3L512.1,47.2Z" fill="#000"/><path d="M174.9,55.6L176.7,55.8" stroke="#000" stroke-width="1.6"/><path d="M178.6,56.0L176.7,56.7L176.8,54.9Z" fill="#000"/><path d="M185.5,56.6L187.3,56.7" stroke="#000" stroke-width="1.6"/><path d="M189.1,56.7L187.3,57.5L187.3,55.8Z" fill="#000"/><path d="M197.2,56.1L199.1,55.8" stroke="#000" stroke-width="1.6"/><path d="M201.1,55.4L199.3,56.7L198.9,54.8Z" fill="#000"/><path d="M205.2,57.5L208.5,57.0" stroke="#000" stroke-width="1.6"/><path d="M211.8,56.6L208.7,58.6L208.3,55.4Z" fill="#000"/><path d="M216.0,58.2L220.5,57.4" stroke="#000" stroke-width="1.6"/><path d="M224.5,56.8L220.9,59.3L220.2,55.5Z" fill="#000"/><path d="M226.8,56.8L231.2,56.0" stroke="#000" stroke-width="1.6"/><path d="M235.2,55.3L231.6,57.9L230.9,54.2Z" fill="#000"/><path d="M239.6,57.0L244.1,56.2" stroke="#000" stroke-width="1.6"/><path d="M248.0,55.5L244.4,58.1L243.7,54.3Z" fill="#000"/><path d="M248.3,56.8L252.6,56.3" stroke="#000" stroke-width="1.6"/><path d="M256.6,55.9L252.8,58.2L252.4,54.4Z" fill="#000"/><path d="M259.8,56.8L264.2,56.1" stroke="#000" stroke-width="1.6"/><path d="M268.2,55.6L264.5,58.0L264.0,54.2Z" fill="#000"/><path d="M273.2,58.2L275.6,58.3" stroke="#000" stroke-width="1.6"/><path d="M278.0,58.4L275.6,59.5L275.7,57.1Z" fill="#000"/><path d="M283.1,56.7L285.4,56.7" stroke="#000" stroke-width="1.6"/><path d="M287.7,56.8L285.3,57.8L285.4,55.7Z" fill="#000"/><path d="M294.7,57.7L298.0,58.2" stroke="#000" stroke-width="1.6"/><path d="M301.3,58.6L297.8,59.7L298.2,56.6Z" fill="#000"/><path d="M306.7,53.8L310.0,55.9" stroke="#000" stroke-width="1.6"/><path d="M313.3,58.1L309.0,57.5L311.0,54.3Z" fill="#000"/><path d="M316.0,56.1L319.7,58.2" stroke="#000" stroke-width="1.6"/><path d="M323.2,60.2L318.8,59.9L320.6,56.5Z" fill="#000"/><path d="M326.1,53.8L329.6,57.7" stroke="#000" stroke-width="1.6"/><path d="M332.2,60.7L328.1,59.0L331.0,56.5Z" fill="#000"/><path d="M336.9,55.2L340.9,58.0" stroke="#000" stroke-width="1.6"/><path d="M344.1,60.4L339.7,59.6L342.0,56.5Z" fill="#000"/><path d="M350.8,54.8L353.8,57.1" stroke="#000" stroke-width="1.6"/><path d="M356.8,59.4L352.7,58.6L354.9,55.7Z" fill="#000"/><path d="M359.1,54.5L362.0,55.7" stroke="#000" stroke-width="1.6"/><path d="M364.9,56.9L361.4,57.1L362.6,54.3Z" fill="#000"/><path d="M371.3,58.0L374.2,58.0" stroke="#000" stroke-width="1.6"/><path d="M377.2,58.1L374.2,59.5L374.3,56.6Z" fill="#000"/><path d="M381.8,57.4L384.7,57.5" stroke="#000" stroke-width="1.6"/><path d="M387.7,57.7L384.6,58.9L384.8,56.1Z" fill="#000"/><path d="M405.2,56.3L408.1,56.4" stroke="#000" stroke-width="1.6"/><path d="M411.0,56.5L408.1,57.8L408.2,55.0Z" fill="#000"/><path d="M415.1,57.8L418.1,57.8" stroke="#000" stroke-width="1.6"/><path d="M421.1,57.8L418.1,59.2L418.1,56.4Z" fill="#000"/><path d="M426.5,57.8L429.5,57.9" stroke="#000" stroke-width="1.6"/><path d="M432.5,57.9L429.5,59.3L429.5,56.4Z" fill="#000"/><path d="M436.9,56.0L440.5,56.0" stroke="#000" stroke-width="1.6"/><path d="M444.1,56.0L440.5,57.7L440.6,54.3Z" fill="#000"/><path d="M446.6,55.7L452.5,58.7" stroke="#000" stroke-width="1.6"/><path d="M456.1,60.5L451.7,60.4L453.4,57.0Z" fill="#000"/><path d="M457.9,55.4L464.1,59.3" stroke="#000" stroke-width="1.6"/><path d="M467.5,61.4L463.1,60.9L465.1,57.6Z" fill="#000"/><path d="M468.4,54.1L472.3,56.7" stroke="#000" stroke-width="1.6"/><path d="M475.6,59.0L471.2,58.3L473.4,55.2Z" fill="#000"/><path d="M482.8,55.2L485.3,57.6" stroke="#000" stroke-width="1.6"/><path d="M487.9,59.9L484.2,58.8L486.4,56.3Z" fill="#000"/><path d="M494.6,56.4L495.7,57.5" stroke="#000" stroke-width="1.6"/><path d="M496.8,58.6L495.1,58.0L496.2,56.9Z" fill="#000"/><path d="M506.2,56.4L507.6,57.6" stroke="#000" stroke-width="1.6"/><path d="M509.0,58.7L507.1,58.2L508.2,56.9Z" fill="#000"/><path d="M516.1,56.3L517.6,57.2" stroke="#000" stroke-width="1.6"/><path d="M519.1,58.1L517.2,57.9L518.1,56.5Z" fill="#000"/><path d="M180.7,65.8L182.5,65.8" stroke="#000" stroke-width="1.6"/><path d="M184.3,65.9L182.5,66.7L182.5,65.0Z" fill="#000"/><path d="M192.0,65.5L193.9,65.4" stroke="#000" stroke-width="1.6"/><path d="M195.7,65.4L193.9,66.3L193.8,64.6Z" fill="#000"/><path d="M200.6,66.0L202.6,65.6" stroke="#000" stroke-width="1.6"/><path d="M204.6,65.2L202.8,66.6L202.4,64.7Z" fill="#000"/><path d="M210.5,66.4L217.6,65.8" stroke="#000" stroke-width="1.6"/><path d="M221.6,65.4L217.8,67.7L217.4,63.9Z" fill="#000"/><path d="M221.9,65.5L227.0,65.1" stroke="#000" stroke-width="1.6"/><path d="M231.0,64.9L227.1,67.0L226.9,63.2Z" fill="#000"/><path d="M232.1,66.5L237.1,66.1" stroke="#000" stroke-width="1.6"/><path d="M241.1,65.8L237.2,68.0L236.9,64.2Z" fill="#000"/><path d="M242.0,67.1L247.5,66.5" stroke="#000" stroke-width="1.6"/><path d="M251.4,66.1L247.7,68.4L247.3,64.6Z" fill="#000"/><path d="M256.6,65.7L260.1,66.9" stroke="#000" stroke-width="1.6"/><path d="M263.6,68.1L259.6,68.6L260.7,65.2Z" fill="#000"/><path d="M298.5,64.5L304.5,64.5" stroke="#000" stroke-width="1.6"/><path d="M308.5,64.5L304.5,66.4L304.5,62.6Z" fill="#000"/><path d="M308.3,65.9L315.6,66.0" stroke="#000" stroke-width="1.6"/><path d="M319.6,66.0L315.6,67.9L315.6,64.1Z" fill="#000"/><path d="M319.9,63.4L327.5,64.2" stroke="#000" stroke-width="1.6"/><path d="M331.5,64.7L327.3,66.2L327.7,62.3Z" fill="#000"/><path d="M331.5,64.5L338.4,65.5" stroke="#000" stroke-width="1.6"/><path d="M342.3,66.1L338.1,67.4L338.6,63.6Z" fill="#000"/><path d="M342.5,64.3L347.3,65.8" stroke="#000" stroke-width="1.6"/><path d="M351.1,67.0L346.7,67.7L347.8,64.0Z" fill="#000"/><path d="M353.7,65.2L357.3,66.7" stroke="#000" stroke-width="1.6"/><path d="M361.0,68.2L356.6,68.4L358.1,64.9Z" fill="#000"/><path d="M365.1,65.4L368.1,65.6" stroke="#000" stroke-width="1.6"/><path d="M371.2,65.9L368.0,67.1L368.3,64.2Z" fill="#000"/><path d="M376.0,65.7L379.0,65.8" stroke="#000" stroke-width="1.6"/><path d="M382.0,66.0L378.9,67.3L379.1,64.4Z" fill="#000"/><path d="M388.8,66.4L392.2,66.6" stroke="#000" stroke-width="1.6"/><path d="M395.6,66.9L392.1,68.3L392.3,65.0Z" fill="#000"/><path d="M396.8,65.8L401.0,65.9" stroke="#000" stroke-width="1.6"/><path d="M405.0,65.9L400.9,67.8L401.0,64.0Z" fill="#000"/><path d="M411.2,64.6L414.2,64.6" stroke="#000" stroke-width="1.6"/><path d="M417.2,64.6L414.2,66.1L414.2,63.2Z" fill="#000"/><path d="M420.6,65.7L423.7,66.1" stroke="#000" stroke-width="1.6"/><path d="M426.9,66.6L423.5,67.6L423.9,64.6Z" fill="#000"/><path d="M441.8,62.2L448.0,67.3" stroke="#000" stroke-width="1.6"/><path d="M451.1,69.8L446.7,68.8L449.2,65.8Z" fill="#000"/><path d="M451.9,62.0L458.1,67.3" stroke="#000" stroke-width="1.6"/><path d="M461.2,69.9L456.9,68.8L459.4,65.8Z" fill="#000"/><path d="M463.8,61.8L469.8,67.6" stroke="#000" stroke-width="1.6"/><path d="M472.6,70.4L468.4,69.0L471.1,66.2Z" fill="#000"/><path d="M475.0,60.4L480.4,66.6" stroke="#000" stroke-width="1.6"/><path d="M483.1,69.6L479.0,67.9L481.9,65.3Z" fill="#000"/><path d="M485.9,62.3L491.1,68.2" stroke="#000" stroke-width="1.6"/><path d="M493.7,71.2L489.6,69.5L492.5,67.0Z" fill="#000"/><path d="M497.9,62.5L500.1,64.4" stroke="#000" stroke-width="1.6"/><path d="M502.2,66.4L499.1,65.5L501.0,63.4Z" fill="#000"/><path d="M507.4,65.9L510.5,66.6" stroke="#000" stroke-width="1.6"/><path d="M513.7,67.2L510.2,68.1L510.8,65.0Z" fill="#000"/><path d="M521.4,64.1L524.5,64.7" stroke="#000" stroke-width="1.6"/><path d="M527.5,65.3L524.2,66.2L524.7,63.2Z" fill="#000"/><path d="M530.4,64.0L533.3,64.6" stroke="#000" stroke-width="1.6"/><path d="M536.2,65.2L533.0,66.0L533.6,63.2Z" fill="#000"/><path d="M175.0,73.9L176.8,74.0" stroke="#000" stroke-width="1.6"/><path d="M178.6,74.0L176.8,74.8L176.8,73.1Z" fill="#000"/><path d="M186.4,72.8L188.5,73.1" stroke="#000" stroke-width="1.6"/><path d="M190.5,73.5L188.3,74.1L188.6,72.1Z" fill="#000"/><path d="M197.3,73.8L199.6,73.9" stroke="#000" stroke-width="1.6"/><path d="M202.0,74.0L199.6,75.0L199.7,72.8Z" fill="#000"/><path d="M207.7,74.7L210.4,74.9" stroke="#000" stroke-width="1.6"/><path d="M213.1,75.1L210.3,76.2L210.5,73.6Z" fill="#000"/><path d="M217.6,73.4L221.9,74.0" stroke="#000" stroke-width="1.6"/><path d="M225.9,74.6L221.7,75.9L222.2,72.1Z" fill="#000"/><path d="M228.1,73.5L231.8,74.2" stroke="#000" stroke-width="1.6"/><path d="M235.5,74.9L231.5,76.0L232.2,72.4Z" fill="#000"/><path d="M238.0,72.9L241.6,74.0" stroke="#000" stroke-width="1.6"/><path d="M245.1,75.1L241.0,75.7L242.1,72.3Z" fill="#000"/><path d="M251.6,73.3L254.8,75.2" stroke="#000" stroke-width="1.6"/><path d="M258.0,77.2L253.9,76.8L255.7,73.7Z" fill="#000"/><path d="M260.1,71.2L263.4,74.8" stroke="#000" stroke-width="1.6"/><path d="M266.1,77.8L262.0,76.1L264.8,73.5Z" fill="#000"/><path d="M294.8,76.1L299.4,73.8" stroke="#000" stroke-width="1.6"/><path d="M303.0,72.0L300.3,75.5L298.5,72.1Z" fill="#000"/><path d="M303.2,75.8L309.3,73.6" stroke="#000" stroke-width="1.6"/><path d="M313.1,72.2L310.0,75.4L308.7,71.8Z" fill="#000"/><path d="M316.1,76.5L321.2,74.5" stroke="#000" stroke-width="1.6"/><path d="M324.9,73.0L321.9,76.3L320.5,72.7Z" fill="#000"/><path d="M324.4,73.3L330.0,73.1" stroke="#000" stroke-width="1.6"/><path d="M333.9,73.0L330.0,75.0L329.9,71.2Z" fill="#000"/><path d="M337.5,73.6L343.7,74.1" stroke="#000" stroke-width="1.6"/><path d="M347.7,74.4L343.5,76.0L343.9,72.2Z" fill="#000"/><path d="M348.9,73.8L353.2,74.9" stroke="#000" stroke-width="1.6"/><path d="M357.0,75.9L352.7,76.7L353.6,73.0Z" fill="#000"/><path d="M381.0,74.3L384.6,75.5" stroke="#000" stroke-width="1.6"/><path d="M388.1,76.7L384.0,77.2L385.1,73.8Z" fill="#000"/><path d="M391.7,73.8L395.0,74.6" stroke="#000" stroke-width="1.6"/><path d="M398.4,75.3L394.7,76.2L395.4,73.0Z" fill="#000"/><path d="M405.5,73.1L408.6,73.2" stroke="#000" stroke-width="1.6"/><path d="M411.8,73.3L408.6,74.7L408.7,71.7Z" fill="#000"/><path d="M414.1,73.5L417.1,73.7" stroke="#000" stroke-width="1.6"/><path d="M420.2,73.9L417.0,75.2L417.3,72.2Z" fill="#000"/><path d="M445.7,70.8L452.1,77.1" stroke="#000" stroke-width="1.6"/><path d="M455.0,79.9L450.8,78.4L453.5,75.7Z" fill="#000"/><path d="M456.4,70.0L463.2,77.6" stroke="#000" stroke-width="1.6"/><path d="M465.8,80.6L461.7,78.9L464.6,76.4Z" fill="#000"/><path d="M468.5,68.9L475.1,77.3" stroke="#000" stroke-width="1.6"/><path d="M477.5,80.5L473.5,78.5L476.6,76.2Z" fill="#000"/><path d="M479.1,68.7L484.5,75.8" stroke="#000" stroke-width="1.6"/><path d="M486.9,79.0L482.9,76.9L486.0,74.6Z" fill="#000"/><path d="M492.7,70.1L496.9,75.5" stroke="#000" stroke-width="1.6"/><path d="M499.4,78.7L495.4,76.7L498.4,74.3Z" fill="#000"/><path d="M503.9,72.8L507.4,73.0" stroke="#000" stroke-width="1.6"/><path d="M511.0,73.1L507.3,74.7L507.5,71.3Z" fill="#000"/><path d="M513.8,73.9L517.2,74.3" stroke="#000" stroke-width="1.6"/><path d="M520.6,74.8L517.0,76.0L517.4,72.7Z" fill="#000"/><path d="M523.9,74.4L527.1,75.0" stroke="#000" stroke-width="1.6"/><path d="M530.3,75.6L526.8,76.6L527.4,73.5Z" fill="#000"/><path d="M178.7,79.6L181.7,81.7" stroke="#000" stroke-width="1.6"/><path d="M184.8,83.9L180.7,83.2L182.8,80.3Z" fill="#000"/><path d="M189.0,81.1L192.2,83.0" stroke="#000" stroke-width="1.6"/><path d="M195.3,84.8L191.3,84.5L193.1,81.4Z" fill="#000"/><path d="M199.1,81.1L202.6,81.7" stroke="#000" stroke-width="1.6"/><path d="M206.2,82.3L202.4,83.4L202.9,80.0Z" fill="#000"/><path d="M224.8,80.4L226.7,82.8" stroke="#000" stroke-width="1.6"/><path d="M228.6,85.1L225.6,83.7L227.8,81.9Z" fill="#000"/><path d="M236.0,80.7L238.2,83.1" stroke="#000" stroke-width="1.6"/><path d="M240.5,85.5L237.1,84.2L239.4,82.0Z" fill="#000"/><path d="M244.7,79.6L247.4,82.0" stroke="#000" stroke-width="1.6"/><path d="M250.0,84.4L246.2,83.3L248.5,80.7Z" fill="#000"/><path d="M255.2,78.7L257.9,81.7" stroke="#000" stroke-width="1.6"/><path d="M260.5,84.8L256.4,83.0L259.3,80.5Z" fill="#000"/><path d="M267.7,80.6L270.3,83.2" stroke="#000" stroke-width="1.6"/><path d="M272.9,85.8L269.1,84.4L271.6,82.0Z" fill="#000"/><path d="M289.2,87.1L293.6,83.3" stroke="#000" stroke-width="1.6"/><path d="M296.6,80.7L294.8,84.7L292.3,81.8Z" fill="#000"/><path d="M297.6,85.6L303.2,79.7" stroke="#000" stroke-width="1.6"/><path d="M305.9,76.8L304.6,81.0L301.8,78.4Z" fill="#000"/><path d="M310.3,86.1L316.1,81.4" stroke="#000" stroke-width="1.6"/><path d="M319.2,78.9L317.3,82.9L314.9,79.9Z" fill="#000"/><path d="M320.8,85.1L325.2,82.6" stroke="#000" stroke-width="1.6"/><path d="M328.7,80.7L326.2,84.3L324.3,81.0Z" fill="#000"/><path d="M333.8,83.0L336.8,81.2" stroke="#000" stroke-width="1.6"/><path d="M339.8,79.4L337.6,82.7L335.9,79.8Z" fill="#000"/><path d="M345.5,84.8L348.4,83.9" stroke="#000" stroke-width="1.6"/><path d="M351.3,83.0L348.8,85.3L347.9,82.5Z" fill="#000"/><path d="M355.0,82.9L357.7,82.4" stroke="#000" stroke-width="1.6"/><path d="M360.5,81.9L358.0,83.7L357.5,81.1Z" fill="#000"/><path d="M375.7,81.7L379.1,82.6" stroke="#000" stroke-width="1.6"/><path d="M382.5,83.6L378.7,84.2L379.6,81.0Z" fill="#000"/><path d="M389.2,81.4L392.2,82.5" stroke="#000" stroke-width="1.6"/><path d="M395.3,83.7L391.7,84.0L392.8,81.1Z" fill="#000"/><path d="M399.9,81.0L403.0,81.5" stroke="#000" stroke-width="1.6"/><path d="M406.1,82.1L402.7,83.0L403.2,80.0Z" fill="#000"/><path d="M411.1,81.3L414.2,81.4" stroke="#000" stroke-width="1.6"/><path d="M417.2,81.5L414.1,82.8L414.2,79.9Z" fill="#000"/><path d="M467.5,77.4L470.0,85.5" stroke="#000" stroke-width="1.6"/><path d="M471.2,89.3L468.2,86.1L471.8,84.9Z" fill="#000"/><path d="M476.6,75.9L479.3,83.5" stroke="#000" stroke-width="1.6"/><path d="M480.7,87.2L477.5,84.1L481.1,82.8Z" fill="#000"/><path d="M489.4,78.2L491.5,84.7" stroke="#000" stroke-width="1.6"/><path d="M492.8,88.5L489.7,85.3L493.4,84.1Z" fill="#000"/><path d="M499.9,78.0L501.8,83.4" stroke="#000" stroke-width="1.6"/><path d="M503.2,87.1L500.0,84.0L503.6,82.7Z" fill="#000"/><path d="M510.1,80.1L512.2,84.2" stroke="#000" stroke-width="1.6"/><path d="M514.0,87.7L510.5,85.1L513.9,83.3Z" fill="#000"/><path d="M520.1,79.3L523.1,81.3" stroke="#000" stroke-width="1.6"/><path d="M526.1,83.2L522.1,82.7L524.0,79.8Z" fill="#000"/><path d="M529.8,80.8L532.7,82.8" stroke="#000" stroke-width="1.6"/><path d="M535.7,84.7L531.8,84.2L533.7,81.4Z" fill="#000"/><path d="M176.5,87.8L177.2,91.4" stroke="#000" stroke-width="1.6"/><path d="M177.9,95.0L175.5,91.7L178.9,91.0Z" fill="#000"/><path d="M184.1,86.6L189.4,91.5" stroke="#000" stroke-width="1.6"/><path d="M192.3,94.2L188.1,92.9L190.7,90.0Z" fill="#000"/><path d="M195.0,88.8L198.1,90.3" stroke="#000" stroke-width="1.6"/><path d="M201.2,91.8L197.4,91.8L198.8,88.8Z" fill="#000"/><path d="M206.2,87.6L209.1,90.3" stroke="#000" stroke-width="1.6"/><path d="M212.1,93.0L207.8,91.7L210.4,88.9Z" fill="#000"/><path d="M219.5,87.5L221.5,89.9" stroke="#000" stroke-width="1.6"/><path d="M223.5,92.4L220.3,90.9L222.7,89.0Z" fill="#000"/><path d="M229.3,88.6L230.6,91.6" stroke="#000" stroke-width="1.6"/><path d="M232.0,94.7L229.2,92.3L232.1,91.0Z" fill="#000"/><path d="M241.4,87.0L242.2,90.5" stroke="#000" stroke-width="1.6"/><path d="M242.9,94.0L240.5,90.9L243.9,90.2Z" fill="#000"/><path d="M253.2,88.9L254.9,92.2" stroke="#000" stroke-width="1.6"/><path d="M256.7,95.5L253.3,93.0L256.5,91.3Z" fill="#000"/><path d="M261.2,87.2L263.7,90.0" stroke="#000" stroke-width="1.6"/><path d="M266.1,92.8L262.3,91.1L265.0,88.8Z" fill="#000"/><path d="M272.7,89.5L275.5,91.2" stroke="#000" stroke-width="1.6"/><path d="M278.2,92.9L274.7,92.5L276.3,89.9Z" fill="#000"/><path d="M283.5,93.3L286.0,91.3" stroke="#000" stroke-width="1.6"/><path d="M288.6,89.3L287.0,92.5L285.1,90.1Z" fill="#000"/><path d="M294.7,95.1L298.5,91.5" stroke="#000" stroke-width="1.6"/><path d="M301.4,88.8L299.8,92.9L297.1,90.2Z" fill="#000"/><path d="M304.5,94.9L308.2,90.9" stroke="#000" stroke-width="1.6"/><path d="M311.0,87.9L309.7,92.2L306.8,89.6Z" fill="#000"/><path d="M315.0,93.6L318.8,88.9" stroke="#000" stroke-width="1.6"/><path d="M321.3,85.8L320.3,90.1L317.3,87.7Z" fill="#000"/><path d="M326.0,92.0L329.2,89.8" stroke="#000" stroke-width="1.6"/><path d="M332.3,87.7L330.2,91.4L328.1,88.3Z" fill="#000"/><path d="M339.9,92.9L342.3,90.6" stroke="#000" stroke-width="1.6"/><path d="M344.8,88.3L343.5,91.8L341.2,89.4Z" fill="#000"/><path d="M350.6,92.6L352.5,90.9" stroke="#000" stroke-width="1.6"/><path d="M354.3,89.1L353.3,91.7L351.6,90.0Z" fill="#000"/><path d="M360.4,90.7L362.6,89.6" stroke="#000" stroke-width="1.6"/><path d="M364.9,88.6L363.1,90.7L362.1,88.6Z" fill="#000"/><path d="M438.9,89.0L440.7,92.2" stroke="#000" stroke-width="1.6"/><path d="M442.6,95.4L439.2,93.1L442.3,91.3Z" fill="#000"/><path d="M451.0,85.9L452.9,89.8" stroke="#000" stroke-width="1.6"/><path d="M454.7,93.4L451.2,90.7L454.6,89.0Z" fill="#000"/><path d="M460.2,84.9L462.6,90.6" stroke="#000" stroke-width="1.6"/><path d="M464.1,94.3L460.8,91.4L464.3,89.9Z" fill="#000"/><path d="M471.3,86.7L473.6,93.3" stroke="#000" stroke-width="1.6"/><path d="M474.9,97.1L471.8,93.9L475.4,92.7Z" fill="#000"/><path d="M483.7,85.8L485.4,92.7" stroke="#000" stroke-width="1.6"/><path d="M486.4,96.6L483.6,93.2L487.3,92.3Z" fill="#000"/><path d="M492.8,87.1L494.6,93.0" stroke="#000" stroke-width="1.6"/><path d="M495.7,96.8L492.7,93.5L496.4,92.4Z" fill="#000"/><path d="M505.0,86.6L506.9,90.6" stroke="#000" stroke-width="1.6"/><path d="M508.7,94.2L505.2,91.4L508.7,89.8Z" fill="#000"/><path d="M516.2,86.7L518.4,89.6" stroke="#000" stroke-width="1.6"/><path d="M520.5,92.5L517.0,90.6L519.7,88.6Z" fill="#000"/><path d="M525.2,89.2L527.6,91.9" stroke="#000" stroke-width="1.6"/><path d="M529.9,94.5L526.3,93.0L528.9,90.7Z" fill="#000"/><path d="M179.4,95.1L180.6,98.4" stroke="#000" stroke-width="1.6"/><path d="M181.9,101.7L179.0,99.0L182.2,97.8Z" fill="#000"/><path d="M201.4,94.8L204.5,98.4" stroke="#000" stroke-width="1.6"/><path d="M207.1,101.4L203.0,99.6L205.9,97.1Z" fill="#000"/><path d="M212.1,96.8L214.3,100.1" stroke="#000" stroke-width="1.6"/><path d="M216.5,103.5L212.7,101.2L215.9,99.1Z" fill="#000"/><path d="M224.1,95.5L225.5,98.6" stroke="#000" stroke-width="1.6"/><path d="M227.0,101.6L224.1,99.3L227.0,97.9Z" fill="#000"/><path d="M234.2,95.8L235.5,98.8" stroke="#000" stroke-width="1.6"/><path d="M236.8,101.7L234.1,99.4L236.9,98.2Z" fill="#000"/><path d="M248.7,95.2L249.3,98.1" stroke="#000" stroke-width="1.6"/><path d="M249.9,101.1L247.9,98.4L250.7,97.8Z" fill="#000"/><path d="M257.6,98.1L259.2,100.7" stroke="#000" stroke-width="1.6"/><path d="M260.8,103.4L257.9,101.5L260.4,100.0Z" fill="#000"/><path d="M267.9,96.9L270.6,98.8" stroke="#000" stroke-width="1.6"/><path d="M273.4,100.8L269.7,100.2L271.6,97.5Z" fill="#000"/><path d="M278.9,97.3L281.4,98.4" stroke="#000" stroke-width="1.6"/><path d="M284.0,99.4L281.0,99.6L281.9,97.1Z" fill="#000"/><path d="M289.5,99.7L292.0,98.8" stroke="#000" stroke-width="1.6"/><path d="M294.5,97.9L292.4,100.0L291.6,97.6Z" fill="#000"/><path d="M301.1,103.3L304.2,100.6" stroke="#000" stroke-width="1.6"/><path d="M307.2,97.9L305.4,102.0L302.9,99.1Z" fill="#000"/><path d="M311.7,102.0L315.0,99.0" stroke="#000" stroke-width="1.6"/><path d="M317.9,96.2L316.3,100.4L313.7,97.6Z" fill="#000"/><path d="M322.9,101.7L325.9,100.9" stroke="#000" stroke-width="1.6"/><path d="M328.9,100.2L326.3,102.4L325.5,99.5Z" fill="#000"/><path d="M332.8,100.4L335.6,99.6" stroke="#000" stroke-width="1.6"/><path d="M338.4,98.7L336.0,100.9L335.2,98.2Z" fill="#000"/><path d="M343.3,99.0L346.0,98.3" stroke="#000" stroke-width="1.6"/><path d="M348.7,97.6L346.3,99.6L345.6,97.0Z" fill="#000"/><path d="M356.3,99.0L358.7,98.2" stroke="#000" stroke-width="1.6"/><path d="M361.0,97.4L359.0,99.3L358.3,97.1Z" fill="#000"/><path d="M366.5,98.3L369.3,98.3" stroke="#000" stroke-width="1.6"/><path d="M372.1,98.3L369.3,99.7L369.3,97.0Z" fill="#000"/><path d="M377.7,100.2L380.5,100.3" stroke="#000" stroke-width="1.6"/><path d="M383.3,100.4L380.5,101.6L380.6,98.9Z" fill="#000"/><path d="M445.5,97.3L446.7,100.8" stroke="#000" stroke-width="1.6"/><path d="M447.9,104.4L445.0,101.4L448.4,100.2Z" fill="#000"/><path d="M457.1,94.6L458.4,98.2" stroke="#000" stroke-width="1.6"/><path d="M459.8,101.8L456.7,98.9L460.2,97.6Z" fill="#000"/><path d="M466.5,97.0L467.7,100.6" stroke="#000" stroke-width="1.6"/><path d="M468.9,104.2L466.0,101.2L469.4,100.0Z" fill="#000"/><path d="M477.7,94.8L479.1,99.5" stroke="#000" stroke-width="1.6"/><path d="M480.3,103.3L477.3,100.0L481.0,98.9Z" fill="#000"/><path d="M489.5,96.5L490.9,100.9" stroke="#000" stroke-width="1.6"/><path d="M492.1,104.7L489.1,101.5L492.8,100.3Z" fill="#000"/><path d="M498.2,95.9L499.9,99.6" stroke="#000" stroke-width="1.6"/><path d="M501.7,103.2L498.2,100.4L501.7,98.7Z" fill="#000"/><path d="M509.2,95.0L510.9,98.5" stroke="#000" stroke-width="1.6"/><path d="M512.7,102.0L509.3,99.4L512.6,97.7Z" fill="#000"/><path d="M521.8,95.2L523.1,98.8" stroke="#000" stroke-width="1.6"/><path d="M524.4,102.3L521.4,99.4L524.8,98.1Z" fill="#000"/><path d="M532.5,96.1L534.9,99.1" stroke="#000" stroke-width="1.6"/><path d="M537.3,102.1L533.5,100.2L536.3,97.9Z" fill="#000"/><path d="M173.7,108.0L175.5,108.4" stroke="#000" stroke-width="1.6"/><path d="M177.3,108.8L175.3,109.3L175.7,107.5Z" fill="#000"/><path d="M185.0,105.4L186.8,106.7" stroke="#000" stroke-width="1.6"/><path d="M188.6,108.0L186.1,107.6L187.4,105.8Z" fill="#000"/><path d="M198.5,103.9L200.0,107.1" stroke="#000" stroke-width="1.6"/><path d="M201.5,110.2L198.5,107.8L201.5,106.3Z" fill="#000"/><path d="M206.8,104.8L208.4,107.9" stroke="#000" stroke-width="1.6"/><path d="M210.0,111.1L206.9,108.7L209.9,107.2Z" fill="#000"/><path d="M217.6,105.5L219.0,108.9" stroke="#000" stroke-width="1.6"/><path d="M220.5,112.2L217.4,109.6L220.6,108.2Z" fill="#000"/><path d="M229.0,103.6L230.2,106.6" stroke="#000" stroke-width="1.6"/><path d="M231.4,109.6L228.8,107.2L231.7,106.0Z" fill="#000"/><path d="M242.7,105.3L243.9,108.1" stroke="#000" stroke-width="1.6"/><path d="M245.1,110.8L242.6,108.6L245.2,107.5Z" fill="#000"/><path d="M253.1,106.8L254.8,109.2" stroke="#000" stroke-width="1.6"/><path d="M256.5,111.6L253.7,110.0L255.9,108.4Z" fill="#000"/><path d="M262.3,105.4L265.2,106.6" stroke="#000" stroke-width="1.6"/><path d="M268.1,107.8L264.6,108.0L265.8,105.2Z" fill="#000"/><path d="M273.0,105.4L275.9,106.7" stroke="#000" stroke-width="1.6"/><path d="M278.9,108.0L275.3,108.1L276.6,105.3Z" fill="#000"/><path d="M282.0,108.2L285.0,109.0" stroke="#000" stroke-width="1.6"/><path d="M288.1,109.9L284.6,110.5L285.4,107.6Z" fill="#000"/><path d="M293.9,108.1L296.9,108.7" stroke="#000" stroke-width="1.6"/><path d="M300.0,109.4L296.6,110.2L297.2,107.3Z" fill="#000"/><path d="M305.4,108.5L308.6,108.9" stroke="#000" stroke-width="1.6"/><path d="M311.8,109.2L308.4,110.4L308.7,107.3Z" fill="#000"/><path d="M327.5,109.1L330.4,109.1" stroke="#000" stroke-width="1.6"/><path d="M333.4,109.0L330.5,110.5L330.4,107.6Z" fill="#000"/><path d="M339.5,107.7L342.5,108.3" stroke="#000" stroke-width="1.6"/><path d="M345.4,108.8L342.2,109.7L342.7,106.8Z" fill="#000"/><path d="M349.6,107.4L352.5,107.8" stroke="#000" stroke-width="1.6"/><path d="M355.4,108.1L352.3,109.2L352.7,106.4Z" fill="#000"/><path d="M361.0,106.6L363.9,107.1" stroke="#000" stroke-width="1.6"/><path d="M366.9,107.6L363.7,108.5L364.2,105.7Z" fill="#000"/><path d="M371.3,108.4L374.3,108.4" stroke="#000" stroke-width="1.6"/><path d="M377.3,108.4L374.3,109.9L374.3,107.0Z" fill="#000"/><path d="M382.7,107.0L384.9,107.2" stroke="#000" stroke-width="1.6"/><path d="M387.2,107.3L384.9,108.2L385.0,106.1Z" fill="#000"/><path d="M449.0,105.6L450.4,108.7" stroke="#000" stroke-width="1.6"/><path d="M451.7,111.8L448.9,109.4L451.9,108.1Z" fill="#000"/><path d="M460.2,106.2L461.4,109.4" stroke="#000" stroke-width="1.6"/><path d="M462.7,112.6L459.9,110.0L463.0,108.8Z" fill="#000"/><path d="M483.7,103.3L485.0,107.3" stroke="#000" stroke-width="1.6"/><path d="M486.2,111.1L483.2,107.9L486.8,106.7Z" fill="#000"/><path d="M504.5,104.6L505.8,107.4" stroke="#000" stroke-width="1.6"/><path d="M507.2,110.1L504.5,108.0L507.2,106.7Z" fill="#000"/><path d="M515.1,104.6L516.5,107.7" stroke="#000" stroke-width="1.6"/><path d="M517.9,110.9L515.0,108.4L518.0,107.1Z" fill="#000"/><path d="M525.3,103.6L527.2,106.6" stroke="#000" stroke-width="1.6"/><path d="M529.1,109.6L525.8,107.5L528.6,105.7Z" fill="#000"/><path d="M179.7,117.8L181.5,118.0" stroke="#000" stroke-width="1.6"/><path d="M183.3,118.1L181.4,118.8L181.6,117.1Z" fill="#000"/><path d="M192.5,113.6L193.7,116.3" stroke="#000" stroke-width="1.6"/><path d="M194.8,118.9L192.4,116.8L194.9,115.7Z" fill="#000"/><path d="M201.9,111.9L203.1,115.4" stroke="#000" stroke-width="1.6"/><path d="M204.3,118.8L201.4,115.9L204.7,114.8Z" fill="#000"/><path d="M213.5,113.5L214.7,117.0" stroke="#000" stroke-width="1.6"/><path d="M216.0,120.4L213.1,117.5L216.4,116.4Z" fill="#000"/><path d="M226.5,114.9L227.0,116.4" stroke="#000" stroke-width="1.6"/><path d="M227.5,117.9L226.2,116.6L227.7,116.1Z" fill="#000"/><path d="M237.4,114.5L238.1,117.4" stroke="#000" stroke-width="1.6"/><path d="M238.7,120.3L236.7,117.8L239.4,117.1Z" fill="#000"/><path d="M255.8,114.7L258.9,115.5" stroke="#000" stroke-width="1.6"/><path d="M262.0,116.2L258.5,116.9L259.3,114.0Z" fill="#000"/><path d="M266.9,114.4L270.3,115.1" stroke="#000" stroke-width="1.6"/><path d="M273.6,115.8L269.9,116.7L270.6,113.5Z" fill="#000"/><path d="M277.6,114.8L280.9,115.5" stroke="#000" stroke-width="1.6"/><path d="M284.2,116.2L280.6,117.1L281.2,113.9Z" fill="#000"/><path d="M288.5,115.0L291.9,115.5" stroke="#000" stroke-width="1.6"/><path d="M295.4,116.1L291.6,117.2L292.2,113.9Z" fill="#000"/><path d="M298.6,115.3L301.5,116.3" stroke="#000" stroke-width="1.6"/><path d="M304.5,117.2L301.1,117.7L302.0,114.8Z" fill="#000"/><path d="M354.7,116.9L357.4,117.1" stroke="#000" stroke-width="1.6"/><path d="M360.1,117.4L357.3,118.4L357.5,115.8Z" fill="#000"/><path d="M367.8,114.9L369.9,115.0" stroke="#000" stroke-width="1.6"/><path d="M371.9,115.2L369.8,116.0L369.9,114.0Z" fill="#000"/></g><rect x="519.5" y="37" width="17.5" height="22" fill="#fff" stroke="#555" stroke-width="0.8"/><text x="528.5" y="46" font-size="8" text-anchor="middle">.5</text><path d="M521.5,52.5L531.0,52.5" stroke="#000" stroke-width="1.6"/><path d="M535.0,52.5L531.0,54.4L531.0,50.6Z" fill="#000"/><g fill="#a060e0"><circle cx="63.1" cy="224.5" r="1.0"/><circle cx="70.1" cy="224.5" r="1.0"/><circle cx="77.1" cy="224.5" r="1.0"/><circle cx="84.1" cy="224.5" r="1.0"/><circle cx="45.6" cy="228.0" r="1.0"/><circle cx="52.6" cy="228.0" r="1.0"/><circle cx="59.6" cy="228.0" r="1.0"/><circle cx="66.6" cy="228.0" r="1.0"/><circle cx="73.6" cy="228.0" r="1.0"/><circle cx="80.6" cy="228.0" r="1.0"/><circle cx="87.6" cy="228.0" r="1.0"/><circle cx="94.6" cy="228.0" r="1.0"/><circle cx="101.6" cy="228.0" r="1.0"/><circle cx="35.1" cy="231.5" r="1.0"/><circle cx="42.1" cy="231.5" r="1.0"/><circle cx="49.1" cy="231.5" r="1.0"/><circle cx="56.1" cy="231.5" r="1.0"/><circle cx="63.1" cy="231.5" r="1.0"/><circle cx="70.1" cy="231.5" r="1.0"/><circle cx="77.1" cy="231.5" r="1.0"/><circle cx="84.1" cy="231.5" r="1.0"/><circle cx="91.1" cy="231.5" r="1.0"/><circle cx="98.1" cy="231.5" r="1.0"/><circle cx="105.1" cy="231.5" r="1.0"/><circle cx="112.1" cy="231.5" r="1.0"/><circle cx="31.6" cy="235.0" r="1.0"/><circle cx="38.6" cy="235.0" r="1.0"/><circle cx="45.6" cy="235.0" r="1.0"/><circle cx="52.6" cy="235.0" r="1.0"/><circle cx="59.6" cy="235.0" r="1.0"/><circle cx="66.6" cy="235.0" r="1.0"/><circle cx="73.6" cy="235.0" r="1.0"/><circle cx="80.6" cy="235.0" r="1.0"/><circle cx="87.6" cy="235.0" r="1.0"/><circle cx="94.6" cy="235.0" r="1.0"/><circle cx="101.6" cy="235.0" r="1.0"/><circle cx="108.6" cy="235.0" r="1.0"/><circle cx="115.6" cy="235.0" r="1.0"/><circle cx="122.6" cy="235.0" r="1.0"/><circle cx="28.1" cy="238.5" r="1.0"/><circle cx="35.1" cy="238.5" r="1.0"/><circle cx="42.1" cy="238.5" r="1.0"/><circle cx="49.1" cy="238.5" r="1.0"/><circle cx="56.1" cy="238.5" r="1.0"/><circle cx="63.1" cy="238.5" r="1.0"/><circle cx="70.1" cy="238.5" r="1.0"/><circle cx="77.1" cy="238.5" r="1.0"/><circle cx="84.1" cy="238.5" r="1.0"/><circle cx="91.1" cy="238.5" r="1.0"/><circle cx="98.1" cy="238.5" r="1.0"/><circle cx="105.1" cy="238.5" r="1.0"/><circle cx="112.1" cy="238.5" r="1.0"/><circle cx="119.1" cy="238.5" r="1.0"/><circle cx="126.1" cy="238.5" r="1.0"/><circle cx="31.6" cy="242.0" r="1.0"/><circle cx="38.6" cy="242.0" r="1.0"/><circle cx="45.6" cy="242.0" r="1.0"/><circle cx="52.6" cy="242.0" r="1.0"/><circle cx="59.6" cy="242.0" r="1.0"/><circle cx="66.6" cy="242.0" r="1.0"/><circle cx="73.6" cy="242.0" r="1.0"/><circle cx="80.6" cy="242.0" r="1.0"/><circle cx="87.6" cy="242.0" r="1.0"/><circle cx="94.6" cy="242.0" r="1.0"/><circle cx="101.6" cy="242.0" r="1.0"/><circle cx="108.6" cy="242.0" r="1.0"/><circle cx="115.6" cy="242.0" r="1.0"/><circle cx="122.6" cy="242.0" r="1.0"/><circle cx="129.6" cy="242.0" r="1.0"/><circle cx="28.1" cy="245.5" r="1.0"/><circle cx="35.1" cy="245.5" r="1.0"/><circle cx="42.1" cy="245.5" r="1.0"/><circle cx="49.1" cy="245.5" r="1.0"/><circle cx="56.1" cy="245.5" r="1.0"/><circle cx="63.1" cy="245.5" r="1.0"/><circle cx="70.1" cy="245.5" r="1.0"/><circle cx="77.1" cy="245.5" r="1.0"/><circle cx="84.1" cy="245.5" r="1.0"/><circle cx="91.1" cy="245.5" r="1.0"/><circle cx="98.1" cy="245.5" r="1.0"/><circle cx="105.1" cy="245.5" r="1.0"/><circle cx="112.1" cy="245.5" r="1.0"/><circle cx="119.1" cy="245.5" r="1.0"/><circle cx="126.1" cy="245.5" r="1.0"/><circle cx="133.1" cy="245.5" r="1.0"/><circle cx="31.6" cy="249.0" r="1.0"/><circle cx="38.6" cy="249.0" r="1.0"/><circle cx="45.6" cy="249.0" r="1.0"/><circle cx="52.6" cy="249.0" r="1.0"/><circle cx="59.6" cy="249.0" r="1.0"/><circle cx="66.6" cy="249.0" r="1.0"/><circle cx="73.6" cy="249.0" r="1.0"/><circle cx="80.6" cy="249.0" r="1.0"/><circle cx="87.6" cy="249.0" r="1.0"/><circle cx="94.6" cy="249.0" r="1.0"/><circle cx="101.6" cy="249.0" r="1.0"/><circle cx="108.6" cy="249.0" r="1.0"/><circle cx="115.6" cy="249.0" r="1.0"/><circle cx="122.6" cy="249.0" r="1.0"/><circle cx="129.6" cy="249.0" r="1.0"/><circle cx="28.1" cy="252.5" r="1.0"/><circle cx="35.1" cy="252.5" r="1.0"/><circle cx="42.1" cy="252.5" r="1.0"/><circle cx="49.1" cy="252.5" r="1.0"/><circle cx="56.1" cy="252.5" r="1.0"/><circle cx="63.1" cy="252.5" r="1.0"/><circle cx="70.1" cy="252.5" r="1.0"/><circle cx="77.1" cy="252.5" r="1.0"/><circle cx="84.1" cy="252.5" r="1.0"/><circle cx="91.1" cy="252.5" r="1.0"/><circle cx="98.1" cy="252.5" r="1.0"/><circle cx="105.1" cy="252.5" r="1.0"/><circle cx="112.1" cy="252.5" r="1.0"/><circle cx="119.1" cy="252.5" r="1.0"/><circle cx="126.1" cy="252.5" r="1.0"/><circle cx="133.1" cy="252.5" r="1.0"/><circle cx="140.1" cy="252.5" r="1.0"/><circle cx="147.1" cy="252.5" r="1.0"/><circle cx="31.6" cy="256.0" r="1.0"/><circle cx="38.6" cy="256.0" r="1.0"/><circle cx="45.6" cy="256.0" r="1.0"/><circle cx="52.6" cy="256.0" r="1.0"/><circle cx="59.6" cy="256.0" r="1.0"/><circle cx="66.6" cy="256.0" r="1.0"/><circle cx="73.6" cy="256.0" r="1.0"/><circle cx="80.6" cy="256.0" r="1.0"/><circle cx="87.6" cy="256.0" r="1.0"/><circle cx="94.6" cy="256.0" r="1.0"/><circle cx="101.6" cy="256.0" r="1.0"/><circle cx="108.6" cy="256.0" r="1.0"/><circle cx="115.6" cy="256.0" r="1.0"/><circle cx="122.6" cy="256.0" r="1.0"/><circle cx="129.6" cy="256.0" r="1.0"/><circle cx="136.6" cy="256.0" r="1.0"/><circle cx="143.6" cy="256.0" r="1.0"/><circle cx="150.6" cy="256.0" r="1.0"/><circle cx="157.6" cy="256.0" r="1.0"/><circle cx="28.1" cy="259.5" r="1.0"/><circle cx="35.1" cy="259.5" r="1.0"/><circle cx="42.1" cy="259.5" r="1.0"/><circle cx="49.1" cy="259.5" r="1.0"/><circle cx="56.1" cy="259.5" r="1.0"/><circle cx="63.1" cy="259.5" r="1.0"/><circle cx="70.1" cy="259.5" r="1.0"/><circle cx="77.1" cy="259.5" r="1.0"/><circle cx="84.1" cy="259.5" r="1.0"/><circle cx="91.1" cy="259.5" r="1.0"/><circle cx="98.1" cy="259.5" r="1.0"/><circle cx="105.1" cy="259.5" r="1.0"/><circle cx="112.1" cy="259.5" r="1.0"/><circle cx="119.1" cy="259.5" r="1.0"/><circle cx="126.1" cy="259.5" r="1.0"/><circle cx="133.1" cy="259.5" r="1.0"/><circle cx="140.1" cy="259.5" r="1.0"/><circle cx="147.1" cy="259.5" r="1.0"/><circle cx="154.1" cy="259.5" r="1.0"/><circle cx="161.1" cy="259.5" r="1.0"/><circle cx="31.6" cy="263.0" r="1.0"/><circle cx="38.6" cy="263.0" r="1.0"/><circle cx="45.6" cy="263.0" r="1.0"/><circle cx="52.6" cy="263.0" r="1.0"/><circle cx="59.6" cy="263.0" r="1.0"/><circle cx="66.6" cy="263.0" r="1.0"/><circle cx="73.6" cy="263.0" r="1.0"/><circle cx="80.6" cy="263.0" r="1.0"/><circle cx="87.6" cy="263.0" r="1.0"/><circle cx="94.6" cy="263.0" r="1.0"/><circle cx="101.6" cy="263.0" r="1.0"/><circle cx="108.6" cy="263.0" r="1.0"/><circle cx="115.6" cy="263.0" r="1.0"/><circle cx="122.6" cy="263.0" r="1.0"/><circle cx="129.6" cy="263.0" r="1.0"/><circle cx="136.6" cy="263.0" r="1.0"/><circle cx="143.6" cy="263.0" r="1.0"/><circle cx="150.6" cy="263.0" r="1.0"/><circle cx="157.6" cy="263.0" r="1.0"/><circle cx="164.6" cy="263.0" r="1.0"/><circle cx="42.1" cy="266.5" r="1.0"/><circle cx="49.1" cy="266.5" r="1.0"/><circle cx="56.1" cy="266.5" r="1.0"/><circle cx="63.1" cy="266.5" r="1.0"/><circle cx="70.1" cy="266.5" r="1.0"/><circle cx="77.1" cy="266.5" r="1.0"/><circle cx="84.1" cy="266.5" r="1.0"/><circle cx="91.1" cy="266.5" r="1.0"/><circle cx="98.1" cy="266.5" r="1.0"/><circle cx="105.1" cy="266.5" r="1.0"/><circle cx="112.1" cy="266.5" r="1.0"/><circle cx="119.1" cy="266.5" r="1.0"/><circle cx="126.1" cy="266.5" r="1.0"/><circle cx="133.1" cy="266.5" r="1.0"/><circle cx="140.1" cy="266.5" r="1.0"/><circle cx="147.1" cy="266.5" r="1.0"/><circle cx="154.1" cy="266.5" r="1.0"/><circle cx="161.1" cy="266.5" r="1.0"/><circle cx="52.6" cy="270.0" r="1.0"/><circle cx="59.6" cy="270.0" r="1.0"/><circle cx="66.6" cy="270.0" r="1.0"/><circle cx="73.6" cy="270.0" r="1.0"/><circle cx="80.6" cy="270.0" r="1.0"/><circle cx="87.6" cy="270.0" r="1.0"/><circle cx="94.6" cy="270.0" r="1.0"/><circle cx="108.6" cy="270.0" r="1.0"/><circle cx="115.6" cy="270.0" r="1.0"/><circle cx="122.6" cy="270.0" r="1.0"/><circle cx="129.6" cy="270.0" r="1.0"/><circle cx="136.6" cy="270.0" r="1.0"/><circle cx="143.6" cy="270.0" r="1.0"/><circle cx="150.6" cy="270.0" r="1.0"/><circle cx="126.1" cy="273.5" r="1.0"/><circle cx="133.1" cy="273.5" r="1.0"/><circle cx="140.1" cy="273.5" r="1.0"/></g><g fill="#9070e8"><circle cx="518.0" cy="215.8" r="1.0"/><circle cx="525.0" cy="215.8" r="1.0"/><circle cx="532.0" cy="215.8" r="1.0"/><circle cx="472.5" cy="219.5" r="1.0"/><circle cx="521.5" cy="219.5" r="1.0"/><circle cx="528.5" cy="219.5" r="1.0"/><circle cx="612.5" cy="219.5" r="1.0"/><circle cx="619.5" cy="219.5" r="1.0"/><circle cx="626.5" cy="219.5" r="1.0"/><circle cx="633.5" cy="219.5" r="1.0"/><circle cx="640.5" cy="219.5" r="1.0"/><circle cx="399.0" cy="223.2" r="1.0"/><circle cx="406.0" cy="223.2" r="1.0"/><circle cx="448.0" cy="223.2" r="1.0"/><circle cx="455.0" cy="223.2" r="1.0"/><circle cx="469.0" cy="223.2" r="1.0"/><circle cx="476.0" cy="223.2" r="1.0"/><circle cx="483.0" cy="223.2" r="1.0"/><circle cx="602.0" cy="223.2" r="1.0"/><circle cx="609.0" cy="223.2" r="1.0"/><circle cx="616.0" cy="223.2" r="1.0"/><circle cx="623.0" cy="223.2" r="1.0"/><circle cx="630.0" cy="223.2" r="1.0"/><circle cx="637.0" cy="223.2" r="1.0"/><circle cx="644.0" cy="223.2" r="1.0"/><circle cx="395.5" cy="226.9" r="1.0"/><circle cx="402.5" cy="226.9" r="1.0"/><circle cx="409.5" cy="226.9" r="1.0"/><circle cx="444.5" cy="226.9" r="1.0"/><circle cx="451.5" cy="226.9" r="1.0"/><circle cx="465.5" cy="226.9" r="1.0"/><circle cx="472.5" cy="226.9" r="1.0"/><circle cx="479.5" cy="226.9" r="1.0"/><circle cx="521.5" cy="226.9" r="1.0"/><circle cx="605.5" cy="226.9" r="1.0"/><circle cx="612.5" cy="226.9" r="1.0"/><circle cx="619.5" cy="226.9" r="1.0"/><circle cx="626.5" cy="226.9" r="1.0"/><circle cx="633.5" cy="226.9" r="1.0"/><circle cx="640.5" cy="226.9" r="1.0"/><circle cx="647.5" cy="226.9" r="1.0"/><circle cx="392.0" cy="230.6" r="1.0"/><circle cx="399.0" cy="230.6" r="1.0"/><circle cx="406.0" cy="230.6" r="1.0"/><circle cx="413.0" cy="230.6" r="1.0"/><circle cx="469.0" cy="230.6" r="1.0"/><circle cx="476.0" cy="230.6" r="1.0"/><circle cx="483.0" cy="230.6" r="1.0"/><circle cx="518.0" cy="230.6" r="1.0"/><circle cx="525.0" cy="230.6" r="1.0"/><circle cx="609.0" cy="230.6" r="1.0"/><circle cx="616.0" cy="230.6" r="1.0"/><circle cx="623.0" cy="230.6" r="1.0"/><circle cx="630.0" cy="230.6" r="1.0"/><circle cx="637.0" cy="230.6" r="1.0"/><circle cx="644.0" cy="230.6" r="1.0"/><circle cx="395.5" cy="234.3" r="1.0"/><circle cx="402.5" cy="234.3" r="1.0"/><circle cx="409.5" cy="234.3" r="1.0"/><circle cx="416.5" cy="234.3" r="1.0"/><circle cx="465.5" cy="234.3" r="1.0"/><circle cx="472.5" cy="234.3" r="1.0"/><circle cx="479.5" cy="234.3" r="1.0"/><circle cx="556.5" cy="234.3" r="1.0"/><circle cx="563.5" cy="234.3" r="1.0"/><circle cx="619.5" cy="234.3" r="1.0"/><circle cx="626.5" cy="234.3" r="1.0"/><circle cx="633.5" cy="234.3" r="1.0"/><circle cx="392.0" cy="238.0" r="1.0"/><circle cx="399.0" cy="238.0" r="1.0"/><circle cx="406.0" cy="238.0" r="1.0"/><circle cx="413.0" cy="238.0" r="1.0"/><circle cx="420.0" cy="238.0" r="1.0"/><circle cx="469.0" cy="238.0" r="1.0"/><circle cx="476.0" cy="238.0" r="1.0"/><circle cx="539.0" cy="238.0" r="1.0"/><circle cx="546.0" cy="238.0" r="1.0"/><circle cx="553.0" cy="238.0" r="1.0"/><circle cx="560.0" cy="238.0" r="1.0"/><circle cx="567.0" cy="238.0" r="1.0"/><circle cx="574.0" cy="238.0" r="1.0"/><circle cx="581.0" cy="238.0" r="1.0"/><circle cx="395.5" cy="241.7" r="1.0"/><circle cx="402.5" cy="241.7" r="1.0"/><circle cx="409.5" cy="241.7" r="1.0"/><circle cx="416.5" cy="241.7" r="1.0"/><circle cx="472.5" cy="241.7" r="1.0"/><circle cx="493.5" cy="241.7" r="1.0"/><circle cx="500.5" cy="241.7" r="1.0"/><circle cx="507.5" cy="241.7" r="1.0"/><circle cx="514.5" cy="241.7" r="1.0"/><circle cx="535.5" cy="241.7" r="1.0"/><circle cx="542.5" cy="241.7" r="1.0"/><circle cx="549.5" cy="241.7" r="1.0"/><circle cx="556.5" cy="241.7" r="1.0"/><circle cx="563.5" cy="241.7" r="1.0"/><circle cx="570.5" cy="241.7" r="1.0"/><circle cx="577.5" cy="241.7" r="1.0"/><circle cx="584.5" cy="241.7" r="1.0"/><circle cx="392.0" cy="245.4" r="1.0"/><circle cx="399.0" cy="245.4" r="1.0"/><circle cx="406.0" cy="245.4" r="1.0"/><circle cx="413.0" cy="245.4" r="1.0"/><circle cx="490.0" cy="245.4" r="1.0"/><circle cx="497.0" cy="245.4" r="1.0"/><circle cx="504.0" cy="245.4" r="1.0"/><circle cx="511.0" cy="245.4" r="1.0"/><circle cx="546.0" cy="245.4" r="1.0"/><circle cx="553.0" cy="245.4" r="1.0"/><circle cx="560.0" cy="245.4" r="1.0"/><circle cx="567.0" cy="245.4" r="1.0"/><circle cx="574.0" cy="245.4" r="1.0"/><circle cx="395.5" cy="249.1" r="1.0"/><circle cx="402.5" cy="249.1" r="1.0"/><circle cx="409.5" cy="249.1" r="1.0"/><circle cx="500.5" cy="249.1" r="1.0"/><circle cx="507.5" cy="249.1" r="1.0"/><circle cx="399.0" cy="252.8" r="1.0"/><circle cx="406.0" cy="252.8" r="1.0"/><circle cx="542.5" cy="286.1" r="1.0"/><circle cx="549.5" cy="286.1" r="1.0"/><circle cx="591.5" cy="286.1" r="1.0"/><circle cx="647.5" cy="286.1" r="1.0"/><circle cx="654.5" cy="286.1" r="1.0"/><circle cx="661.5" cy="286.1" r="1.0"/><circle cx="668.5" cy="286.1" r="1.0"/><circle cx="518.0" cy="289.8" r="1.0"/><circle cx="525.0" cy="289.8" r="1.0"/><circle cx="532.0" cy="289.8" r="1.0"/><circle cx="539.0" cy="289.8" r="1.0"/><circle cx="546.0" cy="289.8" r="1.0"/><circle cx="553.0" cy="289.8" r="1.0"/><circle cx="560.0" cy="289.8" r="1.0"/><circle cx="567.0" cy="289.8" r="1.0"/><circle cx="574.0" cy="289.8" r="1.0"/><circle cx="581.0" cy="289.8" r="1.0"/><circle cx="588.0" cy="289.8" r="1.0"/><circle cx="595.0" cy="289.8" r="1.0"/><circle cx="602.0" cy="289.8" r="1.0"/><circle cx="507.5" cy="293.5" r="1.0"/><circle cx="514.5" cy="293.5" r="1.0"/><circle cx="521.5" cy="293.5" r="1.0"/><circle cx="528.5" cy="293.5" r="1.0"/><circle cx="535.5" cy="293.5" r="1.0"/><circle cx="542.5" cy="293.5" r="1.0"/><circle cx="549.5" cy="293.5" r="1.0"/><circle cx="556.5" cy="293.5" r="1.0"/><circle cx="563.5" cy="293.5" r="1.0"/><circle cx="570.5" cy="293.5" r="1.0"/><circle cx="577.5" cy="293.5" r="1.0"/><circle cx="584.5" cy="293.5" r="1.0"/><circle cx="591.5" cy="293.5" r="1.0"/><circle cx="598.5" cy="293.5" r="1.0"/><circle cx="640.5" cy="293.5" r="1.0"/><circle cx="647.5" cy="293.5" r="1.0"/><circle cx="654.5" cy="293.5" r="1.0"/><circle cx="661.5" cy="293.5" r="1.0"/><circle cx="668.5" cy="293.5" r="1.0"/><circle cx="511.0" cy="297.2" r="1.0"/><circle cx="518.0" cy="297.2" r="1.0"/><circle cx="525.0" cy="297.2" r="1.0"/><circle cx="532.0" cy="297.2" r="1.0"/><circle cx="539.0" cy="297.2" r="1.0"/><circle cx="546.0" cy="297.2" r="1.0"/><circle cx="553.0" cy="297.2" r="1.0"/><circle cx="560.0" cy="297.2" r="1.0"/><circle cx="567.0" cy="297.2" r="1.0"/><circle cx="574.0" cy="297.2" r="1.0"/><circle cx="581.0" cy="297.2" r="1.0"/><circle cx="588.0" cy="297.2" r="1.0"/><circle cx="595.0" cy="297.2" r="1.0"/><circle cx="602.0" cy="297.2" r="1.0"/><circle cx="644.0" cy="297.2" r="1.0"/><circle cx="651.0" cy="297.2" r="1.0"/><circle cx="658.0" cy="297.2" r="1.0"/><circle cx="665.0" cy="297.2" r="1.0"/><circle cx="672.0" cy="297.2" r="1.0"/><circle cx="409.5" cy="300.9" r="1.0"/><circle cx="416.5" cy="300.9" r="1.0"/><circle cx="423.5" cy="300.9" r="1.0"/><circle cx="430.5" cy="300.9" r="1.0"/><circle cx="465.5" cy="300.9" r="1.0"/><circle cx="472.5" cy="300.9" r="1.0"/><circle cx="479.5" cy="300.9" r="1.0"/><circle cx="521.5" cy="300.9" r="1.0"/><circle cx="528.5" cy="300.9" r="1.0"/><circle cx="535.5" cy="300.9" r="1.0"/><circle cx="542.5" cy="300.9" r="1.0"/><circle cx="549.5" cy="300.9" r="1.0"/><circle cx="556.5" cy="300.9" r="1.0"/><circle cx="563.5" cy="300.9" r="1.0"/><circle cx="570.5" cy="300.9" r="1.0"/><circle cx="654.5" cy="300.9" r="1.0"/><circle cx="392.0" cy="304.6" r="1.0"/><circle cx="399.0" cy="304.6" r="1.0"/><circle cx="406.0" cy="304.6" r="1.0"/><circle cx="413.0" cy="304.6" r="1.0"/><circle cx="420.0" cy="304.6" r="1.0"/><circle cx="427.0" cy="304.6" r="1.0"/><circle cx="434.0" cy="304.6" r="1.0"/><circle cx="441.0" cy="304.6" r="1.0"/><circle cx="448.0" cy="304.6" r="1.0"/><circle cx="462.0" cy="304.6" r="1.0"/><circle cx="469.0" cy="304.6" r="1.0"/><circle cx="476.0" cy="304.6" r="1.0"/><circle cx="483.0" cy="304.6" r="1.0"/><circle cx="395.5" cy="308.3" r="1.0"/><circle cx="402.5" cy="308.3" r="1.0"/><circle cx="409.5" cy="308.3" r="1.0"/><circle cx="416.5" cy="308.3" r="1.0"/><circle cx="423.5" cy="308.3" r="1.0"/><circle cx="430.5" cy="308.3" r="1.0"/><circle cx="437.5" cy="308.3" r="1.0"/><circle cx="444.5" cy="308.3" r="1.0"/><circle cx="451.5" cy="308.3" r="1.0"/><circle cx="399.0" cy="312.0" r="1.0"/><circle cx="406.0" cy="312.0" r="1.0"/><circle cx="413.0" cy="312.0" r="1.0"/><circle cx="420.0" cy="312.0" r="1.0"/><circle cx="427.0" cy="312.0" r="1.0"/><circle cx="434.0" cy="312.0" r="1.0"/><circle cx="441.0" cy="312.0" r="1.0"/></g><g clip-path="url(#clipb)"><path d="M34.9,216.8L30.1,216.5" stroke="#000" stroke-width="1.6"/><path d="M26.1,216.2L30.2,214.5L29.9,218.4Z" fill="#000"/><path d="M45.5,216.0L38.9,215.6" stroke="#000" stroke-width="1.6"/><path d="M34.9,215.3L39.0,213.7L38.8,217.5Z" fill="#000"/><path d="M54.9,216.3L48.5,215.7" stroke="#000" stroke-width="1.6"/><path d="M44.5,215.4L48.7,213.8L48.3,217.6Z" fill="#000"/><path d="M67.5,215.5L57.5,215.2" stroke="#000" stroke-width="1.6"/><path d="M53.5,215.0L57.5,213.2L57.4,217.1Z" fill="#000"/><path d="M74.6,217.3L69.6,216.7" stroke="#000" stroke-width="1.6"/><path d="M65.6,216.3L69.8,214.8L69.3,218.6Z" fill="#000"/><path d="M85.5,216.6L80.9,215.5" stroke="#000" stroke-width="1.6"/><path d="M77.0,214.5L81.4,213.6L80.5,217.4Z" fill="#000"/><path d="M94.5,218.1L91.1,216.8" stroke="#000" stroke-width="1.6"/><path d="M87.7,215.4L91.8,215.1L90.4,218.4Z" fill="#000"/><path d="M104.9,218.2L102.0,216.6" stroke="#000" stroke-width="1.6"/><path d="M99.1,214.9L102.8,215.2L101.3,217.9Z" fill="#000"/><path d="M114.0,217.5L111.4,216.0" stroke="#000" stroke-width="1.6"/><path d="M108.9,214.5L112.2,214.8L110.7,217.2Z" fill="#000"/><path d="M124.6,216.7L122.1,215.3" stroke="#000" stroke-width="1.6"/><path d="M119.5,213.9L122.8,214.1L121.4,216.5Z" fill="#000"/><path d="M264.1,213.7L264.6,215.6" stroke="#000" stroke-width="1.6"/><path d="M265.1,217.5L263.7,215.8L265.5,215.3Z" fill="#000"/><path d="M272.9,214.8L274.0,216.7" stroke="#000" stroke-width="1.6"/><path d="M275.1,218.6L273.1,217.2L274.9,216.2Z" fill="#000"/><path d="M282.7,215.0L284.3,216.6" stroke="#000" stroke-width="1.6"/><path d="M286.0,218.1L283.6,217.3L285.1,215.8Z" fill="#000"/><path d="M293.0,218.2L295.0,216.7" stroke="#000" stroke-width="1.6"/><path d="M297.0,215.2L295.7,217.7L294.3,215.8Z" fill="#000"/><path d="M302.8,217.3L305.2,216.7" stroke="#000" stroke-width="1.6"/><path d="M307.7,216.1L305.5,217.9L304.9,215.5Z" fill="#000"/><path d="M34.3,223.9L29.9,223.5" stroke="#000" stroke-width="1.6"/><path d="M25.9,223.1L30.1,221.6L29.7,225.4Z" fill="#000"/><path d="M44.7,224.7L40.5,224.2" stroke="#000" stroke-width="1.6"/><path d="M36.5,223.7L40.7,222.3L40.2,226.1Z" fill="#000"/><path d="M55.3,224.4L50.1,223.8" stroke="#000" stroke-width="1.6"/><path d="M46.1,223.3L50.3,221.9L49.9,225.7Z" fill="#000"/><path d="M64.7,224.7L59.6,224.1" stroke="#000" stroke-width="1.6"/><path d="M55.6,223.6L59.8,222.2L59.4,226.0Z" fill="#000"/><path d="M74.3,225.0L69.9,224.2" stroke="#000" stroke-width="1.6"/><path d="M66.0,223.4L70.3,222.3L69.6,226.0Z" fill="#000"/><path d="M85.1,224.9L81.2,223.7" stroke="#000" stroke-width="1.6"/><path d="M77.4,222.5L81.7,221.9L80.6,225.5Z" fill="#000"/><path d="M95.0,224.9L91.7,223.4" stroke="#000" stroke-width="1.6"/><path d="M88.4,221.9L92.4,221.8L91.0,225.0Z" fill="#000"/><path d="M104.2,226.4L101.2,224.4" stroke="#000" stroke-width="1.6"/><path d="M98.2,222.4L102.2,222.9L100.3,225.8Z" fill="#000"/><path d="M113.9,225.7L111.4,224.2" stroke="#000" stroke-width="1.6"/><path d="M108.9,222.7L112.1,223.0L110.7,225.4Z" fill="#000"/><path d="M124.8,226.1L122.0,224.6" stroke="#000" stroke-width="1.6"/><path d="M119.1,223.1L122.7,223.2L121.3,226.0Z" fill="#000"/><path d="M135.7,225.4L132.8,224.3" stroke="#000" stroke-width="1.6"/><path d="M129.9,223.2L133.3,222.8L132.3,225.7Z" fill="#000"/><path d="M145.5,224.2L142.7,223.3" stroke="#000" stroke-width="1.6"/><path d="M139.8,222.5L143.1,222.0L142.3,224.7Z" fill="#000"/><path d="M263.9,222.1L264.0,223.9" stroke="#000" stroke-width="1.6"/><path d="M264.2,225.7L263.2,224.0L264.9,223.9Z" fill="#000"/><path d="M272.9,222.6L274.4,223.9" stroke="#000" stroke-width="1.6"/><path d="M275.9,225.2L273.8,224.6L275.0,223.2Z" fill="#000"/><path d="M282.1,222.8L285.1,223.3" stroke="#000" stroke-width="1.6"/><path d="M288.1,223.7L284.9,224.7L285.3,221.8Z" fill="#000"/><path d="M292.6,223.8L295.8,223.5" stroke="#000" stroke-width="1.6"/><path d="M298.9,223.3L295.9,225.1L295.6,222.0Z" fill="#000"/><path d="M302.0,223.4L305.3,223.2" stroke="#000" stroke-width="1.6"/><path d="M308.6,223.0L305.4,224.8L305.2,221.6Z" fill="#000"/><path d="M32.4,232.1L29.2,231.3" stroke="#000" stroke-width="1.6"/><path d="M26.0,230.6L29.6,229.8L28.8,232.9Z" fill="#000"/><path d="M43.4,233.0L39.9,232.5" stroke="#000" stroke-width="1.6"/><path d="M36.4,232.0L40.2,230.8L39.7,234.2Z" fill="#000"/><path d="M54.9,232.7L51.0,231.8" stroke="#000" stroke-width="1.6"/><path d="M47.1,230.8L51.5,229.9L50.6,233.6Z" fill="#000"/><path d="M64.6,232.9L60.4,232.0" stroke="#000" stroke-width="1.6"/><path d="M56.5,231.2L60.8,230.2L60.0,233.9Z" fill="#000"/><path d="M74.9,232.9L71.4,231.5" stroke="#000" stroke-width="1.6"/><path d="M67.8,230.1L72.0,229.8L70.7,233.2Z" fill="#000"/><path d="M84.6,233.4L81.5,231.6" stroke="#000" stroke-width="1.6"/><path d="M78.3,229.9L82.3,230.1L80.6,233.1Z" fill="#000"/><path d="M94.3,234.0L91.4,232.2" stroke="#000" stroke-width="1.6"/><path d="M88.4,230.4L92.2,230.8L90.5,233.6Z" fill="#000"/><path d="M103.9,234.5L101.4,232.1" stroke="#000" stroke-width="1.6"/><path d="M98.9,229.7L102.6,230.9L100.2,233.3Z" fill="#000"/><path d="M114.5,232.8L111.9,231.0" stroke="#000" stroke-width="1.6"/><path d="M109.4,229.2L112.8,229.8L111.1,232.2Z" fill="#000"/><path d="M124.1,232.7L121.1,231.2" stroke="#000" stroke-width="1.6"/><path d="M118.1,229.7L121.8,229.8L120.3,232.7Z" fill="#000"/><path d="M135.0,232.3L131.5,231.3" stroke="#000" stroke-width="1.6"/><path d="M128.1,230.3L132.0,229.7L131.1,233.0Z" fill="#000"/><path d="M144.8,231.9L141.5,231.3" stroke="#000" stroke-width="1.6"/><path d="M138.1,230.8L141.8,229.7L141.2,233.0Z" fill="#000"/><path d="M155.7,233.0L152.6,232.4" stroke="#000" stroke-width="1.6"/><path d="M149.4,231.8L152.9,230.9L152.3,233.9Z" fill="#000"/><path d="M165.1,232.2L162.4,231.6" stroke="#000" stroke-width="1.6"/><path d="M159.6,230.9L162.7,230.3L162.0,232.9Z" fill="#000"/><path d="M272.2,231.6L274.0,231.9" stroke="#000" stroke-width="1.6"/><path d="M275.9,232.2L273.9,232.8L274.2,231.0Z" fill="#000"/><path d="M281.0,232.0L285.0,232.0" stroke="#000" stroke-width="1.6"/><path d="M288.9,232.0L285.0,233.9L285.0,230.1Z" fill="#000"/><path d="M291.8,231.9L295.6,231.8" stroke="#000" stroke-width="1.6"/><path d="M299.3,231.8L295.6,233.6L295.5,230.1Z" fill="#000"/><path d="M301.9,231.9L305.5,231.8" stroke="#000" stroke-width="1.6"/><path d="M309.1,231.7L305.5,233.5L305.5,230.0Z" fill="#000"/><path d="M32.7,240.6L30.2,239.3" stroke="#000" stroke-width="1.6"/><path d="M27.7,238.0L30.8,238.1L29.6,240.5Z" fill="#000"/><path d="M43.0,241.2L40.3,240.0" stroke="#000" stroke-width="1.6"/><path d="M37.5,238.7L40.9,238.7L39.7,241.3Z" fill="#000"/><path d="M52.9,242.3L49.9,240.5" stroke="#000" stroke-width="1.6"/><path d="M46.9,238.6L50.8,239.0L49.0,241.9Z" fill="#000"/><path d="M64.0,242.3L61.0,240.4" stroke="#000" stroke-width="1.6"/><path d="M58.0,238.5L61.9,239.0L60.1,241.9Z" fill="#000"/><path d="M73.7,241.3L70.5,239.6" stroke="#000" stroke-width="1.6"/><path d="M67.3,237.9L71.3,238.1L69.7,241.1Z" fill="#000"/><path d="M83.3,241.1L80.6,239.0" stroke="#000" stroke-width="1.6"/><path d="M78.0,236.9L81.6,237.7L79.6,240.2Z" fill="#000"/><path d="M93.0,241.4L90.4,239.3" stroke="#000" stroke-width="1.6"/><path d="M87.9,237.2L91.4,238.1L89.4,240.5Z" fill="#000"/><path d="M104.4,241.4L102.0,239.2" stroke="#000" stroke-width="1.6"/><path d="M99.6,236.9L103.0,238.0L100.9,240.3Z" fill="#000"/><path d="M114.4,241.3L111.9,239.3" stroke="#000" stroke-width="1.6"/><path d="M109.5,237.3L112.9,238.1L110.9,240.5Z" fill="#000"/><path d="M123.5,240.9L121.1,239.2" stroke="#000" stroke-width="1.6"/><path d="M118.7,237.5L121.9,238.1L120.3,240.3Z" fill="#000"/><path d="M135.3,240.8L132.3,239.7" stroke="#000" stroke-width="1.6"/><path d="M129.3,238.6L132.8,238.3L131.8,241.1Z" fill="#000"/><path d="M145.7,240.2L142.3,239.6" stroke="#000" stroke-width="1.6"/><path d="M138.9,239.1L142.5,238.0L142.0,241.2Z" fill="#000"/><path d="M155.5,240.2L152.0,239.7" stroke="#000" stroke-width="1.6"/><path d="M148.6,239.2L152.3,238.0L151.8,241.4Z" fill="#000"/><path d="M166.2,239.8L163.3,239.2" stroke="#000" stroke-width="1.6"/><path d="M160.3,238.7L163.5,237.8L163.0,240.6Z" fill="#000"/><path d="M175.7,240.0L173.2,239.3" stroke="#000" stroke-width="1.6"/><path d="M170.6,238.6L173.5,238.1L172.8,240.5Z" fill="#000"/><path d="M281.4,240.1L284.7,239.9" stroke="#000" stroke-width="1.6"/><path d="M288.0,239.7L284.8,241.5L284.6,238.3Z" fill="#000"/><path d="M291.9,239.3L295.2,239.1" stroke="#000" stroke-width="1.6"/><path d="M298.6,238.8L295.3,240.7L295.1,237.5Z" fill="#000"/><path d="M302.3,240.7L305.8,240.2" stroke="#000" stroke-width="1.6"/><path d="M309.3,239.7L306.1,241.9L305.6,238.5Z" fill="#000"/><path d="M31.9,249.0L30.0,247.4" stroke="#000" stroke-width="1.6"/><path d="M28.0,245.9L30.7,246.5L29.2,248.4Z" fill="#000"/><path d="M43.0,249.0L40.9,247.4" stroke="#000" stroke-width="1.6"/><path d="M38.8,245.8L41.7,246.4L40.1,248.4Z" fill="#000"/><path d="M53.7,249.5L51.0,247.5" stroke="#000" stroke-width="1.6"/><path d="M48.3,245.5L52.0,246.2L50.0,248.8Z" fill="#000"/><path d="M62.9,249.4L60.4,247.4" stroke="#000" stroke-width="1.6"/><path d="M57.9,245.4L61.4,246.2L59.4,248.6Z" fill="#000"/><path d="M72.5,249.3L70.1,247.2" stroke="#000" stroke-width="1.6"/><path d="M67.7,245.2L71.1,246.1L69.1,248.4Z" fill="#000"/><path d="M82.9,249.3L80.6,246.9" stroke="#000" stroke-width="1.6"/><path d="M78.3,244.5L81.7,245.8L79.4,248.0Z" fill="#000"/><path d="M93.1,249.6L91.3,247.5" stroke="#000" stroke-width="1.6"/><path d="M89.5,245.4L92.3,246.6L90.3,248.4Z" fill="#000"/><path d="M102.5,249.1L100.6,247.0" stroke="#000" stroke-width="1.6"/><path d="M98.8,245.0L101.6,246.2L99.7,247.9Z" fill="#000"/><path d="M114.7,249.4L112.3,247.0" stroke="#000" stroke-width="1.6"/><path d="M109.9,244.6L113.4,245.9L111.1,248.2Z" fill="#000"/><path d="M123.6,250.1L121.6,248.3" stroke="#000" stroke-width="1.6"/><path d="M119.6,246.5L122.5,247.4L120.7,249.3Z" fill="#000"/><path d="M133.5,249.0L131.4,247.5" stroke="#000" stroke-width="1.6"/><path d="M129.2,246.0L132.1,246.4L130.7,248.5Z" fill="#000"/><path d="M145.5,247.6L142.7,246.8" stroke="#000" stroke-width="1.6"/><path d="M139.9,246.1L143.1,245.5L142.3,248.2Z" fill="#000"/><path d="M154.6,248.9L151.7,248.3" stroke="#000" stroke-width="1.6"/><path d="M148.8,247.6L152.0,246.9L151.4,249.7Z" fill="#000"/><path d="M165.8,247.8L162.9,247.2" stroke="#000" stroke-width="1.6"/><path d="M160.0,246.7L163.2,245.8L162.6,248.6Z" fill="#000"/><path d="M175.4,247.9L172.8,247.2" stroke="#000" stroke-width="1.6"/><path d="M170.1,246.5L173.1,245.9L172.4,248.5Z" fill="#000"/><path d="M225.6,247.8L223.3,247.3" stroke="#000" stroke-width="1.6"/><path d="M221.0,246.9L223.5,246.2L223.1,248.5Z" fill="#000"/><path d="M235.9,247.8L233.9,247.4" stroke="#000" stroke-width="1.6"/><path d="M231.8,247.1L234.0,246.4L233.7,248.4Z" fill="#000"/><path d="M246.2,248.3L244.5,248.1" stroke="#000" stroke-width="1.6"/><path d="M242.8,247.8L244.6,247.2L244.4,248.9Z" fill="#000"/><path d="M303.7,247.4L304.8,247.3" stroke="#000" stroke-width="1.6"/><path d="M306.4,247.2L304.8,248.1L304.7,246.6Z" fill="#000"/><path d="M32.0,257.1L30.6,255.5" stroke="#000" stroke-width="1.6"/><path d="M29.3,253.9L31.4,254.9L29.9,256.1Z" fill="#000"/><path d="M42.3,256.7L40.9,254.9" stroke="#000" stroke-width="1.6"/><path d="M39.6,253.1L41.8,254.3L40.1,255.6Z" fill="#000"/><path d="M52.8,257.9L50.9,255.5" stroke="#000" stroke-width="1.6"/><path d="M48.9,253.1L52.0,254.5L49.7,256.4Z" fill="#000"/><path d="M62.2,257.8L60.6,256.1" stroke="#000" stroke-width="1.6"/><path d="M59.0,254.4L61.4,255.3L59.7,256.9Z" fill="#000"/><path d="M71.7,257.2L70.2,255.5" stroke="#000" stroke-width="1.6"/><path d="M68.7,253.8L71.0,254.8L69.4,256.3Z" fill="#000"/><path d="M82.0,257.2L80.6,255.2" stroke="#000" stroke-width="1.6"/><path d="M79.2,253.3L81.5,254.6L79.7,255.9Z" fill="#000"/><path d="M92.6,257.2L91.7,255.3" stroke="#000" stroke-width="1.6"/><path d="M90.9,253.4L92.6,254.9L90.8,255.7Z" fill="#000"/><path d="M102.6,256.4L101.9,254.7" stroke="#000" stroke-width="1.6"/><path d="M101.1,253.1L102.7,254.4L101.1,255.1Z" fill="#000"/><path d="M113.8,257.7L112.4,256.2" stroke="#000" stroke-width="1.6"/><path d="M111.0,254.7L113.1,255.5L111.7,256.9Z" fill="#000"/><path d="M124.0,256.5L122.1,255.0" stroke="#000" stroke-width="1.6"/><path d="M120.1,253.5L122.8,254.1L121.4,256.0Z" fill="#000"/><path d="M134.7,255.9L132.3,255.0" stroke="#000" stroke-width="1.6"/><path d="M129.8,254.1L132.7,253.8L131.8,256.2Z" fill="#000"/><path d="M144.6,255.5L142.0,254.8" stroke="#000" stroke-width="1.6"/><path d="M139.4,254.0L142.3,253.5L141.7,256.0Z" fill="#000"/><path d="M154.4,255.7L151.7,255.0" stroke="#000" stroke-width="1.6"/><path d="M149.1,254.2L152.1,253.7L151.3,256.2Z" fill="#000"/><path d="M164.8,256.9L162.1,256.0" stroke="#000" stroke-width="1.6"/><path d="M159.4,255.2L162.5,254.7L161.7,257.3Z" fill="#000"/><path d="M175.3,256.8L172.4,256.0" stroke="#000" stroke-width="1.6"/><path d="M169.5,255.3L172.7,254.6L172.0,257.4Z" fill="#000"/><path d="M185.2,255.5L182.2,254.8" stroke="#000" stroke-width="1.6"/><path d="M179.2,254.1L182.6,253.3L181.9,256.3Z" fill="#000"/><path d="M195.5,256.9L192.5,256.2" stroke="#000" stroke-width="1.6"/><path d="M189.5,255.5L192.8,254.7L192.2,257.6Z" fill="#000"/><path d="M206.8,255.4L203.9,254.7" stroke="#000" stroke-width="1.6"/><path d="M201.0,254.1L204.2,253.3L203.6,256.1Z" fill="#000"/><path d="M217.3,255.7L214.3,255.1" stroke="#000" stroke-width="1.6"/><path d="M211.3,254.5L214.6,253.6L214.0,256.5Z" fill="#000"/><path d="M226.6,256.2L223.4,255.6" stroke="#000" stroke-width="1.6"/><path d="M220.3,255.1L223.7,254.1L223.2,257.1Z" fill="#000"/><path d="M236.9,256.8L233.5,256.3" stroke="#000" stroke-width="1.6"/><path d="M230.1,255.8L233.8,254.6L233.3,257.9Z" fill="#000"/><path d="M247.8,256.1L244.0,255.6" stroke="#000" stroke-width="1.6"/><path d="M240.2,255.1L244.2,253.8L243.8,257.4Z" fill="#000"/><path d="M257.0,255.3L254.5,255.2" stroke="#000" stroke-width="1.6"/><path d="M252.0,255.0L254.6,254.0L254.5,256.3Z" fill="#000"/><path d="M267.3,256.3L265.0,256.3" stroke="#000" stroke-width="1.6"/><path d="M262.6,256.3L265.0,255.2L265.0,257.4Z" fill="#000"/><path d="M278.0,254.9L275.0,254.8" stroke="#000" stroke-width="1.6"/><path d="M271.9,254.8L275.0,253.4L274.9,256.3Z" fill="#000"/><path d="M288.2,255.8L285.5,255.8" stroke="#000" stroke-width="1.6"/><path d="M282.8,255.7L285.5,254.5L285.5,257.1Z" fill="#000"/><path d="M297.7,255.8L295.2,255.7" stroke="#000" stroke-width="1.6"/><path d="M292.7,255.7L295.2,254.5L295.2,257.0Z" fill="#000"/><path d="M308.4,255.2L305.0,255.2" stroke="#000" stroke-width="1.6"/><path d="M301.6,255.2L305.0,253.6L305.0,256.8Z" fill="#000"/><path d="M41.3,265.4L40.3,262.9" stroke="#000" stroke-width="1.6"/><path d="M39.3,260.4L41.5,262.4L39.1,263.4Z" fill="#000"/><path d="M50.6,265.2L50.2,264.3" stroke="#000" stroke-width="1.6"/><path d="M49.4,262.9L50.8,264.0L49.5,264.7Z" fill="#000"/><path d="M71.7,265.6L71.2,264.3" stroke="#000" stroke-width="1.6"/><path d="M70.5,262.8L71.9,264.0L70.4,264.6Z" fill="#000"/><path d="M81.8,265.1L81.7,264.2" stroke="#000" stroke-width="1.6"/><path d="M81.5,262.6L82.4,264.1L80.9,264.3Z" fill="#000"/><path d="M90.4,265.5L90.9,263.5" stroke="#000" stroke-width="1.6"/><path d="M91.4,261.5L91.9,263.8L90.0,263.3Z" fill="#000"/><path d="M100.7,264.2L101.5,262.7" stroke="#000" stroke-width="1.6"/><path d="M102.3,261.3L102.2,263.1L100.8,262.4Z" fill="#000"/><path d="M122.7,264.8L122.0,264.0" stroke="#000" stroke-width="1.6"/><path d="M121.0,262.8L122.6,263.5L121.4,264.5Z" fill="#000"/><path d="M133.8,263.6L131.3,262.9" stroke="#000" stroke-width="1.6"/><path d="M128.8,262.3L131.7,261.7L131.0,264.1Z" fill="#000"/><path d="M145.9,263.6L143.0,263.1" stroke="#000" stroke-width="1.6"/><path d="M140.0,262.6L143.2,261.7L142.7,264.5Z" fill="#000"/><path d="M154.9,263.7L152.0,262.7" stroke="#000" stroke-width="1.6"/><path d="M149.1,261.8L152.5,261.3L151.5,264.1Z" fill="#000"/><path d="M165.1,264.4L162.3,263.5" stroke="#000" stroke-width="1.6"/><path d="M159.5,262.6L162.7,262.2L161.9,264.8Z" fill="#000"/><path d="M175.5,263.6L172.1,263.1" stroke="#000" stroke-width="1.6"/><path d="M168.6,262.5L172.3,261.4L171.8,264.7Z" fill="#000"/><path d="M186.5,263.4L182.6,262.8" stroke="#000" stroke-width="1.6"/><path d="M178.7,262.3L182.9,261.0L182.4,264.7Z" fill="#000"/><path d="M196.9,264.8L193.7,264.1" stroke="#000" stroke-width="1.6"/><path d="M190.4,263.5L194.0,262.6L193.4,265.7Z" fill="#000"/><path d="M207.4,263.9L204.1,263.3" stroke="#000" stroke-width="1.6"/><path d="M200.7,262.7L204.3,261.7L203.8,264.9Z" fill="#000"/><path d="M216.8,263.7L212.9,263.2" stroke="#000" stroke-width="1.6"/><path d="M209.1,262.6L213.2,261.3L212.7,265.0Z" fill="#000"/><path d="M227.0,263.8L223.8,263.2" stroke="#000" stroke-width="1.6"/><path d="M220.7,262.7L224.1,261.7L223.6,264.7Z" fill="#000"/><path d="M237.3,264.3L234.4,263.8" stroke="#000" stroke-width="1.6"/><path d="M231.4,263.3L234.6,262.4L234.1,265.2Z" fill="#000"/><path d="M248.1,263.8L244.8,263.4" stroke="#000" stroke-width="1.6"/><path d="M241.5,262.9L245.1,261.8L244.6,264.9Z" fill="#000"/><path d="M256.3,264.4L254.0,264.1" stroke="#000" stroke-width="1.6"/><path d="M251.6,263.7L254.2,262.9L253.8,265.2Z" fill="#000"/><path d="M268.0,262.9L265.2,262.8" stroke="#000" stroke-width="1.6"/><path d="M262.5,262.8L265.2,261.5L265.2,264.1Z" fill="#000"/><path d="M278.2,263.7L274.3,263.7" stroke="#000" stroke-width="1.6"/><path d="M270.4,263.6L274.3,261.8L274.3,265.5Z" fill="#000"/><path d="M288.6,264.2L285.5,264.1" stroke="#000" stroke-width="1.6"/><path d="M282.4,264.1L285.5,262.7L285.5,265.6Z" fill="#000"/><path d="M297.6,262.9L294.4,262.9" stroke="#000" stroke-width="1.6"/><path d="M291.3,262.9L294.4,261.4L294.4,264.4Z" fill="#000"/><path d="M309.1,263.6L305.3,263.5" stroke="#000" stroke-width="1.6"/><path d="M301.4,263.4L305.3,261.6L305.2,265.3Z" fill="#000"/><path d="M29.9,268.9L30.4,271.4" stroke="#000" stroke-width="1.6"/><path d="M30.9,273.9L29.3,271.6L31.6,271.2Z" fill="#000"/><path d="M39.2,268.4L40.2,270.9" stroke="#000" stroke-width="1.6"/><path d="M41.2,273.4L39.0,271.4L41.4,270.4Z" fill="#000"/><path d="M49.5,270.0L50.6,271.4" stroke="#000" stroke-width="1.6"/><path d="M51.8,272.9L49.9,272.0L51.3,270.9Z" fill="#000"/><path d="M60.2,269.7L61.3,270.8" stroke="#000" stroke-width="1.6"/><path d="M62.4,271.9L60.7,271.3L61.8,270.2Z" fill="#000"/><path d="M68.9,269.9L70.2,271.1" stroke="#000" stroke-width="1.6"/><path d="M71.5,272.2L69.7,271.7L70.7,270.4Z" fill="#000"/><path d="M79.5,270.9L80.4,271.1" stroke="#000" stroke-width="1.6"/><path d="M82.0,271.6L80.2,271.9L80.6,270.4Z" fill="#000"/><path d="M89.4,272.3L90.5,271.7" stroke="#000" stroke-width="1.6"/><path d="M91.9,270.9L90.9,272.4L90.2,271.0Z" fill="#000"/><path d="M100.7,271.3L101.8,270.6" stroke="#000" stroke-width="1.6"/><path d="M103.1,269.7L102.2,271.2L101.3,270.0Z" fill="#000"/><path d="M111.0,271.1L112.1,270.7" stroke="#000" stroke-width="1.6"/><path d="M113.6,270.2L112.3,271.4L111.8,270.0Z" fill="#000"/><path d="M133.3,271.8L131.9,270.8" stroke="#000" stroke-width="1.6"/><path d="M130.4,269.9L132.4,270.2L131.4,271.5Z" fill="#000"/><path d="M144.3,272.9L142.6,271.8" stroke="#000" stroke-width="1.6"/><path d="M140.8,270.8L143.1,271.0L142.1,272.7Z" fill="#000"/><path d="M154.0,271.8L152.0,270.8" stroke="#000" stroke-width="1.6"/><path d="M149.9,269.8L152.4,269.8L151.5,271.7Z" fill="#000"/><path d="M165.1,271.7L162.6,270.7" stroke="#000" stroke-width="1.6"/><path d="M160.1,269.7L163.1,269.5L162.1,271.9Z" fill="#000"/><path d="M176.3,272.8L173.5,271.9" stroke="#000" stroke-width="1.6"/><path d="M170.7,270.9L174.0,270.5L173.0,273.2Z" fill="#000"/><path d="M186.6,272.1L183.5,271.2" stroke="#000" stroke-width="1.6"/><path d="M180.5,270.2L184.0,269.7L183.1,272.6Z" fill="#000"/><path d="M196.7,271.7L193.7,271.1" stroke="#000" stroke-width="1.6"/><path d="M190.7,270.6L193.9,269.7L193.4,272.6Z" fill="#000"/><path d="M206.4,271.3L203.3,270.7" stroke="#000" stroke-width="1.6"/><path d="M200.3,270.0L203.6,269.2L203.0,272.1Z" fill="#000"/><path d="M215.9,272.1L212.9,271.6" stroke="#000" stroke-width="1.6"/><path d="M209.8,271.0L213.1,270.1L212.6,273.0Z" fill="#000"/><path d="M225.9,272.7L223.3,272.0" stroke="#000" stroke-width="1.6"/><path d="M220.7,271.4L223.6,270.8L223.0,273.3Z" fill="#000"/><path d="M236.3,272.0L234.1,271.4" stroke="#000" stroke-width="1.6"/><path d="M232.0,270.8L234.4,270.4L233.8,272.5Z" fill="#000"/><path d="M246.5,271.5L244.8,271.0" stroke="#000" stroke-width="1.6"/><path d="M243.2,270.5L245.1,270.2L244.6,271.8Z" fill="#000"/><path d="M255.6,271.3L253.6,270.9" stroke="#000" stroke-width="1.6"/><path d="M251.6,270.4L253.8,269.9L253.4,271.8Z" fill="#000"/><path d="M267.0,270.8L264.5,270.7" stroke="#000" stroke-width="1.6"/><path d="M262.1,270.7L264.6,269.6L264.5,271.9Z" fill="#000"/><path d="M276.6,272.0L274.4,271.7" stroke="#000" stroke-width="1.6"/><path d="M272.3,271.4L274.6,270.6L274.3,272.7Z" fill="#000"/><path d="M287.1,271.2L284.8,271.0" stroke="#000" stroke-width="1.6"/><path d="M282.5,270.9L284.9,269.9L284.7,272.2Z" fill="#000"/><path d="M297.2,271.4L294.8,271.4" stroke="#000" stroke-width="1.6"/><path d="M292.4,271.3L294.8,270.2L294.8,272.5Z" fill="#000"/><path d="M308.3,271.0L306.2,270.8" stroke="#000" stroke-width="1.6"/><path d="M304.1,270.5L306.3,269.8L306.1,271.8Z" fill="#000"/><path d="M30.0,277.6L30.5,279.6" stroke="#000" stroke-width="1.6"/><path d="M31.1,281.6L29.6,279.9L31.5,279.4Z" fill="#000"/><path d="M39.2,277.7L40.4,279.3" stroke="#000" stroke-width="1.6"/><path d="M41.5,280.8L39.6,279.8L41.1,278.7Z" fill="#000"/><path d="M49.1,277.2L50.4,278.6" stroke="#000" stroke-width="1.6"/><path d="M51.8,279.9L49.8,279.2L51.1,277.9Z" fill="#000"/><path d="M59.2,278.6L60.7,280.0" stroke="#000" stroke-width="1.6"/><path d="M62.2,281.4L60.1,280.7L61.4,279.3Z" fill="#000"/><path d="M69.6,278.1L71.2,279.1" stroke="#000" stroke-width="1.6"/><path d="M72.7,280.2L70.7,279.9L71.7,278.4Z" fill="#000"/><path d="M79.2,279.5L80.9,279.8" stroke="#000" stroke-width="1.6"/><path d="M82.6,280.0L80.8,280.6L81.0,279.0Z" fill="#000"/><path d="M88.9,279.2L90.4,278.7" stroke="#000" stroke-width="1.6"/><path d="M91.9,278.3L90.6,279.5L90.2,278.0Z" fill="#000"/><path d="M100.6,279.9L102.1,279.5" stroke="#000" stroke-width="1.6"/><path d="M103.6,279.0L102.3,280.2L101.9,278.7Z" fill="#000"/><path d="M110.4,279.6L112.1,279.3" stroke="#000" stroke-width="1.6"/><path d="M113.8,278.9L112.3,280.1L111.9,278.4Z" fill="#000"/><path d="M119.3,279.7L121.1,279.3" stroke="#000" stroke-width="1.6"/><path d="M122.8,278.8L121.3,280.1L120.9,278.4Z" fill="#000"/><path d="M133.1,279.9L132.2,278.5" stroke="#000" stroke-width="1.6"/><path d="M131.3,277.2L132.9,278.1L131.6,279.0Z" fill="#000"/><path d="M143.4,281.2L142.2,279.9" stroke="#000" stroke-width="1.6"/><path d="M141.0,278.6L142.8,279.3L141.5,280.5Z" fill="#000"/><path d="M153.2,279.9L151.7,278.5" stroke="#000" stroke-width="1.6"/><path d="M150.2,277.0L152.4,277.7L151.0,279.2Z" fill="#000"/><path d="M163.9,280.9L162.0,279.5" stroke="#000" stroke-width="1.6"/><path d="M160.0,278.1L162.7,278.5L161.3,280.4Z" fill="#000"/><path d="M175.6,279.9L173.4,278.6" stroke="#000" stroke-width="1.6"/><path d="M171.3,277.4L174.0,277.6L172.8,279.7Z" fill="#000"/><path d="M185.7,280.1L183.6,278.8" stroke="#000" stroke-width="1.6"/><path d="M181.4,277.4L184.2,277.7L182.9,279.8Z" fill="#000"/><path d="M195.8,281.1L193.3,279.6" stroke="#000" stroke-width="1.6"/><path d="M190.8,278.2L194.0,278.4L192.6,280.8Z" fill="#000"/><path d="M205.1,280.3L202.8,279.2" stroke="#000" stroke-width="1.6"/><path d="M200.4,278.0L203.3,278.0L202.2,280.3Z" fill="#000"/><path d="M216.4,280.2L214.2,279.0" stroke="#000" stroke-width="1.6"/><path d="M212.0,277.8L214.8,277.9L213.6,280.0Z" fill="#000"/><path d="M226.8,279.6L224.3,279.1" stroke="#000" stroke-width="1.6"/><path d="M221.8,278.6L224.5,277.9L224.0,280.3Z" fill="#000"/><path d="M236.6,279.7L234.7,279.0" stroke="#000" stroke-width="1.6"/><path d="M232.8,278.4L235.0,278.1L234.4,279.9Z" fill="#000"/><path d="M246.2,279.1L244.7,278.5" stroke="#000" stroke-width="1.6"/><path d="M243.2,278.0L245.0,277.8L244.5,279.2Z" fill="#000"/><path d="M255.7,279.3L254.1,278.6" stroke="#000" stroke-width="1.6"/><path d="M252.6,278.0L254.5,277.9L253.8,279.4Z" fill="#000"/><path d="M266.1,279.7L264.4,279.0" stroke="#000" stroke-width="1.6"/><path d="M262.8,278.4L264.7,278.3L264.2,279.8Z" fill="#000"/><path d="M276.4,279.6L274.4,279.1" stroke="#000" stroke-width="1.6"/><path d="M272.4,278.6L274.6,278.1L274.1,280.0Z" fill="#000"/><path d="M287.1,279.7L285.3,279.3" stroke="#000" stroke-width="1.6"/><path d="M283.5,279.0L285.5,278.5L285.1,280.2Z" fill="#000"/><path d="M296.6,279.8L294.8,279.5" stroke="#000" stroke-width="1.6"/><path d="M293.0,279.2L294.9,278.7L294.6,280.4Z" fill="#000"/><path d="M307.7,279.1L305.7,279.1" stroke="#000" stroke-width="1.6"/><path d="M303.7,279.1L305.7,278.1L305.7,280.0Z" fill="#000"/><path d="M29.9,284.6L29.9,286.6" stroke="#000" stroke-width="1.6"/><path d="M30.0,288.5L29.0,286.6L30.9,286.5Z" fill="#000"/><path d="M39.2,285.4L40.7,286.9" stroke="#000" stroke-width="1.6"/><path d="M42.3,288.3L40.0,287.6L41.4,286.1Z" fill="#000"/><path d="M48.2,286.4L50.1,287.8" stroke="#000" stroke-width="1.6"/><path d="M51.9,289.2L49.4,288.7L50.7,286.9Z" fill="#000"/><path d="M58.3,285.2L60.3,286.6" stroke="#000" stroke-width="1.6"/><path d="M62.3,288.0L59.6,287.6L60.9,285.7Z" fill="#000"/><path d="M68.7,286.0L70.6,287.1" stroke="#000" stroke-width="1.6"/><path d="M72.5,288.3L70.1,288.0L71.2,286.2Z" fill="#000"/><path d="M79.1,286.5L81.2,286.9" stroke="#000" stroke-width="1.6"/><path d="M83.3,287.3L81.0,287.9L81.4,285.9Z" fill="#000"/><path d="M89.6,286.6L91.5,286.3" stroke="#000" stroke-width="1.6"/><path d="M93.4,286.1L91.6,287.3L91.4,285.4Z" fill="#000"/><path d="M100.1,287.4L102.1,287.0" stroke="#000" stroke-width="1.6"/><path d="M104.1,286.7L102.3,288.0L101.9,286.1Z" fill="#000"/><path d="M109.5,287.3L111.5,287.0" stroke="#000" stroke-width="1.6"/><path d="M113.5,286.7L111.7,288.0L111.4,286.0Z" fill="#000"/><path d="M119.4,287.8L121.4,287.6" stroke="#000" stroke-width="1.6"/><path d="M123.5,287.4L121.6,288.6L121.3,286.6Z" fill="#000"/><path d="M132.4,287.9L132.0,286.6" stroke="#000" stroke-width="1.6"/><path d="M131.4,285.1L132.7,286.3L131.2,286.8Z" fill="#000"/><path d="M142.7,288.5L142.0,287.1" stroke="#000" stroke-width="1.6"/><path d="M141.2,285.6L142.7,286.7L141.3,287.4Z" fill="#000"/><path d="M153.3,288.3L152.2,286.5" stroke="#000" stroke-width="1.6"/><path d="M151.1,284.6L153.1,285.9L151.3,287.0Z" fill="#000"/><path d="M164.8,288.0L163.2,286.5" stroke="#000" stroke-width="1.6"/><path d="M161.7,285.1L163.9,285.8L162.5,287.3Z" fill="#000"/><path d="M174.8,288.4L173.2,287.0" stroke="#000" stroke-width="1.6"/><path d="M171.5,285.6L173.8,286.2L172.5,287.8Z" fill="#000"/><path d="M184.6,288.9L183.0,287.4" stroke="#000" stroke-width="1.6"/><path d="M181.4,285.9L183.7,286.6L182.3,288.1Z" fill="#000"/><path d="M194.1,288.6L192.4,287.1" stroke="#000" stroke-width="1.6"/><path d="M190.8,285.6L193.1,286.3L191.7,287.9Z" fill="#000"/><path d="M205.1,288.4L203.3,287.0" stroke="#000" stroke-width="1.6"/><path d="M201.5,285.6L204.0,286.1L202.7,287.8Z" fill="#000"/><path d="M214.5,287.7L212.8,286.3" stroke="#000" stroke-width="1.6"/><path d="M211.1,284.9L213.5,285.5L212.1,287.1Z" fill="#000"/><path d="M225.3,288.0L223.8,287.0" stroke="#000" stroke-width="1.6"/><path d="M222.2,286.0L224.3,286.3L223.3,287.8Z" fill="#000"/><path d="M235.3,287.4L233.7,286.5" stroke="#000" stroke-width="1.6"/><path d="M232.1,285.6L234.2,285.7L233.3,287.3Z" fill="#000"/><path d="M245.0,288.3L244.2,287.5" stroke="#000" stroke-width="1.6"/><path d="M242.9,286.5L244.6,286.9L243.7,288.1Z" fill="#000"/><path d="M255.9,288.4L255.1,287.7" stroke="#000" stroke-width="1.6"/><path d="M253.9,286.7L255.6,287.1L254.6,288.3Z" fill="#000"/><path d="M264.8,287.8L263.9,287.0" stroke="#000" stroke-width="1.6"/><path d="M262.8,285.9L264.5,286.4L263.4,287.5Z" fill="#000"/><path d="M297.0,286.9L295.5,286.4" stroke="#000" stroke-width="1.6"/><path d="M294.0,285.9L295.8,285.7L295.3,287.2Z" fill="#000"/><path d="M307.0,286.2L306.4,286.9" stroke="#000" stroke-width="1.6"/><path d="M305.4,288.2L305.8,286.5L307.0,287.4Z" fill="#000"/><path d="M29.7,293.1L30.2,294.6" stroke="#000" stroke-width="1.6"/><path d="M30.7,296.1L29.4,294.8L30.9,294.4Z" fill="#000"/><path d="M39.0,294.7L40.8,295.8" stroke="#000" stroke-width="1.6"/><path d="M42.6,296.9L40.3,296.7L41.4,294.9Z" fill="#000"/><path d="M48.2,293.8L50.1,295.0" stroke="#000" stroke-width="1.6"/><path d="M52.1,296.2L49.6,295.9L50.7,294.0Z" fill="#000"/><path d="M57.5,294.0L59.9,295.4" stroke="#000" stroke-width="1.6"/><path d="M62.3,296.8L59.2,296.6L60.6,294.3Z" fill="#000"/><path d="M68.8,293.6L71.0,294.6" stroke="#000" stroke-width="1.6"/><path d="M73.3,295.5L70.6,295.6L71.5,293.5Z" fill="#000"/><path d="M79.2,294.7L81.5,295.1" stroke="#000" stroke-width="1.6"/><path d="M83.8,295.5L81.3,296.2L81.7,294.0Z" fill="#000"/><path d="M89.5,295.5L91.9,295.5" stroke="#000" stroke-width="1.6"/><path d="M94.3,295.5L91.9,296.7L91.9,294.3Z" fill="#000"/><path d="M98.3,294.7L100.8,294.6" stroke="#000" stroke-width="1.6"/><path d="M103.3,294.4L100.8,295.8L100.7,293.4Z" fill="#000"/><path d="M109.9,294.4L112.2,294.3" stroke="#000" stroke-width="1.6"/><path d="M114.4,294.1L112.2,295.3L112.1,293.2Z" fill="#000"/><path d="M119.0,295.8L121.2,295.7" stroke="#000" stroke-width="1.6"/><path d="M123.4,295.5L121.3,296.7L121.1,294.6Z" fill="#000"/><path d="M132.6,295.9L132.5,294.9" stroke="#000" stroke-width="1.6"/><path d="M132.4,293.3L133.3,294.8L131.8,295.0Z" fill="#000"/><path d="M142.1,295.7L142.0,294.4" stroke="#000" stroke-width="1.6"/><path d="M141.8,292.8L142.7,294.3L141.2,294.4Z" fill="#000"/><path d="M152.8,295.8L151.8,294.2" stroke="#000" stroke-width="1.6"/><path d="M150.8,292.6L152.6,293.7L151.0,294.7Z" fill="#000"/><path d="M164.0,296.6L162.7,295.2" stroke="#000" stroke-width="1.6"/><path d="M161.5,293.7L163.4,294.6L162.0,295.8Z" fill="#000"/><path d="M173.3,297.0L172.2,295.5" stroke="#000" stroke-width="1.6"/><path d="M171.2,294.0L172.9,295.0L171.5,296.0Z" fill="#000"/><path d="M184.5,296.6L183.0,295.2" stroke="#000" stroke-width="1.6"/><path d="M181.5,293.7L183.7,294.4L182.3,295.9Z" fill="#000"/><path d="M195.0,296.0L193.5,294.5" stroke="#000" stroke-width="1.6"/><path d="M191.9,293.1L194.2,293.8L192.8,295.3Z" fill="#000"/><path d="M205.4,296.3L203.9,294.9" stroke="#000" stroke-width="1.6"/><path d="M202.3,293.4L204.6,294.1L203.2,295.6Z" fill="#000"/><path d="M215.1,295.9L213.6,294.4" stroke="#000" stroke-width="1.6"/><path d="M212.1,292.9L214.3,293.7L212.9,295.1Z" fill="#000"/><path d="M224.8,296.1L223.4,294.9" stroke="#000" stroke-width="1.6"/><path d="M222.0,293.7L224.0,294.3L222.8,295.6Z" fill="#000"/><path d="M235.5,296.3L234.4,294.9" stroke="#000" stroke-width="1.6"/><path d="M233.3,293.6L235.0,294.4L233.7,295.5Z" fill="#000"/><path d="M285.5,293.4L285.2,295.0" stroke="#000" stroke-width="1.6"/><path d="M285.0,296.6L284.5,294.9L286.0,295.1Z" fill="#000"/><path d="M294.7,293.3L294.6,295.0" stroke="#000" stroke-width="1.6"/><path d="M294.4,296.7L293.7,294.9L295.4,295.1Z" fill="#000"/><path d="M304.8,292.5L304.7,294.3" stroke="#000" stroke-width="1.6"/><path d="M304.6,296.2L303.8,294.3L305.6,294.4Z" fill="#000"/><path d="M38.6,302.7L40.2,303.6" stroke="#000" stroke-width="1.6"/><path d="M41.8,304.5L39.8,304.4L40.6,302.8Z" fill="#000"/><path d="M48.3,302.8L49.9,303.7" stroke="#000" stroke-width="1.6"/><path d="M51.6,304.6L49.5,304.5L50.4,302.9Z" fill="#000"/><path d="M58.7,302.4L60.4,303.4" stroke="#000" stroke-width="1.6"/><path d="M62.0,304.4L59.9,304.2L60.8,302.6Z" fill="#000"/><path d="M69.1,302.4L70.8,303.3" stroke="#000" stroke-width="1.6"/><path d="M72.6,304.3L70.4,304.2L71.3,302.5Z" fill="#000"/><path d="M79.7,302.8L81.6,303.4" stroke="#000" stroke-width="1.6"/><path d="M83.5,304.1L81.3,304.4L81.9,302.5Z" fill="#000"/><path d="M88.9,303.2L90.6,303.5" stroke="#000" stroke-width="1.6"/><path d="M92.3,303.8L90.5,304.3L90.8,302.7Z" fill="#000"/><path d="M98.8,303.5L100.8,303.3" stroke="#000" stroke-width="1.6"/><path d="M102.8,303.0L100.9,304.2L100.7,302.3Z" fill="#000"/><path d="M108.8,302.9L110.9,302.6" stroke="#000" stroke-width="1.6"/><path d="M112.9,302.2L111.0,303.6L110.7,301.6Z" fill="#000"/><path d="M119.3,303.5L121.2,303.1" stroke="#000" stroke-width="1.6"/><path d="M123.1,302.7L121.4,304.0L121.0,302.2Z" fill="#000"/><path d="M154.0,304.5L153.0,303.1" stroke="#000" stroke-width="1.6"/><path d="M152.1,301.6L153.8,302.6L152.3,303.5Z" fill="#000"/><path d="M163.6,304.7L162.6,303.3" stroke="#000" stroke-width="1.6"/><path d="M161.5,301.8L163.3,302.8L161.9,303.8Z" fill="#000"/><path d="M174.6,304.1L173.6,302.6" stroke="#000" stroke-width="1.6"/><path d="M172.5,301.2L174.3,302.1L172.9,303.1Z" fill="#000"/><path d="M183.8,303.9L182.4,302.5" stroke="#000" stroke-width="1.6"/><path d="M180.9,301.1L183.1,301.8L181.7,303.2Z" fill="#000"/><path d="M194.2,304.2L192.7,302.7" stroke="#000" stroke-width="1.6"/><path d="M191.2,301.3L193.4,302.0L191.9,303.5Z" fill="#000"/><path d="M205.3,304.8L203.8,303.3" stroke="#000" stroke-width="1.6"/><path d="M202.3,301.8L204.5,302.6L203.1,304.0Z" fill="#000"/><path d="M214.4,303.7L213.0,302.4" stroke="#000" stroke-width="1.6"/><path d="M211.5,301.0L213.6,301.7L212.3,303.1Z" fill="#000"/><path d="M225.0,304.5L223.6,303.5" stroke="#000" stroke-width="1.6"/><path d="M222.1,302.4L224.1,302.8L223.1,304.1Z" fill="#000"/><path d="M235.0,304.0L234.1,303.1" stroke="#000" stroke-width="1.6"/><path d="M233.0,301.9L234.6,302.5L233.6,303.6Z" fill="#000"/><path d="M244.8,303.9L244.1,303.2" stroke="#000" stroke-width="1.6"/><path d="M243.0,302.0L244.6,302.7L243.5,303.7Z" fill="#000"/><path d="M274.7,301.5L274.6,302.6" stroke="#000" stroke-width="1.6"/><path d="M274.4,304.2L273.8,302.5L275.4,302.7Z" fill="#000"/><path d="M284.4,300.6L284.4,302.5" stroke="#000" stroke-width="1.6"/><path d="M284.4,304.5L283.5,302.5L285.4,302.5Z" fill="#000"/><path d="M294.6,300.4L294.5,302.2" stroke="#000" stroke-width="1.6"/><path d="M294.3,304.0L293.6,302.1L295.3,302.3Z" fill="#000"/><path d="M304.8,301.6L304.7,303.5" stroke="#000" stroke-width="1.6"/><path d="M304.7,305.5L303.8,303.5L305.7,303.6Z" fill="#000"/><path d="M27.0,310.9L30.4,310.9" stroke="#000" stroke-width="1.6"/><path d="M33.7,311.0L30.3,312.5L30.4,309.3Z" fill="#000"/><path d="M37.9,310.2L40.7,310.3" stroke="#000" stroke-width="1.6"/><path d="M43.5,310.4L40.6,311.6L40.7,308.9Z" fill="#000"/><path d="M48.2,311.4L50.2,310.9" stroke="#000" stroke-width="1.6"/><path d="M52.2,310.5L50.4,311.9L50.0,310.0Z" fill="#000"/><path d="M59.5,310.1L61.2,310.9" stroke="#000" stroke-width="1.6"/><path d="M62.8,311.7L60.8,311.7L61.6,310.1Z" fill="#000"/><path d="M68.5,309.2L70.2,310.1" stroke="#000" stroke-width="1.6"/><path d="M71.9,311.0L69.8,310.9L70.6,309.3Z" fill="#000"/><path d="M78.6,310.4L80.3,311.2" stroke="#000" stroke-width="1.6"/><path d="M81.9,312.0L79.9,312.0L80.6,310.4Z" fill="#000"/><path d="M91.0,309.0L91.7,310.1" stroke="#000" stroke-width="1.6"/><path d="M92.6,311.4L91.1,310.5L92.4,309.7Z" fill="#000"/><path d="M101.0,309.0L101.7,309.9" stroke="#000" stroke-width="1.6"/><path d="M102.8,311.1L101.1,310.4L102.3,309.4Z" fill="#000"/><path d="M110.4,311.4L112.1,311.1" stroke="#000" stroke-width="1.6"/><path d="M113.9,310.9L112.3,312.0L112.0,310.3Z" fill="#000"/><path d="M120.2,311.2L121.8,310.8" stroke="#000" stroke-width="1.6"/><path d="M123.3,310.3L122.0,311.5L121.5,310.0Z" fill="#000"/><path d="M163.6,312.3L162.6,310.9" stroke="#000" stroke-width="1.6"/><path d="M161.7,309.6L163.3,310.5L162.0,311.4Z" fill="#000"/><path d="M173.2,311.5L172.2,310.2" stroke="#000" stroke-width="1.6"/><path d="M171.1,308.8L172.8,309.7L171.5,310.7Z" fill="#000"/><path d="M184.8,312.2L183.8,311.2" stroke="#000" stroke-width="1.6"/><path d="M182.7,310.0L184.4,310.6L183.3,311.7Z" fill="#000"/><path d="M194.8,312.3L193.4,310.9" stroke="#000" stroke-width="1.6"/><path d="M191.9,309.5L194.1,310.2L192.7,311.6Z" fill="#000"/><path d="M204.4,311.6L203.0,310.3" stroke="#000" stroke-width="1.6"/><path d="M201.6,308.9L203.6,309.6L202.3,310.9Z" fill="#000"/><path d="M214.9,311.1L213.8,310.0" stroke="#000" stroke-width="1.6"/><path d="M212.6,309.0L214.3,309.5L213.2,310.6Z" fill="#000"/><path d="M224.3,311.6L223.0,310.5" stroke="#000" stroke-width="1.6"/><path d="M221.8,309.5L223.5,309.9L222.5,311.2Z" fill="#000"/><path d="M235.2,312.5L234.3,311.6" stroke="#000" stroke-width="1.6"/><path d="M233.1,310.5L234.8,311.1L233.7,312.2Z" fill="#000"/><path d="M274.2,308.9L274.1,309.9" stroke="#000" stroke-width="1.6"/><path d="M273.9,311.5L273.3,309.8L274.9,310.0Z" fill="#000"/><path d="M284.3,309.5L284.2,311.3" stroke="#000" stroke-width="1.6"/><path d="M284.1,313.0L283.4,311.2L285.1,311.3Z" fill="#000"/><path d="M295.2,309.3L295.0,311.1" stroke="#000" stroke-width="1.6"/><path d="M294.9,312.8L294.2,311.0L295.8,311.2Z" fill="#000"/><path d="M305.4,308.9L305.3,310.8" stroke="#000" stroke-width="1.6"/><path d="M305.2,312.7L304.4,310.8L306.2,310.8Z" fill="#000"/></g><g clip-path="url(#clipc)"><path d="M390.0,215.4L393.4,217.2" stroke="#000" stroke-width="1.6"/><path d="M396.7,219.0L392.5,218.8L394.3,215.6Z" fill="#000"/><path d="M408.7,214.3L407.3,215.2" stroke="#000" stroke-width="1.6"/><path d="M406.0,216.0L406.9,214.5L407.8,215.8Z" fill="#000"/><path d="M423.2,216.9L419.4,217.1" stroke="#000" stroke-width="1.6"/><path d="M415.6,217.3L419.3,215.3L419.5,219.0Z" fill="#000"/><path d="M431.4,214.4L432.0,217.0" stroke="#000" stroke-width="1.6"/><path d="M432.6,219.5L430.8,217.3L433.2,216.7Z" fill="#000"/><path d="M522.7,213.7L527.8,215.2" stroke="#000" stroke-width="1.6"/><path d="M531.6,216.3L527.3,217.0L528.3,213.3Z" fill="#000"/><path d="M596.8,217.2L595.5,215.2" stroke="#000" stroke-width="1.6"/><path d="M594.2,213.3L596.4,214.6L594.6,215.9Z" fill="#000"/><path d="M640.1,211.9L634.6,215.1" stroke="#000" stroke-width="1.6"/><path d="M631.1,217.1L633.6,213.4L635.6,216.8Z" fill="#000"/><path d="M654.7,211.8L649.4,215.8" stroke="#000" stroke-width="1.6"/><path d="M646.2,218.2L648.3,214.2L650.6,217.3Z" fill="#000"/><path d="M665.8,214.3L661.9,217.4" stroke="#000" stroke-width="1.6"/><path d="M658.8,220.0L660.7,216.0L663.1,218.9Z" fill="#000"/><path d="M397.4,223.5L399.8,225.0" stroke="#000" stroke-width="1.6"/><path d="M402.1,226.6L399.0,226.2L400.5,223.9Z" fill="#000"/><path d="M410.7,222.9L413.7,224.7" stroke="#000" stroke-width="1.6"/><path d="M416.6,226.5L412.8,226.2L414.5,223.3Z" fill="#000"/><path d="M427.3,223.4L425.5,224.1" stroke="#000" stroke-width="1.6"/><path d="M423.7,224.9L425.2,223.3L425.9,225.0Z" fill="#000"/><path d="M439.7,223.4L440.3,225.1" stroke="#000" stroke-width="1.6"/><path d="M440.8,226.9L439.4,225.4L441.1,224.9Z" fill="#000"/><path d="M450.9,223.3L453.3,224.3" stroke="#000" stroke-width="1.6"/><path d="M455.8,225.3L452.9,225.5L453.8,223.1Z" fill="#000"/><path d="M519.7,223.3L521.6,224.4" stroke="#000" stroke-width="1.6"/><path d="M523.4,225.5L521.1,225.3L522.1,223.5Z" fill="#000"/><path d="M533.2,222.0L535.3,223.0" stroke="#000" stroke-width="1.6"/><path d="M537.3,223.9L534.8,223.9L535.7,222.0Z" fill="#000"/><path d="M545.2,222.5L548.1,223.2" stroke="#000" stroke-width="1.6"/><path d="M551.0,223.9L547.7,224.6L548.4,221.8Z" fill="#000"/><path d="M590.5,224.4L589.3,223.4" stroke="#000" stroke-width="1.6"/><path d="M588.0,222.4L589.8,222.8L588.8,224.0Z" fill="#000"/><path d="M619.2,222.6L613.6,225.6" stroke="#000" stroke-width="1.6"/><path d="M610.1,227.5L612.7,223.9L614.5,227.3Z" fill="#000"/><path d="M635.7,222.6L629.0,226.0" stroke="#000" stroke-width="1.6"/><path d="M625.4,227.8L628.1,224.3L629.9,227.7Z" fill="#000"/><path d="M647.5,220.3L641.9,223.5" stroke="#000" stroke-width="1.6"/><path d="M638.4,225.5L640.9,221.9L642.9,225.2Z" fill="#000"/><path d="M659.2,222.2L654.6,225.9" stroke="#000" stroke-width="1.6"/><path d="M651.5,228.4L653.4,224.4L655.8,227.4Z" fill="#000"/><path d="M404.8,230.3L406.7,231.6" stroke="#000" stroke-width="1.6"/><path d="M408.7,232.9L406.1,232.6L407.3,230.7Z" fill="#000"/><path d="M416.0,229.9L419.7,231.2" stroke="#000" stroke-width="1.6"/><path d="M423.5,232.5L419.1,233.0L420.3,229.4Z" fill="#000"/><path d="M436.9,229.9L430.6,234.1" stroke="#000" stroke-width="1.6"/><path d="M427.3,236.3L429.6,232.5L431.7,235.7Z" fill="#000"/><path d="M444.4,231.5L446.9,232.1" stroke="#000" stroke-width="1.6"/><path d="M449.4,232.8L446.6,233.4L447.2,230.9Z" fill="#000"/><path d="M457.4,230.6L460.0,232.8" stroke="#000" stroke-width="1.6"/><path d="M462.5,234.9L458.9,234.0L461.0,231.5Z" fill="#000"/><path d="M470.5,227.4L472.9,232.2" stroke="#000" stroke-width="1.6"/><path d="M474.7,235.8L471.2,233.1L474.6,231.4Z" fill="#000"/><path d="M538.5,231.9L541.8,232.6" stroke="#000" stroke-width="1.6"/><path d="M545.0,233.2L541.5,234.1L542.1,231.0Z" fill="#000"/><path d="M551.4,231.4L554.6,232.1" stroke="#000" stroke-width="1.6"/><path d="M557.7,232.7L554.3,233.6L554.9,230.5Z" fill="#000"/><path d="M614.5,228.4L608.9,231.5" stroke="#000" stroke-width="1.6"/><path d="M605.4,233.4L608.0,229.8L609.8,233.1Z" fill="#000"/><path d="M626.6,230.4L621.4,233.5" stroke="#000" stroke-width="1.6"/><path d="M617.9,235.5L620.4,231.8L622.3,235.1Z" fill="#000"/><path d="M638.2,229.9L634.2,232.6" stroke="#000" stroke-width="1.6"/><path d="M630.9,234.8L633.1,231.0L635.3,234.2Z" fill="#000"/><path d="M653.6,230.1L650.4,232.0" stroke="#000" stroke-width="1.6"/><path d="M647.1,234.0L649.4,230.5L651.3,233.6Z" fill="#000"/><path d="M666.8,228.7L663.7,231.2" stroke="#000" stroke-width="1.6"/><path d="M660.6,233.7L662.5,229.7L664.9,232.7Z" fill="#000"/><path d="M414.4,239.6L412.3,239.5" stroke="#000" stroke-width="1.6"/><path d="M410.2,239.5L412.3,238.5L412.3,240.6Z" fill="#000"/><path d="M432.9,237.2L426.7,241.1" stroke="#000" stroke-width="1.6"/><path d="M423.3,243.2L425.7,239.5L427.7,242.7Z" fill="#000"/><path d="M450.1,240.6L456.1,239.7" stroke="#000" stroke-width="1.6"/><path d="M460.1,239.0L456.4,241.6L455.8,237.8Z" fill="#000"/><path d="M466.4,234.2L469.5,242.2" stroke="#000" stroke-width="1.6"/><path d="M471.0,245.9L467.7,242.9L471.3,241.5Z" fill="#000"/><path d="M480.0,238.4L480.8,241.2" stroke="#000" stroke-width="1.6"/><path d="M481.7,244.0L479.5,241.6L482.2,240.8Z" fill="#000"/><path d="M499.6,239.7L494.3,240.3" stroke="#000" stroke-width="1.6"/><path d="M490.3,240.8L494.1,238.4L494.5,242.2Z" fill="#000"/><path d="M503.9,238.5L507.9,241.4" stroke="#000" stroke-width="1.6"/><path d="M511.2,243.8L506.8,243.0L509.1,239.9Z" fill="#000"/><path d="M545.3,243.0L548.3,241.4" stroke="#000" stroke-width="1.6"/><path d="M551.3,239.7L549.1,242.8L547.5,239.9Z" fill="#000"/><path d="M604.8,237.7L601.7,239.7" stroke="#000" stroke-width="1.6"/><path d="M598.6,241.7L600.8,238.2L602.7,241.2Z" fill="#000"/><path d="M618.8,236.2L614.3,239.0" stroke="#000" stroke-width="1.6"/><path d="M610.9,241.1L613.3,237.4L615.3,240.6Z" fill="#000"/><path d="M630.7,238.9L628.4,241.2" stroke="#000" stroke-width="1.6"/><path d="M626.1,243.6L627.2,240.1L629.5,242.4Z" fill="#000"/><path d="M646.4,236.9L643.8,238.8" stroke="#000" stroke-width="1.6"/><path d="M641.2,240.8L642.8,237.6L644.7,240.1Z" fill="#000"/><path d="M658.7,238.0L656.6,239.9" stroke="#000" stroke-width="1.6"/><path d="M654.5,241.9L655.6,238.9L657.5,240.9Z" fill="#000"/><path d="M385.5,252.1L395.6,248.1" stroke="#000" stroke-width="1.6"/><path d="M399.4,246.7L396.3,249.9L394.9,246.3Z" fill="#000"/><path d="M402.6,250.3L406.6,248.3" stroke="#000" stroke-width="1.6"/><path d="M410.2,246.4L407.5,250.0L405.8,246.5Z" fill="#000"/><path d="M429.4,247.8L432.2,247.7" stroke="#000" stroke-width="1.6"/><path d="M435.0,247.6L432.2,249.1L432.1,246.4Z" fill="#000"/><path d="M443.0,249.6L448.6,248.8" stroke="#000" stroke-width="1.6"/><path d="M452.6,248.3L448.8,250.7L448.4,246.9Z" fill="#000"/><path d="M458.1,244.3L461.2,246.8" stroke="#000" stroke-width="1.6"/><path d="M464.3,249.3L460.0,248.3L462.4,245.3Z" fill="#000"/><path d="M472.5,245.2L475.6,249.4" stroke="#000" stroke-width="1.6"/><path d="M478.0,252.6L474.1,250.5L477.1,248.2Z" fill="#000"/><path d="M492.4,247.1L488.6,248.1" stroke="#000" stroke-width="1.6"/><path d="M484.9,249.1L488.2,246.3L489.1,249.9Z" fill="#000"/><path d="M498.8,244.0L502.6,246.9" stroke="#000" stroke-width="1.6"/><path d="M505.7,249.3L501.4,248.4L503.7,245.4Z" fill="#000"/><path d="M509.0,243.3L514.0,247.3" stroke="#000" stroke-width="1.6"/><path d="M517.1,249.8L512.8,248.8L515.2,245.8Z" fill="#000"/><path d="M525.9,245.8L527.3,247.2" stroke="#000" stroke-width="1.6"/><path d="M528.6,248.7L526.6,247.9L528.0,246.6Z" fill="#000"/><path d="M537.7,249.9L540.6,248.2" stroke="#000" stroke-width="1.6"/><path d="M543.5,246.5L541.4,249.6L539.7,246.8Z" fill="#000"/><path d="M551.2,249.0L553.6,248.3" stroke="#000" stroke-width="1.6"/><path d="M556.0,247.6L553.9,249.4L553.3,247.1Z" fill="#000"/><path d="M566.1,246.2L567.5,248.5" stroke="#000" stroke-width="1.6"/><path d="M568.9,250.9L566.4,249.2L568.6,247.9Z" fill="#000"/><path d="M598.2,246.2L596.8,248.1" stroke="#000" stroke-width="1.6"/><path d="M595.4,250.1L595.9,247.5L597.7,248.8Z" fill="#000"/><path d="M611.2,246.5L609.9,248.5" stroke="#000" stroke-width="1.6"/><path d="M608.6,250.4L609.0,247.9L610.9,249.1Z" fill="#000"/><path d="M623.0,245.1L622.8,247.1" stroke="#000" stroke-width="1.6"/><path d="M622.7,249.0L621.9,247.0L623.8,247.1Z" fill="#000"/><path d="M636.7,244.7L636.2,246.6" stroke="#000" stroke-width="1.6"/><path d="M635.7,248.6L635.3,246.4L637.2,246.9Z" fill="#000"/><path d="M649.1,248.3L650.4,249.4" stroke="#000" stroke-width="1.6"/><path d="M651.7,250.5L649.9,250.0L650.9,248.8Z" fill="#000"/><path d="M392.9,257.4L401.8,254.7" stroke="#000" stroke-width="1.6"/><path d="M405.6,253.5L402.4,256.5L401.3,252.8Z" fill="#000"/><path d="M407.7,259.0L413.0,255.8" stroke="#000" stroke-width="1.6"/><path d="M416.5,253.8L414.0,257.5L412.0,254.2Z" fill="#000"/><path d="M421.9,256.7L429.5,255.0" stroke="#000" stroke-width="1.6"/><path d="M433.4,254.2L429.9,256.9L429.1,253.2Z" fill="#000"/><path d="M437.0,257.3L441.7,256.9" stroke="#000" stroke-width="1.6"/><path d="M445.7,256.5L441.9,258.8L441.5,254.9Z" fill="#000"/><path d="M450.3,254.4L452.6,256.8" stroke="#000" stroke-width="1.6"/><path d="M455.0,259.2L451.5,257.9L453.8,255.7Z" fill="#000"/><path d="M465.8,251.8L468.5,255.2" stroke="#000" stroke-width="1.6"/><path d="M471.0,258.3L467.0,256.4L470.0,254.0Z" fill="#000"/><path d="M478.5,252.7L481.2,256.8" stroke="#000" stroke-width="1.6"/><path d="M483.5,260.2L479.6,257.9L482.8,255.8Z" fill="#000"/><path d="M493.9,251.7L494.6,254.8" stroke="#000" stroke-width="1.6"/><path d="M495.2,257.8L493.1,255.1L496.0,254.5Z" fill="#000"/><path d="M505.0,253.1L508.7,256.8" stroke="#000" stroke-width="1.6"/><path d="M511.5,259.7L507.3,258.2L510.0,255.5Z" fill="#000"/><path d="M521.4,254.5L522.2,256.9" stroke="#000" stroke-width="1.6"/><path d="M523.0,259.4L521.0,257.3L523.4,256.5Z" fill="#000"/><path d="M532.9,254.6L534.2,256.7" stroke="#000" stroke-width="1.6"/><path d="M535.5,258.8L533.2,257.3L535.2,256.0Z" fill="#000"/><path d="M548.6,253.4L549.4,257.2" stroke="#000" stroke-width="1.6"/><path d="M550.1,261.0L547.5,257.5L551.2,256.8Z" fill="#000"/><path d="M560.0,251.5L560.7,254.6" stroke="#000" stroke-width="1.6"/><path d="M561.5,257.6L559.3,254.9L562.2,254.2Z" fill="#000"/><path d="M573.9,252.9L575.7,255.1" stroke="#000" stroke-width="1.6"/><path d="M577.5,257.4L574.6,256.0L576.8,254.3Z" fill="#000"/><path d="M587.4,256.0L588.9,257.3" stroke="#000" stroke-width="1.6"/><path d="M590.5,258.7L588.3,258.1L589.6,256.6Z" fill="#000"/><path d="M600.6,253.4L601.9,255.3" stroke="#000" stroke-width="1.6"/><path d="M603.1,257.2L601.0,255.9L602.8,254.7Z" fill="#000"/><path d="M613.1,255.2L615.6,256.5" stroke="#000" stroke-width="1.6"/><path d="M618.1,257.8L615.0,257.7L616.3,255.3Z" fill="#000"/><path d="M625.5,254.3L628.1,255.6" stroke="#000" stroke-width="1.6"/><path d="M630.6,256.9L627.4,256.9L628.7,254.4Z" fill="#000"/><path d="M638.5,255.8L641.7,256.5" stroke="#000" stroke-width="1.6"/><path d="M644.8,257.2L641.3,258.0L642.0,255.0Z" fill="#000"/><path d="M654.1,255.5L657.2,255.6" stroke="#000" stroke-width="1.6"/><path d="M660.4,255.7L657.2,257.1L657.3,254.1Z" fill="#000"/><path d="M666.1,256.1L669.4,256.1" stroke="#000" stroke-width="1.6"/><path d="M672.6,256.1L669.4,257.7L669.4,254.6Z" fill="#000"/><path d="M390.0,260.9L392.1,263.2" stroke="#000" stroke-width="1.6"/><path d="M394.3,265.6L391.0,264.3L393.3,262.2Z" fill="#000"/><path d="M404.6,261.1L406.0,263.9" stroke="#000" stroke-width="1.6"/><path d="M407.4,266.7L404.6,264.6L407.3,263.2Z" fill="#000"/><path d="M415.3,265.3L418.7,264.8" stroke="#000" stroke-width="1.6"/><path d="M422.2,264.2L419.0,266.4L418.5,263.1Z" fill="#000"/><path d="M429.9,264.0L433.7,263.4" stroke="#000" stroke-width="1.6"/><path d="M437.6,262.8L434.0,265.2L433.5,261.6Z" fill="#000"/><path d="M443.2,263.7L445.7,264.8" stroke="#000" stroke-width="1.6"/><path d="M448.3,265.9L445.2,266.0L446.2,263.6Z" fill="#000"/><path d="M514.2,259.2L514.9,263.1" stroke="#000" stroke-width="1.6"/><path d="M515.5,266.9L513.0,263.4L516.7,262.7Z" fill="#000"/><path d="M524.8,263.1L527.8,265.2" stroke="#000" stroke-width="1.6"/><path d="M530.8,267.2L526.8,266.6L528.8,263.7Z" fill="#000"/><path d="M539.3,262.3L541.1,264.6" stroke="#000" stroke-width="1.6"/><path d="M543.0,267.0L540.0,265.5L542.3,263.7Z" fill="#000"/><path d="M551.9,262.3L553.8,264.7" stroke="#000" stroke-width="1.6"/><path d="M555.7,267.1L552.6,265.6L555.0,263.8Z" fill="#000"/><path d="M566.7,262.8L569.3,265.0" stroke="#000" stroke-width="1.6"/><path d="M572.0,267.1L568.3,266.3L570.4,263.7Z" fill="#000"/><path d="M579.4,262.9L582.5,263.6" stroke="#000" stroke-width="1.6"/><path d="M585.7,264.3L582.2,265.1L582.9,262.1Z" fill="#000"/><path d="M591.6,263.1L594.2,264.1" stroke="#000" stroke-width="1.6"/><path d="M596.7,265.1L593.7,265.3L594.7,262.8Z" fill="#000"/><path d="M607.3,261.9L609.8,263.1" stroke="#000" stroke-width="1.6"/><path d="M612.3,264.3L609.2,264.3L610.4,261.9Z" fill="#000"/><path d="M619.5,263.0L621.8,264.1" stroke="#000" stroke-width="1.6"/><path d="M624.1,265.2L621.3,265.2L622.3,263.0Z" fill="#000"/><path d="M634.4,264.2L636.7,265.2" stroke="#000" stroke-width="1.6"/><path d="M639.1,266.2L636.3,266.3L637.2,264.0Z" fill="#000"/><path d="M645.4,262.4L648.4,263.1" stroke="#000" stroke-width="1.6"/><path d="M651.4,263.7L648.0,264.5L648.7,261.6Z" fill="#000"/><path d="M660.9,264.3L663.9,264.4" stroke="#000" stroke-width="1.6"/><path d="M666.9,264.6L663.8,265.9L664.0,263.0Z" fill="#000"/><path d="M399.5,269.8L400.4,273.5" stroke="#000" stroke-width="1.6"/><path d="M401.3,277.2L398.7,273.9L402.2,273.1Z" fill="#000"/><path d="M412.1,273.7L414.6,273.0" stroke="#000" stroke-width="1.6"/><path d="M417.0,272.3L414.9,274.2L414.2,271.9Z" fill="#000"/><path d="M424.7,272.8L427.6,271.7" stroke="#000" stroke-width="1.6"/><path d="M430.4,270.6L428.1,273.1L427.1,270.3Z" fill="#000"/><path d="M437.7,272.3L440.7,271.1" stroke="#000" stroke-width="1.6"/><path d="M443.6,269.8L441.3,272.5L440.1,269.6Z" fill="#000"/><path d="M451.5,273.5L454.5,272.8" stroke="#000" stroke-width="1.6"/><path d="M457.6,272.0L454.9,274.2L454.2,271.3Z" fill="#000"/><path d="M464.9,271.0L467.9,271.8" stroke="#000" stroke-width="1.6"/><path d="M471.0,272.7L467.5,273.3L468.3,270.4Z" fill="#000"/><path d="M477.6,270.4L480.4,271.8" stroke="#000" stroke-width="1.6"/><path d="M483.2,273.2L479.7,273.1L481.1,270.4Z" fill="#000"/><path d="M490.5,271.6L492.9,273.0" stroke="#000" stroke-width="1.6"/><path d="M495.2,274.5L492.2,274.2L493.5,271.9Z" fill="#000"/><path d="M506.3,269.1L507.9,271.7" stroke="#000" stroke-width="1.6"/><path d="M509.4,274.2L506.7,272.4L509.1,270.9Z" fill="#000"/><path d="M519.8,270.1L521.4,272.7" stroke="#000" stroke-width="1.6"/><path d="M523.0,275.2L520.2,273.5L522.6,271.9Z" fill="#000"/><path d="M532.1,270.9L534.4,273.0" stroke="#000" stroke-width="1.6"/><path d="M536.7,275.1L533.4,274.1L535.4,271.9Z" fill="#000"/><path d="M547.1,269.6L549.5,271.7" stroke="#000" stroke-width="1.6"/><path d="M551.9,273.7L548.5,272.8L550.5,270.5Z" fill="#000"/><path d="M558.1,270.8L560.7,272.8" stroke="#000" stroke-width="1.6"/><path d="M563.2,274.8L559.7,274.0L561.6,271.6Z" fill="#000"/><path d="M573.8,269.2L576.7,270.9" stroke="#000" stroke-width="1.6"/><path d="M579.6,272.7L575.9,272.3L577.6,269.6Z" fill="#000"/><path d="M586.6,272.0L589.4,273.0" stroke="#000" stroke-width="1.6"/><path d="M592.1,273.9L588.9,274.3L589.8,271.7Z" fill="#000"/><path d="M600.5,270.1L603.5,270.9" stroke="#000" stroke-width="1.6"/><path d="M606.5,271.6L603.1,272.3L603.9,269.4Z" fill="#000"/><path d="M611.9,272.5L614.5,273.5" stroke="#000" stroke-width="1.6"/><path d="M617.2,274.4L614.1,274.7L615.0,272.2Z" fill="#000"/><path d="M393.1,274.3L393.9,279.1" stroke="#000" stroke-width="1.6"/><path d="M394.5,283.1L392.0,279.4L395.8,278.8Z" fill="#000"/><path d="M403.7,279.3L406.4,278.6" stroke="#000" stroke-width="1.6"/><path d="M409.1,277.9L406.8,279.9L406.1,277.3Z" fill="#000"/><path d="M431.5,281.4L434.2,279.9" stroke="#000" stroke-width="1.6"/><path d="M436.8,278.3L434.9,281.1L433.4,278.6Z" fill="#000"/><path d="M442.5,282.7L445.7,281.5" stroke="#000" stroke-width="1.6"/><path d="M448.8,280.2L446.3,283.0L445.1,280.0Z" fill="#000"/><path d="M458.7,280.7L461.7,281.2" stroke="#000" stroke-width="1.6"/><path d="M464.6,281.8L461.4,282.7L462.0,279.8Z" fill="#000"/><path d="M470.1,278.5L473.2,279.7" stroke="#000" stroke-width="1.6"/><path d="M476.4,280.9L472.6,281.2L473.8,278.2Z" fill="#000"/><path d="M484.1,277.6L486.7,278.9" stroke="#000" stroke-width="1.6"/><path d="M489.3,280.2L486.1,280.1L487.3,277.6Z" fill="#000"/><path d="M497.0,279.3L499.6,280.0" stroke="#000" stroke-width="1.6"/><path d="M502.2,280.7L499.3,281.3L499.9,278.7Z" fill="#000"/><path d="M511.0,277.6L513.4,279.0" stroke="#000" stroke-width="1.6"/><path d="M515.8,280.5L512.7,280.2L514.1,277.9Z" fill="#000"/><path d="M399.7,284.7L399.7,289.8" stroke="#000" stroke-width="1.6"/><path d="M399.8,293.8L397.8,289.8L401.7,289.8Z" fill="#000"/><path d="M421.1,287.3L406.6,287.5" stroke="#000" stroke-width="1.6"/><path d="M402.6,287.6L406.6,285.6L406.7,289.5Z" fill="#000"/><path d="M430.4,287.1L427.0,286.7" stroke="#000" stroke-width="1.6"/><path d="M423.7,286.3L427.2,285.1L426.9,288.3Z" fill="#000"/><path d="M452.4,288.2L454.9,288.8" stroke="#000" stroke-width="1.6"/><path d="M457.4,289.3L454.6,290.0L455.2,287.6Z" fill="#000"/><path d="M465.6,287.9L468.2,288.8" stroke="#000" stroke-width="1.6"/><path d="M470.9,289.7L467.8,290.0L468.7,287.5Z" fill="#000"/><path d="M478.7,287.9L481.4,289.0" stroke="#000" stroke-width="1.6"/><path d="M484.1,290.2L480.8,290.3L481.9,287.8Z" fill="#000"/><path d="M491.7,289.0L494.8,288.7" stroke="#000" stroke-width="1.6"/><path d="M497.9,288.5L494.9,290.2L494.7,287.2Z" fill="#000"/><path d="M504.5,286.1L507.2,287.0" stroke="#000" stroke-width="1.6"/><path d="M509.9,287.9L506.7,288.3L507.6,285.7Z" fill="#000"/><path d="M390.2,297.8L393.2,296.8" stroke="#000" stroke-width="1.6"/><path d="M396.2,295.8L393.6,298.2L392.7,295.4Z" fill="#000"/><path d="M429.4,297.3L411.7,297.4" stroke="#000" stroke-width="1.6"/><path d="M407.7,297.4L411.6,295.5L411.7,299.3Z" fill="#000"/><path d="M439.1,295.7L431.7,295.7" stroke="#000" stroke-width="1.6"/><path d="M427.7,295.7L431.7,293.8L431.7,297.7Z" fill="#000"/><path d="M445.6,295.0L447.7,296.1" stroke="#000" stroke-width="1.6"/><path d="M449.7,297.1L447.2,297.0L448.2,295.1Z" fill="#000"/><path d="M458.7,294.1L461.2,294.8" stroke="#000" stroke-width="1.6"/><path d="M463.7,295.4L460.9,295.9L461.5,293.6Z" fill="#000"/><path d="M471.6,295.0L474.2,296.2" stroke="#000" stroke-width="1.6"/><path d="M476.8,297.4L473.6,297.4L474.8,294.9Z" fill="#000"/><path d="M485.7,294.5L488.8,294.6" stroke="#000" stroke-width="1.6"/><path d="M491.9,294.8L488.7,296.1L488.9,293.1Z" fill="#000"/><path d="M497.8,296.8L500.9,296.4" stroke="#000" stroke-width="1.6"/><path d="M503.9,296.0L501.0,297.9L500.7,294.9Z" fill="#000"/><path d="M397.6,304.1L399.8,303.5" stroke="#000" stroke-width="1.6"/><path d="M401.9,302.9L400.1,304.5L399.5,302.5Z" fill="#000"/><path d="M435.2,304.5L424.4,305.0" stroke="#000" stroke-width="1.6"/><path d="M420.4,305.2L424.3,303.1L424.5,306.9Z" fill="#000"/><path d="M442.6,303.0L440.1,304.6" stroke="#000" stroke-width="1.6"/><path d="M437.6,306.3L439.3,303.4L440.9,305.8Z" fill="#000"/><path d="M449.8,304.0L452.4,303.7" stroke="#000" stroke-width="1.6"/><path d="M454.9,303.3L452.5,304.9L452.2,302.4Z" fill="#000"/><path d="M491.7,304.4L494.8,304.3" stroke="#000" stroke-width="1.6"/><path d="M497.8,304.1L494.9,305.7L494.7,302.8Z" fill="#000"/><path d="M504.9,304.3L507.5,303.1" stroke="#000" stroke-width="1.6"/><path d="M510.1,301.8L508.1,304.3L506.9,301.8Z" fill="#000"/><path d="M518.1,304.4L520.6,303.4" stroke="#000" stroke-width="1.6"/><path d="M523.2,302.3L521.1,304.6L520.1,302.1Z" fill="#000"/><path d="M436.6,311.3L434.1,312.8" stroke="#000" stroke-width="1.6"/><path d="M431.6,314.3L433.4,311.6L434.8,314.0Z" fill="#000"/><path d="M458.1,313.3L461.5,311.8" stroke="#000" stroke-width="1.6"/><path d="M464.8,310.4L462.1,313.5L460.8,310.2Z" fill="#000"/><path d="M498.0,314.2L500.6,312.4" stroke="#000" stroke-width="1.6"/><path d="M503.2,310.6L501.5,313.7L499.8,311.2Z" fill="#000"/><path d="M511.2,313.2L513.8,311.9" stroke="#000" stroke-width="1.6"/><path d="M516.4,310.6L514.4,313.2L513.1,310.7Z" fill="#000"/><path d="M525.5,313.4L528.1,312.4" stroke="#000" stroke-width="1.6"/><path d="M530.6,311.4L528.6,313.6L527.6,311.2Z" fill="#000"/><path d="M637.0,265.8L640.0,265.8" stroke="#000" stroke-width="1.8"/><path d="M643.0,265.8L640.0,267.2L640.0,264.4Z" fill="#000"/><path d="M646.0,265.8L649.0,265.8" stroke="#000" stroke-width="1.8"/><path d="M652.0,265.8L649.0,267.2L649.0,264.4Z" fill="#000"/><path d="M655.0,265.8L658.0,265.8" stroke="#000" stroke-width="1.8"/><path d="M661.0,265.8L658.0,267.2L658.0,264.4Z" fill="#000"/><path d="M664.0,265.8L667.0,265.8" stroke="#000" stroke-width="1.8"/><path d="M670.0,265.8L667.0,267.2L667.0,264.4Z" fill="#000"/><path d="M632.0,273.5L635.5,273.5" stroke="#000" stroke-width="1.8"/><path d="M639.0,273.5L635.5,275.2L635.5,271.8Z" fill="#000"/><path d="M641.0,273.5L644.5,273.5" stroke="#000" stroke-width="1.8"/><path d="M648.0,273.5L644.5,275.2L644.5,271.8Z" fill="#000"/><path d="M650.0,273.5L653.5,273.5" stroke="#000" stroke-width="1.8"/><path d="M657.0,273.5L653.5,275.2L653.5,271.8Z" fill="#000"/><path d="M659.0,273.5L662.5,273.5" stroke="#000" stroke-width="1.8"/><path d="M666.0,273.5L662.5,275.2L662.5,271.8Z" fill="#000"/><path d="M668.0,273.5L671.5,273.5" stroke="#000" stroke-width="1.8"/><path d="M675.0,273.5L671.5,275.2L671.5,271.8Z" fill="#000"/><path d="M573.0,278.0L583.0,278.0" stroke="#000" stroke-width="1.8"/><path d="M588.0,278.0L583.0,280.4L583.0,275.6Z" fill="#000"/><path d="M582.0,278.0L592.0,278.0" stroke="#000" stroke-width="1.8"/><path d="M597.0,278.0L592.0,280.4L592.0,275.6Z" fill="#000"/><path d="M591.0,278.0L601.0,278.0" stroke="#000" stroke-width="1.8"/><path d="M606.0,278.0L601.0,280.4L601.0,275.6Z" fill="#000"/><path d="M600.0,278.0L610.0,278.0" stroke="#000" stroke-width="1.8"/><path d="M615.0,278.0L610.0,280.4L610.0,275.6Z" fill="#000"/><path d="M609.0,278.0L619.0,278.0" stroke="#000" stroke-width="1.8"/><path d="M624.0,278.0L619.0,280.4L619.0,275.6Z" fill="#000"/><path d="M622.0,281.5L632.0,281.5" stroke="#000" stroke-width="1.8"/><path d="M637.0,281.5L632.0,283.9L632.0,279.1Z" fill="#000"/><path d="M631.0,281.5L641.0,281.5" stroke="#000" stroke-width="1.8"/><path d="M646.0,281.5L641.0,283.9L641.0,279.1Z" fill="#000"/><path d="M640.0,281.5L650.0,281.5" stroke="#000" stroke-width="1.8"/><path d="M655.0,281.5L650.0,283.9L650.0,279.1Z" fill="#000"/><path d="M649.0,281.5L659.0,281.5" stroke="#000" stroke-width="1.8"/><path d="M664.0,281.5L659.0,283.9L659.0,279.1Z" fill="#000"/><path d="M658.0,281.5L668.0,281.5" stroke="#000" stroke-width="1.8"/><path d="M673.0,281.5L668.0,283.9L668.0,279.1Z" fill="#000"/><path d="M524.0,286.0L534.0,286.0" stroke="#000" stroke-width="1.8"/><path d="M539.0,286.0L534.0,288.4L534.0,283.6Z" fill="#000"/><path d="M534.0,286.0L544.0,286.0" stroke="#000" stroke-width="1.8"/><path d="M549.0,286.0L544.0,288.4L544.0,283.6Z" fill="#000"/><path d="M544.0,286.0L554.0,286.0" stroke="#000" stroke-width="1.8"/><path d="M559.0,286.0L554.0,288.4L554.0,283.6Z" fill="#000"/><path d="M554.0,286.0L564.0,286.0" stroke="#000" stroke-width="1.8"/><path d="M569.0,286.0L564.0,288.4L564.0,283.6Z" fill="#000"/><path d="M564.0,286.0L574.0,286.0" stroke="#000" stroke-width="1.8"/><path d="M579.0,286.0L574.0,288.4L574.0,283.6Z" fill="#000"/><path d="M574.0,286.0L584.0,286.0" stroke="#000" stroke-width="1.8"/><path d="M589.0,286.0L584.0,288.4L584.0,283.6Z" fill="#000"/><path d="M584.0,286.0L594.0,286.0" stroke="#000" stroke-width="1.8"/><path d="M599.0,286.0L594.0,288.4L594.0,283.6Z" fill="#000"/><path d="M594.0,286.0L604.0,286.0" stroke="#000" stroke-width="1.8"/><path d="M609.0,286.0L604.0,288.4L604.0,283.6Z" fill="#000"/><path d="M604.0,286.0L614.0,286.0" stroke="#000" stroke-width="1.8"/><path d="M619.0,286.0L614.0,288.4L614.0,283.6Z" fill="#000"/><path d="M614.0,286.0L624.0,286.0" stroke="#000" stroke-width="1.8"/><path d="M629.0,286.0L624.0,288.4L624.0,283.6Z" fill="#000"/><path d="M625.0,289.5L635.0,289.5" stroke="#000" stroke-width="1.8"/><path d="M640.0,289.5L635.0,291.9L635.0,287.1Z" fill="#000"/><path d="M635.0,289.5L645.0,289.5" stroke="#000" stroke-width="1.8"/><path d="M650.0,289.5L645.0,291.9L645.0,287.1Z" fill="#000"/><path d="M645.0,289.5L655.0,289.5" stroke="#000" stroke-width="1.8"/><path d="M660.0,289.5L655.0,291.9L655.0,287.1Z" fill="#000"/><path d="M655.0,289.5L665.0,289.5" stroke="#000" stroke-width="1.8"/><path d="M670.0,289.5L665.0,291.9L665.0,287.1Z" fill="#000"/><path d="M524.0,293.0L534.0,293.0" stroke="#000" stroke-width="1.8"/><path d="M539.0,293.0L534.0,295.4L534.0,290.6Z" fill="#000"/><path d="M534.0,293.0L544.0,293.0" stroke="#000" stroke-width="1.8"/><path d="M549.0,293.0L544.0,295.4L544.0,290.6Z" fill="#000"/><path d="M544.0,293.0L554.0,293.0" stroke="#000" stroke-width="1.8"/><path d="M559.0,293.0L554.0,295.4L554.0,290.6Z" fill="#000"/><path d="M554.0,293.0L564.0,293.0" stroke="#000" stroke-width="1.8"/><path d="M569.0,293.0L564.0,295.4L564.0,290.6Z" fill="#000"/><path d="M564.0,293.0L574.0,293.0" stroke="#000" stroke-width="1.8"/><path d="M579.0,293.0L574.0,295.4L574.0,290.6Z" fill="#000"/><path d="M574.0,293.0L584.0,293.0" stroke="#000" stroke-width="1.8"/><path d="M589.0,293.0L584.0,295.4L584.0,290.6Z" fill="#000"/><path d="M584.0,293.0L594.0,293.0" stroke="#000" stroke-width="1.8"/><path d="M599.0,293.0L594.0,295.4L594.0,290.6Z" fill="#000"/><path d="M594.0,293.0L604.0,293.0" stroke="#000" stroke-width="1.8"/><path d="M609.0,293.0L604.0,295.4L604.0,290.6Z" fill="#000"/><path d="M604.0,293.0L614.0,293.0" stroke="#000" stroke-width="1.8"/><path d="M619.0,293.0L614.0,295.4L614.0,290.6Z" fill="#000"/><path d="M614.0,293.0L624.0,293.0" stroke="#000" stroke-width="1.8"/><path d="M629.0,293.0L624.0,295.4L624.0,290.6Z" fill="#000"/><path d="M624.0,293.0L634.0,293.0" stroke="#000" stroke-width="1.8"/><path d="M639.0,293.0L634.0,295.4L634.0,290.6Z" fill="#000"/><path d="M628.0,297.5L638.0,297.5" stroke="#000" stroke-width="1.8"/><path d="M643.0,297.5L638.0,299.9L638.0,295.1Z" fill="#000"/><path d="M638.0,297.5L648.0,297.5" stroke="#000" stroke-width="1.8"/><path d="M653.0,297.5L648.0,299.9L648.0,295.1Z" fill="#000"/><path d="M648.0,297.5L658.0,297.5" stroke="#000" stroke-width="1.8"/><path d="M663.0,297.5L658.0,299.9L658.0,295.1Z" fill="#000"/><path d="M658.0,297.5L668.0,297.5" stroke="#000" stroke-width="1.8"/><path d="M673.0,297.5L668.0,299.9L668.0,295.1Z" fill="#000"/><path d="M559.0,301.0L568.0,301.0" stroke="#000" stroke-width="1.8"/><path d="M573.0,301.0L568.0,303.4L568.0,298.6Z" fill="#000"/><path d="M568.0,301.0L577.0,301.0" stroke="#000" stroke-width="1.8"/><path d="M582.0,301.0L577.0,303.4L577.0,298.6Z" fill="#000"/><path d="M577.0,301.0L586.0,301.0" stroke="#000" stroke-width="1.8"/><path d="M591.0,301.0L586.0,303.4L586.0,298.6Z" fill="#000"/><path d="M586.0,301.0L595.0,301.0" stroke="#000" stroke-width="1.8"/><path d="M600.0,301.0L595.0,303.4L595.0,298.6Z" fill="#000"/><path d="M595.0,301.0L604.0,301.0" stroke="#000" stroke-width="1.8"/><path d="M609.0,301.0L604.0,303.4L604.0,298.6Z" fill="#000"/><path d="M604.0,301.0L613.0,301.0" stroke="#000" stroke-width="1.8"/><path d="M618.0,301.0L613.0,303.4L613.0,298.6Z" fill="#000"/><path d="M613.0,301.0L622.0,301.0" stroke="#000" stroke-width="1.8"/><path d="M627.0,301.0L622.0,303.4L622.0,298.6Z" fill="#000"/><path d="M630.0,305.0L639.0,305.0" stroke="#000" stroke-width="1.8"/><path d="M644.0,305.0L639.0,307.4L639.0,302.6Z" fill="#000"/><path d="M639.0,305.0L648.0,305.0" stroke="#000" stroke-width="1.8"/><path d="M653.0,305.0L648.0,307.4L648.0,302.6Z" fill="#000"/><path d="M648.0,305.0L657.0,305.0" stroke="#000" stroke-width="1.8"/><path d="M662.0,305.0L657.0,307.4L657.0,302.6Z" fill="#000"/><path d="M657.0,305.0L666.0,305.0" stroke="#000" stroke-width="1.8"/><path d="M671.0,305.0L666.0,307.4L666.0,302.6Z" fill="#000"/><path d="M602.0,308.5L606.5,308.5" stroke="#000" stroke-width="1.8"/><path d="M611.0,308.5L606.5,310.7L606.5,306.3Z" fill="#000"/><path d="M611.0,308.5L615.5,308.5" stroke="#000" stroke-width="1.8"/><path d="M620.0,308.5L615.5,310.7L615.5,306.3Z" fill="#000"/><path d="M620.0,308.5L624.5,308.5" stroke="#000" stroke-width="1.8"/><path d="M629.0,308.5L624.5,310.7L624.5,306.3Z" fill="#000"/></g><rect x="301.2" y="213" width="14.5" height="17.2" fill="#fff" stroke="#555" stroke-width="0.8"/><text x="308.5" y="219.8" font-size="7.5" text-anchor="middle" fill="#333">2.5</text><path d="M302.3,224.6L310.5,224.6" stroke="#000" stroke-width="1.3"/><path d="M314.1,224.6L310.5,226.3L310.5,222.9Z" fill="#000"/><rect x="663.5" y="213" width="14.3" height="17" fill="#fff" stroke="#555" stroke-width="0.8"/><text x="670.5" y="220" font-size="7.5" text-anchor="middle" fill="#333">1</text><path d="M664.5,224.6L672.7,224.6" stroke="#000" stroke-width="1.3"/><path d="M676.3,224.6L672.7,226.3L672.7,222.9Z" fill="#000"/><rect x="173.6" y="37.5" width="363.4" height="102.0" fill="none" stroke="#3a3a3a" stroke-width="1"/><rect x="27.5" y="213.4" width="288.4" height="102.79999999999998" fill="none" stroke="#3a3a3a" stroke-width="1"/><rect x="390.3" y="213.4" width="287.49999999999994" height="102.79999999999998" fill="none" stroke="#3a3a3a" stroke-width="1"/><line x1="173.6" y1="139.5" x2="173.6" y2="142.0" stroke="#444" stroke-width="0.8"/><line x1="185.0" y1="139.5" x2="185.0" y2="142.0" stroke="#444" stroke-width="0.8"/><line x1="196.3" y1="139.5" x2="196.3" y2="142.0" stroke="#444" stroke-width="0.8"/><line x1="207.7" y1="139.5" x2="207.7" y2="142.0" stroke="#444" stroke-width="0.8"/><line x1="219.0" y1="139.5" x2="219.0" y2="142.0" stroke="#444" stroke-width="0.8"/><line x1="230.4" y1="139.5" x2="230.4" y2="142.0" stroke="#444" stroke-width="0.8"/><line x1="241.7" y1="139.5" x2="241.7" y2="142.0" stroke="#444" stroke-width="0.8"/><line x1="253.1" y1="139.5" x2="253.1" y2="142.0" stroke="#444" stroke-width="0.8"/><line x1="264.4" y1="139.5" x2="264.4" y2="142.0" stroke="#444" stroke-width="0.8"/><line x1="275.8" y1="139.5" x2="275.8" y2="142.0" stroke="#444" stroke-width="0.8"/><line x1="287.2" y1="139.5" x2="287.2" y2="142.0" stroke="#444" stroke-width="0.8"/><line x1="298.5" y1="139.5" x2="298.5" y2="142.0" stroke="#444" stroke-width="0.8"/><line x1="309.9" y1="139.5" x2="309.9" y2="142.0" stroke="#444" stroke-width="0.8"/><line x1="321.2" y1="139.5" x2="321.2" y2="142.0" stroke="#444" stroke-width="0.8"/><line x1="332.6" y1="139.5" x2="332.6" y2="142.0" stroke="#444" stroke-width="0.8"/><line x1="343.9" y1="139.5" x2="343.9" y2="142.0" stroke="#444" stroke-width="0.8"/><line x1="355.3" y1="139.5" x2="355.3" y2="142.0" stroke="#444" stroke-width="0.8"/><line x1="366.7" y1="139.5" x2="366.7" y2="142.0" stroke="#444" stroke-width="0.8"/><line x1="378.0" y1="139.5" x2="378.0" y2="142.0" stroke="#444" stroke-width="0.8"/><line x1="389.4" y1="139.5" x2="389.4" y2="142.0" stroke="#444" stroke-width="0.8"/><line x1="400.7" y1="139.5" x2="400.7" y2="142.0" stroke="#444" stroke-width="0.8"/><line x1="412.1" y1="139.5" x2="412.1" y2="142.0" stroke="#444" stroke-width="0.8"/><line x1="423.4" y1="139.5" x2="423.4" y2="142.0" stroke="#444" stroke-width="0.8"/><line x1="434.8" y1="139.5" x2="434.8" y2="142.0" stroke="#444" stroke-width="0.8"/><line x1="446.1" y1="139.5" x2="446.1" y2="142.0" stroke="#444" stroke-width="0.8"/><line x1="457.5" y1="139.5" x2="457.5" y2="142.0" stroke="#444" stroke-width="0.8"/><line x1="468.9" y1="139.5" x2="468.9" y2="142.0" stroke="#444" stroke-width="0.8"/><line x1="480.2" y1="139.5" x2="480.2" y2="142.0" stroke="#444" stroke-width="0.8"/><line x1="491.6" y1="139.5" x2="491.6" y2="142.0" stroke="#444" stroke-width="0.8"/><line x1="502.9" y1="139.5" x2="502.9" y2="142.0" stroke="#444" stroke-width="0.8"/><line x1="514.3" y1="139.5" x2="514.3" y2="142.0" stroke="#444" stroke-width="0.8"/><line x1="525.6" y1="139.5" x2="525.6" y2="142.0" stroke="#444" stroke-width="0.8"/><line x1="537.0" y1="139.5" x2="537.0" y2="142.0" stroke="#444" stroke-width="0.8"/><line x1="196.3" y1="139.5" x2="196.3" y2="144.0" stroke="#444" stroke-width="0.8"/><line x1="230.4" y1="139.5" x2="230.4" y2="144.0" stroke="#444" stroke-width="0.8"/><line x1="264.4" y1="139.5" x2="264.4" y2="144.0" stroke="#444" stroke-width="0.8"/><line x1="298.5" y1="139.5" x2="298.5" y2="144.0" stroke="#444" stroke-width="0.8"/><line x1="332.6" y1="139.5" x2="332.6" y2="144.0" stroke="#444" stroke-width="0.8"/><line x1="366.7" y1="139.5" x2="366.7" y2="144.0" stroke="#444" stroke-width="0.8"/><line x1="400.7" y1="139.5" x2="400.7" y2="144.0" stroke="#444" stroke-width="0.8"/><line x1="434.8" y1="139.5" x2="434.8" y2="144.0" stroke="#444" stroke-width="0.8"/><line x1="468.9" y1="139.5" x2="468.9" y2="144.0" stroke="#444" stroke-width="0.8"/><line x1="502.9" y1="139.5" x2="502.9" y2="144.0" stroke="#444" stroke-width="0.8"/><line x1="537.0" y1="139.5" x2="537.0" y2="144.0" stroke="#444" stroke-width="0.8"/><line x1="173.6" y1="139.5" x2="171.1" y2="139.5" stroke="#444" stroke-width="0.8"/><line x1="537" y1="139.5" x2="539.5" y2="139.5" stroke="#444" stroke-width="0.8"/><line x1="173.6" y1="128.2" x2="171.1" y2="128.2" stroke="#444" stroke-width="0.8"/><line x1="537" y1="128.2" x2="539.5" y2="128.2" stroke="#444" stroke-width="0.8"/><line x1="173.6" y1="116.8" x2="171.1" y2="116.8" stroke="#444" stroke-width="0.8"/><line x1="537" y1="116.8" x2="539.5" y2="116.8" stroke="#444" stroke-width="0.8"/><line x1="173.6" y1="105.5" x2="171.1" y2="105.5" stroke="#444" stroke-width="0.8"/><line x1="537" y1="105.5" x2="539.5" y2="105.5" stroke="#444" stroke-width="0.8"/><line x1="173.6" y1="94.2" x2="171.1" y2="94.2" stroke="#444" stroke-width="0.8"/><line x1="537" y1="94.2" x2="539.5" y2="94.2" stroke="#444" stroke-width="0.8"/><line x1="173.6" y1="82.8" x2="171.1" y2="82.8" stroke="#444" stroke-width="0.8"/><line x1="537" y1="82.8" x2="539.5" y2="82.8" stroke="#444" stroke-width="0.8"/><line x1="173.6" y1="71.5" x2="171.1" y2="71.5" stroke="#444" stroke-width="0.8"/><line x1="537" y1="71.5" x2="539.5" y2="71.5" stroke="#444" stroke-width="0.8"/><line x1="173.6" y1="60.2" x2="171.1" y2="60.2" stroke="#444" stroke-width="0.8"/><line x1="537" y1="60.2" x2="539.5" y2="60.2" stroke="#444" stroke-width="0.8"/><line x1="173.6" y1="48.8" x2="171.1" y2="48.8" stroke="#444" stroke-width="0.8"/><line x1="537" y1="48.8" x2="539.5" y2="48.8" stroke="#444" stroke-width="0.8"/><line x1="173.6" y1="37.5" x2="171.1" y2="37.5" stroke="#444" stroke-width="0.8"/><line x1="537" y1="37.5" x2="539.5" y2="37.5" stroke="#444" stroke-width="0.8"/><line x1="173.6" y1="128.2" x2="169.1" y2="128.2" stroke="#444" stroke-width="0.8"/><line x1="537" y1="128.2" x2="541.5" y2="128.2" stroke="#444" stroke-width="0.8"/><line x1="173.6" y1="94.2" x2="169.1" y2="94.2" stroke="#444" stroke-width="0.8"/><line x1="537" y1="94.2" x2="541.5" y2="94.2" stroke="#444" stroke-width="0.8"/><line x1="173.6" y1="60.2" x2="169.1" y2="60.2" stroke="#444" stroke-width="0.8"/><line x1="537" y1="60.2" x2="541.5" y2="60.2" stroke="#444" stroke-width="0.8"/><text x="196.3" y="158" font-size="10" text-anchor="middle">60W</text><text x="230.4" y="158" font-size="10" text-anchor="middle">30W</text><text x="264.4" y="158" font-size="10" text-anchor="middle">0</text><text x="298.5" y="158" font-size="10" text-anchor="middle">30E</text><text x="332.6" y="158" font-size="10" text-anchor="middle">60E</text><text x="366.7" y="158" font-size="10" text-anchor="middle">90E</text><text x="400.7" y="158" font-size="10" text-anchor="middle">120E</text><text x="434.8" y="158" font-size="10" text-anchor="middle">150E</text><text x="468.9" y="158" font-size="10" text-anchor="middle">180</text><text x="502.9" y="158" font-size="10" text-anchor="middle">150W</text><text x="537.0" y="158" font-size="10" text-anchor="middle">120W</text><text x="164" y="131.8" font-size="10" text-anchor="end">0</text><text x="164" y="97.8" font-size="10" text-anchor="end">30N</text><text x="164" y="63.8" font-size="10" text-anchor="end">60N</text><line x1="27.5" y1="316.2" x2="27.5" y2="318.7" stroke="#444" stroke-width="0.8"/><line x1="48.1" y1="316.2" x2="48.1" y2="318.7" stroke="#444" stroke-width="0.8"/><line x1="68.7" y1="316.2" x2="68.7" y2="318.7" stroke="#444" stroke-width="0.8"/><line x1="89.3" y1="316.2" x2="89.3" y2="318.7" stroke="#444" stroke-width="0.8"/><line x1="109.9" y1="316.2" x2="109.9" y2="318.7" stroke="#444" stroke-width="0.8"/><line x1="130.5" y1="316.2" x2="130.5" y2="318.7" stroke="#444" stroke-width="0.8"/><line x1="151.1" y1="316.2" x2="151.1" y2="318.7" stroke="#444" stroke-width="0.8"/><line x1="171.7" y1="316.2" x2="171.7" y2="318.7" stroke="#444" stroke-width="0.8"/><line x1="192.3" y1="316.2" x2="192.3" y2="318.7" stroke="#444" stroke-width="0.8"/><line x1="212.9" y1="316.2" x2="212.9" y2="318.7" stroke="#444" stroke-width="0.8"/><line x1="233.5" y1="316.2" x2="233.5" y2="318.7" stroke="#444" stroke-width="0.8"/><line x1="254.1" y1="316.2" x2="254.1" y2="318.7" stroke="#444" stroke-width="0.8"/><line x1="274.7" y1="316.2" x2="274.7" y2="318.7" stroke="#444" stroke-width="0.8"/><line x1="295.3" y1="316.2" x2="295.3" y2="318.7" stroke="#444" stroke-width="0.8"/><line x1="315.9" y1="316.2" x2="315.9" y2="318.7" stroke="#444" stroke-width="0.8"/><line x1="68.7" y1="316.2" x2="68.7" y2="320.7" stroke="#444" stroke-width="0.8"/><line x1="130.5" y1="316.2" x2="130.5" y2="320.7" stroke="#444" stroke-width="0.8"/><line x1="192.3" y1="316.2" x2="192.3" y2="320.7" stroke="#444" stroke-width="0.8"/><line x1="254.1" y1="316.2" x2="254.1" y2="320.7" stroke="#444" stroke-width="0.8"/><line x1="315.9" y1="316.2" x2="315.9" y2="320.7" stroke="#444" stroke-width="0.8"/><line x1="27.5" y1="316.2" x2="25.0" y2="316.2" stroke="#444" stroke-width="0.8"/><line x1="315.9" y1="316.2" x2="318.4" y2="316.2" stroke="#444" stroke-width="0.8"/><line x1="27.5" y1="305.9" x2="25.0" y2="305.9" stroke="#444" stroke-width="0.8"/><line x1="315.9" y1="305.9" x2="318.4" y2="305.9" stroke="#444" stroke-width="0.8"/><line x1="27.5" y1="295.6" x2="25.0" y2="295.6" stroke="#444" stroke-width="0.8"/><line x1="315.9" y1="295.6" x2="318.4" y2="295.6" stroke="#444" stroke-width="0.8"/><line x1="27.5" y1="285.4" x2="25.0" y2="285.4" stroke="#444" stroke-width="0.8"/><line x1="315.9" y1="285.4" x2="318.4" y2="285.4" stroke="#444" stroke-width="0.8"/><line x1="27.5" y1="275.1" x2="25.0" y2="275.1" stroke="#444" stroke-width="0.8"/><line x1="315.9" y1="275.1" x2="318.4" y2="275.1" stroke="#444" stroke-width="0.8"/><line x1="27.5" y1="264.8" x2="25.0" y2="264.8" stroke="#444" stroke-width="0.8"/><line x1="315.9" y1="264.8" x2="318.4" y2="264.8" stroke="#444" stroke-width="0.8"/><line x1="27.5" y1="254.5" x2="25.0" y2="254.5" stroke="#444" stroke-width="0.8"/><line x1="315.9" y1="254.5" x2="318.4" y2="254.5" stroke="#444" stroke-width="0.8"/><line x1="27.5" y1="244.2" x2="25.0" y2="244.2" stroke="#444" stroke-width="0.8"/><line x1="315.9" y1="244.2" x2="318.4" y2="244.2" stroke="#444" stroke-width="0.8"/><line x1="27.5" y1="234.0" x2="25.0" y2="234.0" stroke="#444" stroke-width="0.8"/><line x1="315.9" y1="234.0" x2="318.4" y2="234.0" stroke="#444" stroke-width="0.8"/><line x1="27.5" y1="223.7" x2="25.0" y2="223.7" stroke="#444" stroke-width="0.8"/><line x1="315.9" y1="223.7" x2="318.4" y2="223.7" stroke="#444" stroke-width="0.8"/><line x1="27.5" y1="213.4" x2="25.0" y2="213.4" stroke="#444" stroke-width="0.8"/><line x1="315.9" y1="213.4" x2="318.4" y2="213.4" stroke="#444" stroke-width="0.8"/><line x1="27.5" y1="295.6" x2="23.0" y2="295.6" stroke="#444" stroke-width="0.8"/><line x1="315.9" y1="295.6" x2="320.4" y2="295.6" stroke="#444" stroke-width="0.8"/><line x1="27.5" y1="254.5" x2="23.0" y2="254.5" stroke="#444" stroke-width="0.8"/><line x1="315.9" y1="254.5" x2="320.4" y2="254.5" stroke="#444" stroke-width="0.8"/><line x1="27.5" y1="213.4" x2="23.0" y2="213.4" stroke="#444" stroke-width="0.8"/><line x1="315.9" y1="213.4" x2="320.4" y2="213.4" stroke="#444" stroke-width="0.8"/><text x="68.7" y="333.3" font-size="10" text-anchor="middle">60E</text><text x="130.5" y="333.3" font-size="10" text-anchor="middle">90E</text><text x="192.3" y="333.3" font-size="10" text-anchor="middle">120E</text><text x="254.1" y="333.3" font-size="10" text-anchor="middle">150E</text><text x="315.9" y="333.3" font-size="10" text-anchor="middle">180</text><text x="19.5" y="299.2" font-size="10" text-anchor="end">0</text><text x="19.5" y="258.1" font-size="10" text-anchor="end">20N</text><text x="19.5" y="217.0" font-size="10" text-anchor="end">40N</text><line x1="390.3" y1="316.2" x2="390.3" y2="318.7" stroke="#444" stroke-width="0.8"/><line x1="410.8" y1="316.2" x2="410.8" y2="318.7" stroke="#444" stroke-width="0.8"/><line x1="431.4" y1="316.2" x2="431.4" y2="318.7" stroke="#444" stroke-width="0.8"/><line x1="451.9" y1="316.2" x2="451.9" y2="318.7" stroke="#444" stroke-width="0.8"/><line x1="472.4" y1="316.2" x2="472.4" y2="318.7" stroke="#444" stroke-width="0.8"/><line x1="493.0" y1="316.2" x2="493.0" y2="318.7" stroke="#444" stroke-width="0.8"/><line x1="513.5" y1="316.2" x2="513.5" y2="318.7" stroke="#444" stroke-width="0.8"/><line x1="534.0" y1="316.2" x2="534.0" y2="318.7" stroke="#444" stroke-width="0.8"/><line x1="554.6" y1="316.2" x2="554.6" y2="318.7" stroke="#444" stroke-width="0.8"/><line x1="575.1" y1="316.2" x2="575.1" y2="318.7" stroke="#444" stroke-width="0.8"/><line x1="595.7" y1="316.2" x2="595.7" y2="318.7" stroke="#444" stroke-width="0.8"/><line x1="616.2" y1="316.2" x2="616.2" y2="318.7" stroke="#444" stroke-width="0.8"/><line x1="636.7" y1="316.2" x2="636.7" y2="318.7" stroke="#444" stroke-width="0.8"/><line x1="657.3" y1="316.2" x2="657.3" y2="318.7" stroke="#444" stroke-width="0.8"/><line x1="677.8" y1="316.2" x2="677.8" y2="318.7" stroke="#444" stroke-width="0.8"/><line x1="431.4" y1="316.2" x2="431.4" y2="320.7" stroke="#444" stroke-width="0.8"/><line x1="493.0" y1="316.2" x2="493.0" y2="320.7" stroke="#444" stroke-width="0.8"/><line x1="554.6" y1="316.2" x2="554.6" y2="320.7" stroke="#444" stroke-width="0.8"/><line x1="616.2" y1="316.2" x2="616.2" y2="320.7" stroke="#444" stroke-width="0.8"/><line x1="677.8" y1="316.2" x2="677.8" y2="320.7" stroke="#444" stroke-width="0.8"/><line x1="390.3" y1="316.2" x2="387.8" y2="316.2" stroke="#444" stroke-width="0.8"/><line x1="677.8" y1="316.2" x2="680.3" y2="316.2" stroke="#444" stroke-width="0.8"/><line x1="390.3" y1="305.9" x2="387.8" y2="305.9" stroke="#444" stroke-width="0.8"/><line x1="677.8" y1="305.9" x2="680.3" y2="305.9" stroke="#444" stroke-width="0.8"/><line x1="390.3" y1="295.6" x2="387.8" y2="295.6" stroke="#444" stroke-width="0.8"/><line x1="677.8" y1="295.6" x2="680.3" y2="295.6" stroke="#444" stroke-width="0.8"/><line x1="390.3" y1="285.4" x2="387.8" y2="285.4" stroke="#444" stroke-width="0.8"/><line x1="677.8" y1="285.4" x2="680.3" y2="285.4" stroke="#444" stroke-width="0.8"/><line x1="390.3" y1="275.1" x2="387.8" y2="275.1" stroke="#444" stroke-width="0.8"/><line x1="677.8" y1="275.1" x2="680.3" y2="275.1" stroke="#444" stroke-width="0.8"/><line x1="390.3" y1="264.8" x2="387.8" y2="264.8" stroke="#444" stroke-width="0.8"/><line x1="677.8" y1="264.8" x2="680.3" y2="264.8" stroke="#444" stroke-width="0.8"/><line x1="390.3" y1="254.5" x2="387.8" y2="254.5" stroke="#444" stroke-width="0.8"/><line x1="677.8" y1="254.5" x2="680.3" y2="254.5" stroke="#444" stroke-width="0.8"/><line x1="390.3" y1="244.2" x2="387.8" y2="244.2" stroke="#444" stroke-width="0.8"/><line x1="677.8" y1="244.2" x2="680.3" y2="244.2" stroke="#444" stroke-width="0.8"/><line x1="390.3" y1="234.0" x2="387.8" y2="234.0" stroke="#444" stroke-width="0.8"/><line x1="677.8" y1="234.0" x2="680.3" y2="234.0" stroke="#444" stroke-width="0.8"/><line x1="390.3" y1="223.7" x2="387.8" y2="223.7" stroke="#444" stroke-width="0.8"/><line x1="677.8" y1="223.7" x2="680.3" y2="223.7" stroke="#444" stroke-width="0.8"/><line x1="390.3" y1="213.4" x2="387.8" y2="213.4" stroke="#444" stroke-width="0.8"/><line x1="677.8" y1="213.4" x2="680.3" y2="213.4" stroke="#444" stroke-width="0.8"/><line x1="390.3" y1="295.6" x2="385.8" y2="295.6" stroke="#444" stroke-width="0.8"/><line x1="677.8" y1="295.6" x2="682.3" y2="295.6" stroke="#444" stroke-width="0.8"/><line x1="390.3" y1="254.5" x2="385.8" y2="254.5" stroke="#444" stroke-width="0.8"/><line x1="677.8" y1="254.5" x2="682.3" y2="254.5" stroke="#444" stroke-width="0.8"/><line x1="390.3" y1="213.4" x2="385.8" y2="213.4" stroke="#444" stroke-width="0.8"/><line x1="677.8" y1="213.4" x2="682.3" y2="213.4" stroke="#444" stroke-width="0.8"/><text x="431.4" y="333.3" font-size="10" text-anchor="middle">60E</text><text x="493.0" y="333.3" font-size="10" text-anchor="middle">90E</text><text x="554.6" y="333.3" font-size="10" text-anchor="middle">120E</text><text x="616.2" y="333.3" font-size="10" text-anchor="middle">150E</text><text x="677.8" y="333.3" font-size="10" text-anchor="middle">180</text><text x="382.3" y="299.2" font-size="10" text-anchor="end">0</text><text x="382.3" y="258.1" font-size="10" text-anchor="end">20N</text><text x="382.3" y="217.0" font-size="10" text-anchor="end">40N</text><rect x="147.20" y="168" width="10.84" height="9.300000000000011" fill="#8250d8"/><rect x="157.74" y="168" width="10.84" height="9.300000000000011" fill="#6a48d8"/><rect x="168.28" y="168" width="10.84" height="9.300000000000011" fill="#4a30d0"/><rect x="178.82" y="168" width="10.84" height="9.300000000000011" fill="#2818d0"/><rect x="189.36" y="168" width="10.84" height="9.300000000000011" fill="#0000d8"/><rect x="199.90" y="168" width="10.84" height="9.300000000000011" fill="#1020e0"/><rect x="210.44" y="168" width="10.84" height="9.300000000000011" fill="#2038e0"/><rect x="220.98" y="168" width="10.84" height="9.300000000000011" fill="#2848e0"/><rect x="231.52" y="168" width="10.84" height="9.300000000000011" fill="#3860e8"/><rect x="242.06" y="168" width="10.84" height="9.300000000000011" fill="#4870e8"/><rect x="252.59" y="168" width="10.84" height="9.300000000000011" fill="#5078e8"/><rect x="263.13" y="168" width="10.84" height="9.300000000000011" fill="#6488e8"/><rect x="273.67" y="168" width="10.84" height="9.300000000000011" fill="#6c8ce8"/><rect x="284.21" y="168" width="10.84" height="9.300000000000011" fill="#78a0f0"/><rect x="294.75" y="168" width="10.84" height="9.300000000000011" fill="#88b8e8"/><rect x="305.29" y="168" width="10.84" height="9.300000000000011" fill="#90cce8"/><rect x="315.83" y="168" width="10.84" height="9.300000000000011" fill="#a0dce0"/><rect x="326.37" y="168" width="10.84" height="9.300000000000011" fill="#a8e0e0"/><rect x="336.91" y="168" width="10.84" height="9.300000000000011" fill="#ffffff"/><rect x="347.45" y="168" width="10.84" height="9.300000000000011" fill="#ffffff"/><rect x="357.99" y="168" width="10.84" height="9.300000000000011" fill="#f0d8a8"/><rect x="368.53" y="168" width="10.84" height="9.300000000000011" fill="#e0b880"/><rect x="379.07" y="168" width="10.84" height="9.300000000000011" fill="#f0c050"/><rect x="389.61" y="168" width="10.84" height="9.300000000000011" fill="#ffe000"/><rect x="400.15" y="168" width="10.84" height="9.300000000000011" fill="#ffc800"/><rect x="410.69" y="168" width="10.84" height="9.300000000000011" fill="#ffa800"/><rect x="421.23" y="168" width="10.84" height="9.300000000000011" fill="#ff8800"/><rect x="431.77" y="168" width="10.84" height="9.300000000000011" fill="#ff7000"/><rect x="442.31" y="168" width="10.84" height="9.300000000000011" fill="#ff5800"/><rect x="452.84" y="168" width="10.84" height="9.300000000000011" fill="#ff4000"/><rect x="463.38" y="168" width="10.84" height="9.300000000000011" fill="#f04010"/><rect x="473.92" y="168" width="10.84" height="9.300000000000011" fill="#e03018"/><rect x="484.46" y="168" width="10.84" height="9.300000000000011" fill="#d02828"/><rect x="495.00" y="168" width="10.84" height="9.300000000000011" fill="#b82028"/><rect x="505.54" y="168" width="10.84" height="9.300000000000011" fill="#c83840"/><rect x="516.08" y="168" width="10.84" height="9.300000000000011" fill="#d85058"/><rect x="526.62" y="168" width="10.84" height="9.300000000000011" fill="#e07078"/><rect x="537.16" y="168" width="10.84" height="9.300000000000011" fill="#f0a0a8"/><line x1="157.74" y1="168" x2="157.74" y2="177.3" stroke="#222" stroke-width="0.6" stroke-opacity="0.8"/><line x1="168.28" y1="168" x2="168.28" y2="177.3" stroke="#222" stroke-width="0.6" stroke-opacity="0.8"/><line x1="178.82" y1="168" x2="178.82" y2="177.3" stroke="#222" stroke-width="0.6" stroke-opacity="0.8"/><line x1="189.36" y1="168" x2="189.36" y2="177.3" stroke="#222" stroke-width="0.6" stroke-opacity="0.8"/><line x1="199.90" y1="168" x2="199.90" y2="177.3" stroke="#222" stroke-width="0.6" stroke-opacity="0.8"/><line x1="210.44" y1="168" x2="210.44" y2="177.3" stroke="#222" stroke-width="0.6" stroke-opacity="0.8"/><line x1="220.98" y1="168" x2="220.98" y2="177.3" stroke="#222" stroke-width="0.6" stroke-opacity="0.8"/><line x1="231.52" y1="168" x2="231.52" y2="177.3" stroke="#222" stroke-width="0.6" stroke-opacity="0.8"/><line x1="242.06" y1="168" x2="242.06" y2="177.3" stroke="#222" stroke-width="0.6" stroke-opacity="0.8"/><line x1="252.59" y1="168" x2="252.59" y2="177.3" stroke="#222" stroke-width="0.6" stroke-opacity="0.8"/><line x1="263.13" y1="168" x2="263.13" y2="177.3" stroke="#222" stroke-width="0.6" stroke-opacity="0.8"/><line x1="273.67" y1="168" x2="273.67" y2="177.3" stroke="#222" stroke-width="0.6" stroke-opacity="0.8"/><line x1="284.21" y1="168" x2="284.21" y2="177.3" stroke="#222" stroke-width="0.6" stroke-opacity="0.8"/><line x1="294.75" y1="168" x2="294.75" y2="177.3" stroke="#222" stroke-width="0.6" stroke-opacity="0.8"/><line x1="305.29" y1="168" x2="305.29" y2="177.3" stroke="#222" stroke-width="0.6" stroke-opacity="0.8"/><line x1="315.83" y1="168" x2="315.83" y2="177.3" stroke="#222" stroke-width="0.6" stroke-opacity="0.8"/><line x1="326.37" y1="168" x2="326.37" y2="177.3" stroke="#222" stroke-width="0.6" stroke-opacity="0.8"/><line x1="336.91" y1="168" x2="336.91" y2="177.3" stroke="#222" stroke-width="0.6" stroke-opacity="0.8"/><line x1="347.45" y1="168" x2="347.45" y2="177.3" stroke="#222" stroke-width="0.6" stroke-opacity="0.8"/><line x1="357.99" y1="168" x2="357.99" y2="177.3" stroke="#222" stroke-width="0.6" stroke-opacity="0.8"/><line x1="368.53" y1="168" x2="368.53" y2="177.3" stroke="#222" stroke-width="0.6" stroke-opacity="0.8"/><line x1="379.07" y1="168" x2="379.07" y2="177.3" stroke="#222" stroke-width="0.6" stroke-opacity="0.8"/><line x1="389.61" y1="168" x2="389.61" y2="177.3" stroke="#222" stroke-width="0.6" stroke-opacity="0.8"/><line x1="400.15" y1="168" x2="400.15" y2="177.3" stroke="#222" stroke-width="0.6" stroke-opacity="0.8"/><line x1="410.69" y1="168" x2="410.69" y2="177.3" stroke="#222" stroke-width="0.6" stroke-opacity="0.8"/><line x1="421.23" y1="168" x2="421.23" y2="177.3" stroke="#222" stroke-width="0.6" stroke-opacity="0.8"/><line x1="431.77" y1="168" x2="431.77" y2="177.3" stroke="#222" stroke-width="0.6" stroke-opacity="0.8"/><line x1="442.31" y1="168" x2="442.31" y2="177.3" stroke="#222" stroke-width="0.6" stroke-opacity="0.8"/><line x1="452.84" y1="168" x2="452.84" y2="177.3" stroke="#222" stroke-width="0.6" stroke-opacity="0.8"/><line x1="463.38" y1="168" x2="463.38" y2="177.3" stroke="#222" stroke-width="0.6" stroke-opacity="0.8"/><line x1="473.92" y1="168" x2="473.92" y2="177.3" stroke="#222" stroke-width="0.6" stroke-opacity="0.8"/><line x1="484.46" y1="168" x2="484.46" y2="177.3" stroke="#222" stroke-width="0.6" stroke-opacity="0.8"/><line x1="495.00" y1="168" x2="495.00" y2="177.3" stroke="#222" stroke-width="0.6" stroke-opacity="0.8"/><line x1="505.54" y1="168" x2="505.54" y2="177.3" stroke="#222" stroke-width="0.6" stroke-opacity="0.8"/><line x1="516.08" y1="168" x2="516.08" y2="177.3" stroke="#222" stroke-width="0.6" stroke-opacity="0.8"/><line x1="526.62" y1="168" x2="526.62" y2="177.3" stroke="#222" stroke-width="0.6" stroke-opacity="0.8"/><line x1="537.16" y1="168" x2="537.16" y2="177.3" stroke="#222" stroke-width="0.6" stroke-opacity="0.8"/><rect x="147.2" y="168" width="400.50000000000006" height="9.300000000000011" fill="none" stroke="#444" stroke-width="0.8"/><text x="157.74" y="186.8" font-size="9.5" text-anchor="middle">-36</text><text x="178.82" y="186.8" font-size="9.5" text-anchor="middle">-32</text><text x="199.90" y="186.8" font-size="9.5" text-anchor="middle">-28</text><text x="220.98" y="186.8" font-size="9.5" text-anchor="middle">-24</text><text x="242.06" y="186.8" font-size="9.5" text-anchor="middle">-20</text><text x="263.13" y="186.8" font-size="9.5" text-anchor="middle">-16</text><text x="284.21" y="186.8" font-size="9.5" text-anchor="middle">-12</text><text x="305.29" y="186.8" font-size="9.5" text-anchor="middle">-8</text><text x="326.37" y="186.8" font-size="9.5" text-anchor="middle">-4</text><text x="347.45" y="186.8" font-size="9.5" text-anchor="middle">0</text><text x="368.53" y="186.8" font-size="9.5" text-anchor="middle">4</text><text x="389.61" y="186.8" font-size="9.5" text-anchor="middle">8</text><text x="410.69" y="186.8" font-size="9.5" text-anchor="middle">12</text><text x="431.77" y="186.8" font-size="9.5" text-anchor="middle">16</text><text x="452.84" y="186.8" font-size="9.5" text-anchor="middle">20</text><text x="473.92" y="186.8" font-size="9.5" text-anchor="middle">24</text><text x="495.00" y="186.8" font-size="9.5" text-anchor="middle">28</text><text x="516.08" y="186.8" font-size="9.5" text-anchor="middle">32</text><text x="537.16" y="186.8" font-size="9.5" text-anchor="middle">36</text><rect x="1.30" y="343.4" width="8.74" height="9.200000000000045" fill="#8250d8"/><rect x="9.74" y="343.4" width="8.74" height="9.200000000000045" fill="#6a48d8"/><rect x="18.18" y="343.4" width="8.74" height="9.200000000000045" fill="#4a30d0"/><rect x="26.62" y="343.4" width="8.74" height="9.200000000000045" fill="#2818d0"/><rect x="35.06" y="343.4" width="8.74" height="9.200000000000045" fill="#0000d8"/><rect x="43.50" y="343.4" width="8.74" height="9.200000000000045" fill="#1020e0"/><rect x="51.94" y="343.4" width="8.74" height="9.200000000000045" fill="#2038e0"/><rect x="60.38" y="343.4" width="8.74" height="9.200000000000045" fill="#2848e0"/><rect x="68.82" y="343.4" width="8.74" height="9.200000000000045" fill="#3860e8"/><rect x="77.26" y="343.4" width="8.74" height="9.200000000000045" fill="#4870e8"/><rect x="85.69" y="343.4" width="8.74" height="9.200000000000045" fill="#5078e8"/><rect x="94.13" y="343.4" width="8.74" height="9.200000000000045" fill="#6488e8"/><rect x="102.57" y="343.4" width="8.74" height="9.200000000000045" fill="#6c8ce8"/><rect x="111.01" y="343.4" width="8.74" height="9.200000000000045" fill="#78a0f0"/><rect x="119.45" y="343.4" width="8.74" height="9.200000000000045" fill="#88b8e8"/><rect x="127.89" y="343.4" width="8.74" height="9.200000000000045" fill="#90cce8"/><rect x="136.33" y="343.4" width="8.74" height="9.200000000000045" fill="#a0dce0"/><rect x="144.77" y="343.4" width="8.74" height="9.200000000000045" fill="#a8e0e0"/><rect x="153.21" y="343.4" width="8.74" height="9.200000000000045" fill="#ffffff"/><rect x="161.65" y="343.4" width="8.74" height="9.200000000000045" fill="#ffffff"/><rect x="170.09" y="343.4" width="8.74" height="9.200000000000045" fill="#f0d8a8"/><rect x="178.53" y="343.4" width="8.74" height="9.200000000000045" fill="#e0b880"/><rect x="186.97" y="343.4" width="8.74" height="9.200000000000045" fill="#f0c050"/><rect x="195.41" y="343.4" width="8.74" height="9.200000000000045" fill="#ffe000"/><rect x="203.85" y="343.4" width="8.74" height="9.200000000000045" fill="#ffc800"/><rect x="212.29" y="343.4" width="8.74" height="9.200000000000045" fill="#ffa800"/><rect x="220.73" y="343.4" width="8.74" height="9.200000000000045" fill="#ff8800"/><rect x="229.17" y="343.4" width="8.74" height="9.200000000000045" fill="#ff7000"/><rect x="237.61" y="343.4" width="8.74" height="9.200000000000045" fill="#ff5800"/><rect x="246.04" y="343.4" width="8.74" height="9.200000000000045" fill="#ff4000"/><rect x="254.48" y="343.4" width="8.74" height="9.200000000000045" fill="#f04010"/><rect x="262.92" y="343.4" width="8.74" height="9.200000000000045" fill="#e03018"/><rect x="271.36" y="343.4" width="8.74" height="9.200000000000045" fill="#d02828"/><rect x="279.80" y="343.4" width="8.74" height="9.200000000000045" fill="#b82028"/><rect x="288.24" y="343.4" width="8.74" height="9.200000000000045" fill="#c83840"/><rect x="296.68" y="343.4" width="8.74" height="9.200000000000045" fill="#d85058"/><rect x="305.12" y="343.4" width="8.74" height="9.200000000000045" fill="#e07078"/><rect x="313.56" y="343.4" width="8.74" height="9.200000000000045" fill="#f0a0a8"/><line x1="9.74" y1="343.4" x2="9.74" y2="352.6" stroke="#222" stroke-width="0.6" stroke-opacity="0.8"/><line x1="18.18" y1="343.4" x2="18.18" y2="352.6" stroke="#222" stroke-width="0.6" stroke-opacity="0.8"/><line x1="26.62" y1="343.4" x2="26.62" y2="352.6" stroke="#222" stroke-width="0.6" stroke-opacity="0.8"/><line x1="35.06" y1="343.4" x2="35.06" y2="352.6" stroke="#222" stroke-width="0.6" stroke-opacity="0.8"/><line x1="43.50" y1="343.4" x2="43.50" y2="352.6" stroke="#222" stroke-width="0.6" stroke-opacity="0.8"/><line x1="51.94" y1="343.4" x2="51.94" y2="352.6" stroke="#222" stroke-width="0.6" stroke-opacity="0.8"/><line x1="60.38" y1="343.4" x2="60.38" y2="352.6" stroke="#222" stroke-width="0.6" stroke-opacity="0.8"/><line x1="68.82" y1="343.4" x2="68.82" y2="352.6" stroke="#222" stroke-width="0.6" stroke-opacity="0.8"/><line x1="77.26" y1="343.4" x2="77.26" y2="352.6" stroke="#222" stroke-width="0.6" stroke-opacity="0.8"/><line x1="85.69" y1="343.4" x2="85.69" y2="352.6" stroke="#222" stroke-width="0.6" stroke-opacity="0.8"/><line x1="94.13" y1="343.4" x2="94.13" y2="352.6" stroke="#222" stroke-width="0.6" stroke-opacity="0.8"/><line x1="102.57" y1="343.4" x2="102.57" y2="352.6" stroke="#222" stroke-width="0.6" stroke-opacity="0.8"/><line x1="111.01" y1="343.4" x2="111.01" y2="352.6" stroke="#222" stroke-width="0.6" stroke-opacity="0.8"/><line x1="119.45" y1="343.4" x2="119.45" y2="352.6" stroke="#222" stroke-width="0.6" stroke-opacity="0.8"/><line x1="127.89" y1="343.4" x2="127.89" y2="352.6" stroke="#222" stroke-width="0.6" stroke-opacity="0.8"/><line x1="136.33" y1="343.4" x2="136.33" y2="352.6" stroke="#222" stroke-width="0.6" stroke-opacity="0.8"/><line x1="144.77" y1="343.4" x2="144.77" y2="352.6" stroke="#222" stroke-width="0.6" stroke-opacity="0.8"/><line x1="153.21" y1="343.4" x2="153.21" y2="352.6" stroke="#222" stroke-width="0.6" stroke-opacity="0.8"/><line x1="161.65" y1="343.4" x2="161.65" y2="352.6" stroke="#222" stroke-width="0.6" stroke-opacity="0.8"/><line x1="170.09" y1="343.4" x2="170.09" y2="352.6" stroke="#222" stroke-width="0.6" stroke-opacity="0.8"/><line x1="178.53" y1="343.4" x2="178.53" y2="352.6" stroke="#222" stroke-width="0.6" stroke-opacity="0.8"/><line x1="186.97" y1="343.4" x2="186.97" y2="352.6" stroke="#222" stroke-width="0.6" stroke-opacity="0.8"/><line x1="195.41" y1="343.4" x2="195.41" y2="352.6" stroke="#222" stroke-width="0.6" stroke-opacity="0.8"/><line x1="203.85" y1="343.4" x2="203.85" y2="352.6" stroke="#222" stroke-width="0.6" stroke-opacity="0.8"/><line x1="212.29" y1="343.4" x2="212.29" y2="352.6" stroke="#222" stroke-width="0.6" stroke-opacity="0.8"/><line x1="220.73" y1="343.4" x2="220.73" y2="352.6" stroke="#222" stroke-width="0.6" stroke-opacity="0.8"/><line x1="229.17" y1="343.4" x2="229.17" y2="352.6" stroke="#222" stroke-width="0.6" stroke-opacity="0.8"/><line x1="237.61" y1="343.4" x2="237.61" y2="352.6" stroke="#222" stroke-width="0.6" stroke-opacity="0.8"/><line x1="246.04" y1="343.4" x2="246.04" y2="352.6" stroke="#222" stroke-width="0.6" stroke-opacity="0.8"/><line x1="254.48" y1="343.4" x2="254.48" y2="352.6" stroke="#222" stroke-width="0.6" stroke-opacity="0.8"/><line x1="262.92" y1="343.4" x2="262.92" y2="352.6" stroke="#222" stroke-width="0.6" stroke-opacity="0.8"/><line x1="271.36" y1="343.4" x2="271.36" y2="352.6" stroke="#222" stroke-width="0.6" stroke-opacity="0.8"/><line x1="279.80" y1="343.4" x2="279.80" y2="352.6" stroke="#222" stroke-width="0.6" stroke-opacity="0.8"/><line x1="288.24" y1="343.4" x2="288.24" y2="352.6" stroke="#222" stroke-width="0.6" stroke-opacity="0.8"/><line x1="296.68" y1="343.4" x2="296.68" y2="352.6" stroke="#222" stroke-width="0.6" stroke-opacity="0.8"/><line x1="305.12" y1="343.4" x2="305.12" y2="352.6" stroke="#222" stroke-width="0.6" stroke-opacity="0.8"/><line x1="313.56" y1="343.4" x2="313.56" y2="352.6" stroke="#222" stroke-width="0.6" stroke-opacity="0.8"/><rect x="1.3" y="343.4" width="320.7" height="9.200000000000045" fill="none" stroke="#444" stroke-width="0.8"/><text x="9.74" y="362.1" font-size="9.5" text-anchor="middle">-36</text><text x="26.62" y="362.1" font-size="9.5" text-anchor="middle">-32</text><text x="43.50" y="362.1" font-size="9.5" text-anchor="middle">-28</text><text x="60.38" y="362.1" font-size="9.5" text-anchor="middle">-24</text><text x="77.26" y="362.1" font-size="9.5" text-anchor="middle">-20</text><text x="94.13" y="362.1" font-size="9.5" text-anchor="middle">-16</text><text x="111.01" y="362.1" font-size="9.5" text-anchor="middle">-12</text><text x="127.89" y="362.1" font-size="9.5" text-anchor="middle">-8</text><text x="144.77" y="362.1" font-size="9.5" text-anchor="middle">-4</text><text x="161.65" y="362.1" font-size="9.5" text-anchor="middle">0</text><text x="178.53" y="362.1" font-size="9.5" text-anchor="middle">4</text><text x="195.41" y="362.1" font-size="9.5" text-anchor="middle">8</text><text x="212.29" y="362.1" font-size="9.5" text-anchor="middle">12</text><text x="229.17" y="362.1" font-size="9.5" text-anchor="middle">16</text><text x="246.04" y="362.1" font-size="9.5" text-anchor="middle">20</text><text x="262.92" y="362.1" font-size="9.5" text-anchor="middle">24</text><text x="279.80" y="362.1" font-size="9.5" text-anchor="middle">28</text><text x="296.68" y="362.1" font-size="9.5" text-anchor="middle">32</text><text x="313.56" y="362.1" font-size="9.5" text-anchor="middle">36</text><rect x="364.00" y="343.4" width="8.70" height="9.200000000000045" fill="#8250d8"/><rect x="372.40" y="343.4" width="8.70" height="9.200000000000045" fill="#6a48d8"/><rect x="380.81" y="343.4" width="8.70" height="9.200000000000045" fill="#4a30d0"/><rect x="389.21" y="343.4" width="8.70" height="9.200000000000045" fill="#2818d0"/><rect x="397.61" y="343.4" width="8.70" height="9.200000000000045" fill="#0000d8"/><rect x="406.01" y="343.4" width="8.70" height="9.200000000000045" fill="#1020e0"/><rect x="414.42" y="343.4" width="8.70" height="9.200000000000045" fill="#2038e0"/><rect x="422.82" y="343.4" width="8.70" height="9.200000000000045" fill="#2848e0"/><rect x="431.22" y="343.4" width="8.70" height="9.200000000000045" fill="#3860e8"/><rect x="439.62" y="343.4" width="8.70" height="9.200000000000045" fill="#4870e8"/><rect x="448.03" y="343.4" width="8.70" height="9.200000000000045" fill="#5078e8"/><rect x="456.43" y="343.4" width="8.70" height="9.200000000000045" fill="#6488e8"/><rect x="464.83" y="343.4" width="8.70" height="9.200000000000045" fill="#6c8ce8"/><rect x="473.23" y="343.4" width="8.70" height="9.200000000000045" fill="#78a0f0"/><rect x="481.64" y="343.4" width="8.70" height="9.200000000000045" fill="#88b8e8"/><rect x="490.04" y="343.4" width="8.70" height="9.200000000000045" fill="#90cce8"/><rect x="498.44" y="343.4" width="8.70" height="9.200000000000045" fill="#a0dce0"/><rect x="506.84" y="343.4" width="8.70" height="9.200000000000045" fill="#a8e0e0"/><rect x="515.25" y="343.4" width="8.70" height="9.200000000000045" fill="#ffffff"/><rect x="523.65" y="343.4" width="8.70" height="9.200000000000045" fill="#ffffff"/><rect x="532.05" y="343.4" width="8.70" height="9.200000000000045" fill="#f0d8a8"/><rect x="540.46" y="343.4" width="8.70" height="9.200000000000045" fill="#e0b880"/><rect x="548.86" y="343.4" width="8.70" height="9.200000000000045" fill="#f0c050"/><rect x="557.26" y="343.4" width="8.70" height="9.200000000000045" fill="#ffe000"/><rect x="565.66" y="343.4" width="8.70" height="9.200000000000045" fill="#ffc800"/><rect x="574.07" y="343.4" width="8.70" height="9.200000000000045" fill="#ffa800"/><rect x="582.47" y="343.4" width="8.70" height="9.200000000000045" fill="#ff8800"/><rect x="590.87" y="343.4" width="8.70" height="9.200000000000045" fill="#ff7000"/><rect x="599.27" y="343.4" width="8.70" height="9.200000000000045" fill="#ff5800"/><rect x="607.68" y="343.4" width="8.70" height="9.200000000000045" fill="#ff4000"/><rect x="616.08" y="343.4" width="8.70" height="9.200000000000045" fill="#f04010"/><rect x="624.48" y="343.4" width="8.70" height="9.200000000000045" fill="#e03018"/><rect x="632.88" y="343.4" width="8.70" height="9.200000000000045" fill="#d02828"/><rect x="641.29" y="343.4" width="8.70" height="9.200000000000045" fill="#b82028"/><rect x="649.69" y="343.4" width="8.70" height="9.200000000000045" fill="#c83840"/><rect x="658.09" y="343.4" width="8.70" height="9.200000000000045" fill="#d85058"/><rect x="666.49" y="343.4" width="8.70" height="9.200000000000045" fill="#e07078"/><rect x="674.90" y="343.4" width="8.70" height="9.200000000000045" fill="#f0a0a8"/><line x1="372.40" y1="343.4" x2="372.40" y2="352.6" stroke="#222" stroke-width="0.6" stroke-opacity="0.8"/><line x1="380.81" y1="343.4" x2="380.81" y2="352.6" stroke="#222" stroke-width="0.6" stroke-opacity="0.8"/><line x1="389.21" y1="343.4" x2="389.21" y2="352.6" stroke="#222" stroke-width="0.6" stroke-opacity="0.8"/><line x1="397.61" y1="343.4" x2="397.61" y2="352.6" stroke="#222" stroke-width="0.6" stroke-opacity="0.8"/><line x1="406.01" y1="343.4" x2="406.01" y2="352.6" stroke="#222" stroke-width="0.6" stroke-opacity="0.8"/><line x1="414.42" y1="343.4" x2="414.42" y2="352.6" stroke="#222" stroke-width="0.6" stroke-opacity="0.8"/><line x1="422.82" y1="343.4" x2="422.82" y2="352.6" stroke="#222" stroke-width="0.6" stroke-opacity="0.8"/><line x1="431.22" y1="343.4" x2="431.22" y2="352.6" stroke="#222" stroke-width="0.6" stroke-opacity="0.8"/><line x1="439.62" y1="343.4" x2="439.62" y2="352.6" stroke="#222" stroke-width="0.6" stroke-opacity="0.8"/><line x1="448.03" y1="343.4" x2="448.03" y2="352.6" stroke="#222" stroke-width="0.6" stroke-opacity="0.8"/><line x1="456.43" y1="343.4" x2="456.43" y2="352.6" stroke="#222" stroke-width="0.6" stroke-opacity="0.8"/><line x1="464.83" y1="343.4" x2="464.83" y2="352.6" stroke="#222" stroke-width="0.6" stroke-opacity="0.8"/><line x1="473.23" y1="343.4" x2="473.23" y2="352.6" stroke="#222" stroke-width="0.6" stroke-opacity="0.8"/><line x1="481.64" y1="343.4" x2="481.64" y2="352.6" stroke="#222" stroke-width="0.6" stroke-opacity="0.8"/><line x1="490.04" y1="343.4" x2="490.04" y2="352.6" stroke="#222" stroke-width="0.6" stroke-opacity="0.8"/><line x1="498.44" y1="343.4" x2="498.44" y2="352.6" stroke="#222" stroke-width="0.6" stroke-opacity="0.8"/><line x1="506.84" y1="343.4" x2="506.84" y2="352.6" stroke="#222" stroke-width="0.6" stroke-opacity="0.8"/><line x1="515.25" y1="343.4" x2="515.25" y2="352.6" stroke="#222" stroke-width="0.6" stroke-opacity="0.8"/><line x1="523.65" y1="343.4" x2="523.65" y2="352.6" stroke="#222" stroke-width="0.6" stroke-opacity="0.8"/><line x1="532.05" y1="343.4" x2="532.05" y2="352.6" stroke="#222" stroke-width="0.6" stroke-opacity="0.8"/><line x1="540.46" y1="343.4" x2="540.46" y2="352.6" stroke="#222" stroke-width="0.6" stroke-opacity="0.8"/><line x1="548.86" y1="343.4" x2="548.86" y2="352.6" stroke="#222" stroke-width="0.6" stroke-opacity="0.8"/><line x1="557.26" y1="343.4" x2="557.26" y2="352.6" stroke="#222" stroke-width="0.6" stroke-opacity="0.8"/><line x1="565.66" y1="343.4" x2="565.66" y2="352.6" stroke="#222" stroke-width="0.6" stroke-opacity="0.8"/><line x1="574.07" y1="343.4" x2="574.07" y2="352.6" stroke="#222" stroke-width="0.6" stroke-opacity="0.8"/><line x1="582.47" y1="343.4" x2="582.47" y2="352.6" stroke="#222" stroke-width="0.6" stroke-opacity="0.8"/><line x1="590.87" y1="343.4" x2="590.87" y2="352.6" stroke="#222" stroke-width="0.6" stroke-opacity="0.8"/><line x1="599.27" y1="343.4" x2="599.27" y2="352.6" stroke="#222" stroke-width="0.6" stroke-opacity="0.8"/><line x1="607.68" y1="343.4" x2="607.68" y2="352.6" stroke="#222" stroke-width="0.6" stroke-opacity="0.8"/><line x1="616.08" y1="343.4" x2="616.08" y2="352.6" stroke="#222" stroke-width="0.6" stroke-opacity="0.8"/><line x1="624.48" y1="343.4" x2="624.48" y2="352.6" stroke="#222" stroke-width="0.6" stroke-opacity="0.8"/><line x1="632.88" y1="343.4" x2="632.88" y2="352.6" stroke="#222" stroke-width="0.6" stroke-opacity="0.8"/><line x1="641.29" y1="343.4" x2="641.29" y2="352.6" stroke="#222" stroke-width="0.6" stroke-opacity="0.8"/><line x1="649.69" y1="343.4" x2="649.69" y2="352.6" stroke="#222" stroke-width="0.6" stroke-opacity="0.8"/><line x1="658.09" y1="343.4" x2="658.09" y2="352.6" stroke="#222" stroke-width="0.6" stroke-opacity="0.8"/><line x1="666.49" y1="343.4" x2="666.49" y2="352.6" stroke="#222" stroke-width="0.6" stroke-opacity="0.8"/><line x1="674.90" y1="343.4" x2="674.90" y2="352.6" stroke="#222" stroke-width="0.6" stroke-opacity="0.8"/><rect x="364" y="343.4" width="319.29999999999995" height="9.200000000000045" fill="none" stroke="#444" stroke-width="0.8"/><text x="372.40" y="362.1" font-size="9.5" text-anchor="middle">-1.8</text><text x="397.61" y="362.1" font-size="9.5" text-anchor="middle">-1.5</text><text x="422.82" y="362.1" font-size="9.5" text-anchor="middle">-1.2</text><text x="448.03" y="362.1" font-size="9.5" text-anchor="middle">-0.9</text><text x="473.23" y="362.1" font-size="9.5" text-anchor="middle">-0.6</text><text x="498.44" y="362.1" font-size="9.5" text-anchor="middle">-0.3</text><text x="523.65" y="362.1" font-size="9.5" text-anchor="middle">0</text><text x="548.86" y="362.1" font-size="9.5" text-anchor="middle">0.3</text><text x="574.07" y="362.1" font-size="9.5" text-anchor="middle">0.6</text><text x="599.27" y="362.1" font-size="9.5" text-anchor="middle">0.9</text><text x="624.48" y="362.1" font-size="9.5" text-anchor="middle">1.2</text><text x="649.69" y="362.1" font-size="9.5" text-anchor="middle">1.5</text><text x="674.90" y="362.1" font-size="9.5" text-anchor="middle">1.8</text>
</svg></body></html>
